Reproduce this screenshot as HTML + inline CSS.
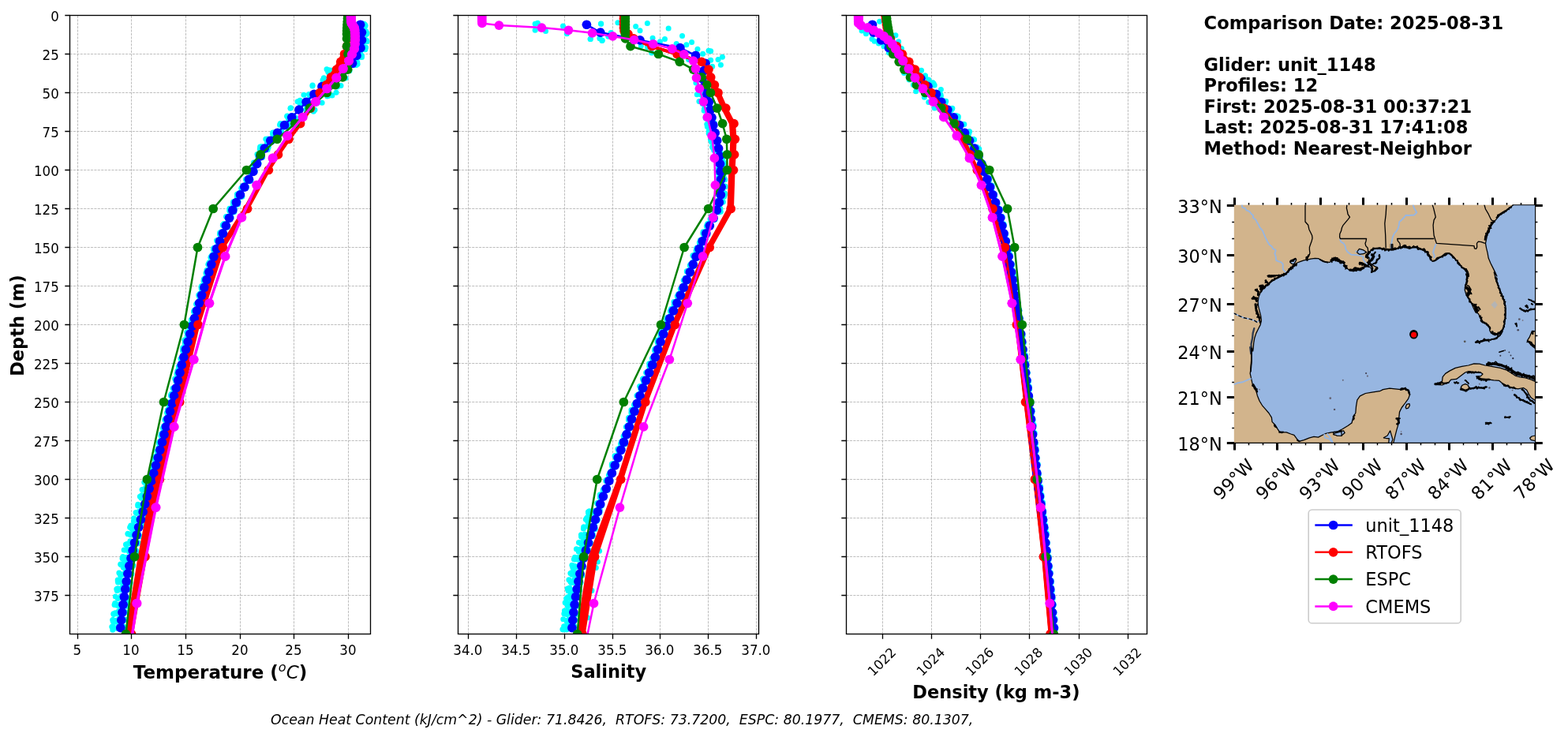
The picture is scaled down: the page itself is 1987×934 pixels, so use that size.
<!DOCTYPE html>
<html lang="en"><head><meta charset="utf-8"><title>Glider / model profile comparison</title>
<style>html,body{margin:0;padding:0;background:#fff}svg{display:block}text{font-family:'DejaVu Sans','Liberation Sans',sans-serif;fill:#000}.tk{font-size:16.67px}.b{font-weight:bold;font-size:22.5px}.g{stroke:#b0b0b0;stroke-width:0.83;stroke-dasharray:3.08 1.33;fill:none}.sp{stroke:#000;stroke-width:1.33;fill:none}</style></head><body>
<svg width="1987" height="934" viewBox="0 0 1987 934">
<rect width="1987" height="934" fill="#fff"/>
<defs>
<clipPath id="c0"><rect x="88.5" y="19.5" width="381" height="784"/></clipPath>
<clipPath id="c1"><rect x="580.5" y="19.5" width="381" height="784"/></clipPath>
<clipPath id="c2"><rect x="1072.5" y="19.5" width="381" height="784"/></clipPath>
<clipPath id="cm"><rect x="1563.8" y="259.8" width="382.2" height="301.9"/></clipPath>
</defs>
<path class="g" d="M98.5 803.5V19.5M166.5 803.5V19.5M235.5 803.5V19.5M304.5 803.5V19.5M372.5 803.5V19.5M441.5 803.5V19.5M88.5 19.5H469.5M88.5 68.5H469.5M88.5 117.5H469.5M88.5 166.5H469.5M88.5 215.5H469.5M88.5 264.5H469.5M88.5 313.5H469.5M88.5 362.5H469.5M88.5 411.5H469.5M88.5 460.5H469.5M88.5 509.5H469.5M88.5 558.5H469.5M88.5 607.5H469.5M88.5 656.5H469.5M88.5 705.5H469.5M88.5 754.5H469.5"/>
<g clip-path="url(#c0)">
<g fill="#00ffff"><circle cx="454.6" cy="32.98" r="3.5"/><circle cx="463.1" cy="32.55" r="3.5"/><circle cx="458.17" cy="30.05" r="3.5"/><circle cx="458.95" cy="30.78" r="3.5"/><circle cx="461.26" cy="30.28" r="3.5"/><circle cx="458.65" cy="31.68" r="3.5"/><circle cx="462.32" cy="31.28" r="3.5"/><circle cx="457" cy="32.54" r="3.5"/><circle cx="459.86" cy="30.01" r="3.5"/><circle cx="462.33" cy="33.67" r="3.5"/><circle cx="461.49" cy="33.27" r="3.5"/><circle cx="457.24" cy="32.41" r="3.5"/><circle cx="456.5" cy="43.05" r="3.5"/><circle cx="465" cy="41.98" r="3.5"/><circle cx="460.51" cy="39.06" r="3.5"/><circle cx="460.19" cy="41.61" r="3.5"/><circle cx="464.26" cy="43.39" r="3.5"/><circle cx="460.55" cy="42.89" r="3.5"/><circle cx="458.71" cy="42.59" r="3.5"/><circle cx="461.16" cy="38.63" r="3.5"/><circle cx="462.62" cy="40.55" r="3.5"/><circle cx="463.51" cy="41.9" r="3.5"/><circle cx="456.51" cy="41.03" r="3.5"/><circle cx="463.87" cy="39.78" r="3.5"/><circle cx="456.5" cy="49.99" r="3.5"/><circle cx="465" cy="52.71" r="3.5"/><circle cx="458.12" cy="51.2" r="3.5"/><circle cx="458.53" cy="53.2" r="3.5"/><circle cx="463.33" cy="50.6" r="3.5"/><circle cx="457.18" cy="49.96" r="3.5"/><circle cx="460.82" cy="53.02" r="3.5"/><circle cx="457.43" cy="51.12" r="3.5"/><circle cx="462.51" cy="51.1" r="3.5"/><circle cx="463.42" cy="51.06" r="3.5"/><circle cx="464.69" cy="51.38" r="3.5"/><circle cx="461.49" cy="50.58" r="3.5"/><circle cx="455" cy="61.14" r="3.5"/><circle cx="463.5" cy="60.08" r="3.5"/><circle cx="459.89" cy="59.61" r="3.5"/><circle cx="456.61" cy="59.09" r="3.5"/><circle cx="460.21" cy="61.44" r="3.5"/><circle cx="459.05" cy="58.61" r="3.5"/><circle cx="461.44" cy="62.54" r="3.5"/><circle cx="462.85" cy="62.37" r="3.5"/><circle cx="462.63" cy="62.78" r="3.5"/><circle cx="459.6" cy="60.12" r="3.5"/><circle cx="460.99" cy="59.54" r="3.5"/><circle cx="461.9" cy="62.41" r="3.5"/><circle cx="450" cy="72.44" r="3.5"/><circle cx="458.5" cy="70.91" r="3.5"/><circle cx="458.07" cy="70.86" r="3.5"/><circle cx="453.83" cy="71.26" r="3.5"/><circle cx="458.47" cy="72.54" r="3.5"/><circle cx="456.74" cy="68.37" r="3.5"/><circle cx="455.21" cy="70.39" r="3.5"/><circle cx="455.36" cy="72.19" r="3.5"/><circle cx="452.07" cy="71.62" r="3.5"/><circle cx="451" cy="69.06" r="3.5"/><circle cx="456.75" cy="69.62" r="3.5"/><circle cx="456.94" cy="68.46" r="3.5"/><circle cx="444.6" cy="78.49" r="3.5"/><circle cx="453.1" cy="81.25" r="3.5"/><circle cx="444.98" cy="80.63" r="3.5"/><circle cx="452.34" cy="80.43" r="3.5"/><circle cx="450.39" cy="77.89" r="3.5"/><circle cx="450" cy="80.79" r="3.5"/><circle cx="449.5" cy="79.72" r="3.5"/><circle cx="447.75" cy="82.66" r="3.5"/><circle cx="444.91" cy="77.87" r="3.5"/><circle cx="452.77" cy="78.68" r="3.5"/><circle cx="445.65" cy="78.81" r="3.5"/><circle cx="451.41" cy="82.44" r="3.5"/><circle cx="414" cy="87.67" r="3.5"/><circle cx="443" cy="89.69" r="3.5"/><circle cx="416.94" cy="88.86" r="3.5"/><circle cx="420.4" cy="90.79" r="3.5"/><circle cx="424.16" cy="88.46" r="3.5"/><circle cx="428.61" cy="87.76" r="3.5"/><circle cx="416.93" cy="92.5" r="3.5"/><circle cx="419.78" cy="89.35" r="3.5"/><circle cx="435.22" cy="91.75" r="3.5"/><circle cx="440.64" cy="88.41" r="3.5"/><circle cx="433.51" cy="92.39" r="3.5"/><circle cx="415.68" cy="90.94" r="3.5"/><circle cx="409" cy="101.59" r="3.5"/><circle cx="438" cy="99.07" r="3.5"/><circle cx="416.27" cy="100.34" r="3.5"/><circle cx="421.83" cy="98.23" r="3.5"/><circle cx="422.68" cy="99.41" r="3.5"/><circle cx="425.5" cy="99.9" r="3.5"/><circle cx="418.03" cy="99.15" r="3.5"/><circle cx="433.29" cy="98.61" r="3.5"/><circle cx="425.26" cy="97.42" r="3.5"/><circle cx="430.51" cy="99.04" r="3.5"/><circle cx="410.33" cy="98.76" r="3.5"/><circle cx="415.96" cy="102.13" r="3.5"/><circle cx="396" cy="108.92" r="3.5"/><circle cx="432" cy="108.6" r="3.5"/><circle cx="408.93" cy="111.89" r="3.5"/><circle cx="418.81" cy="110.27" r="3.5"/><circle cx="421.76" cy="109.1" r="3.5"/><circle cx="410.92" cy="110.41" r="3.5"/><circle cx="396.05" cy="108.12" r="3.5"/><circle cx="408.04" cy="108.36" r="3.5"/><circle cx="418.95" cy="109.05" r="3.5"/><circle cx="427.52" cy="110" r="3.5"/><circle cx="410.92" cy="109.17" r="3.5"/><circle cx="421.27" cy="109.25" r="3.5"/><circle cx="385" cy="120.27" r="3.5"/><circle cx="426" cy="117.19" r="3.5"/><circle cx="403.26" cy="118.26" r="3.5"/><circle cx="391.47" cy="119.6" r="3.5"/><circle cx="404.98" cy="119.77" r="3.5"/><circle cx="415.97" cy="121.38" r="3.5"/><circle cx="405.28" cy="118.52" r="3.5"/><circle cx="404.14" cy="121.01" r="3.5"/><circle cx="420.88" cy="121.02" r="3.5"/><circle cx="392.71" cy="121.96" r="3.5"/><circle cx="410.96" cy="117.38" r="3.5"/><circle cx="414.75" cy="121.89" r="3.5"/><circle cx="377.1" cy="128.77" r="3.5"/><circle cx="408.1" cy="130.15" r="3.5"/><circle cx="386.9" cy="127.83" r="3.5"/><circle cx="399.34" cy="126.77" r="3.5"/><circle cx="402.6" cy="129.4" r="3.5"/><circle cx="380.13" cy="127.35" r="3.5"/><circle cx="397.23" cy="131.13" r="3.5"/><circle cx="385.78" cy="131.65" r="3.5"/><circle cx="380.21" cy="131.03" r="3.5"/><circle cx="389.4" cy="127.17" r="3.5"/><circle cx="385.62" cy="129.02" r="3.5"/><circle cx="401.66" cy="131.07" r="3.5"/><circle cx="367.95" cy="137.23" r="3.5"/><circle cx="398.95" cy="139.16" r="3.5"/><circle cx="388.12" cy="138.3" r="3.5"/><circle cx="394.98" cy="137.95" r="3.5"/><circle cx="368.53" cy="136.76" r="3.5"/><circle cx="389.06" cy="139.35" r="3.5"/><circle cx="397.29" cy="141.25" r="3.5"/><circle cx="396.16" cy="136.77" r="3.5"/><circle cx="391.17" cy="140.07" r="3.5"/><circle cx="388.27" cy="140.12" r="3.5"/><circle cx="395.93" cy="139.76" r="3.5"/><circle cx="379.5" cy="139.25" r="3.5"/><circle cx="363.75" cy="147.4" r="3.5"/><circle cx="374.75" cy="149.3" r="3.5"/><circle cx="363.85" cy="147.12" r="3.5"/><circle cx="367.42" cy="150.31" r="3.5"/><circle cx="371.65" cy="148.05" r="3.5"/><circle cx="370.58" cy="146.57" r="3.5"/><circle cx="365.55" cy="151.27" r="3.5"/><circle cx="366.93" cy="148.33" r="3.5"/><circle cx="369.78" cy="147.83" r="3.5"/><circle cx="369.01" cy="147.56" r="3.5"/><circle cx="364.28" cy="147.26" r="3.5"/><circle cx="369.5" cy="146.71" r="3.5"/><circle cx="354.55" cy="158.18" r="3.5"/><circle cx="365.55" cy="157.8" r="3.5"/><circle cx="359.11" cy="156.66" r="3.5"/><circle cx="364.55" cy="158.53" r="3.5"/><circle cx="363.8" cy="161.04" r="3.5"/><circle cx="358.33" cy="158.56" r="3.5"/><circle cx="362.25" cy="158.29" r="3.5"/><circle cx="357.87" cy="159.83" r="3.5"/><circle cx="364.39" cy="160.76" r="3.5"/><circle cx="361.44" cy="158.04" r="3.5"/><circle cx="365.27" cy="159.35" r="3.5"/><circle cx="355.27" cy="156.58" r="3.5"/><circle cx="345.6" cy="169.71" r="3.5"/><circle cx="356.6" cy="166.27" r="3.5"/><circle cx="345.69" cy="167.93" r="3.5"/><circle cx="351.31" cy="168.2" r="3.5"/><circle cx="350.97" cy="168.88" r="3.5"/><circle cx="353.07" cy="168.08" r="3.5"/><circle cx="349.65" cy="170.9" r="3.5"/><circle cx="348.47" cy="169.85" r="3.5"/><circle cx="350.34" cy="167.75" r="3.5"/><circle cx="346.3" cy="170.28" r="3.5"/><circle cx="353.32" cy="170.48" r="3.5"/><circle cx="350.57" cy="169.34" r="3.5"/><circle cx="336.82" cy="176.35" r="3.5"/><circle cx="347.82" cy="177.75" r="3.5"/><circle cx="339.1" cy="175.97" r="3.5"/><circle cx="347.25" cy="176.84" r="3.5"/><circle cx="338.43" cy="176.75" r="3.5"/><circle cx="340.98" cy="178.49" r="3.5"/><circle cx="338.49" cy="180.7" r="3.5"/><circle cx="347.64" cy="176.5" r="3.5"/><circle cx="341.29" cy="179.16" r="3.5"/><circle cx="346.48" cy="178.24" r="3.5"/><circle cx="346.91" cy="177.37" r="3.5"/><circle cx="342.31" cy="178.25" r="3.5"/><circle cx="329.27" cy="188.91" r="3.5"/><circle cx="340.27" cy="186.57" r="3.5"/><circle cx="335.98" cy="186.65" r="3.5"/><circle cx="333.02" cy="190.37" r="3.5"/><circle cx="339.16" cy="189.65" r="3.5"/><circle cx="329.67" cy="186.3" r="3.5"/><circle cx="332.1" cy="189.48" r="3.5"/><circle cx="338.54" cy="188.47" r="3.5"/><circle cx="337.17" cy="189.6" r="3.5"/><circle cx="330" cy="185.98" r="3.5"/><circle cx="338.83" cy="185.76" r="3.5"/><circle cx="331.75" cy="185.76" r="3.5"/><circle cx="325.95" cy="195.44" r="3.5"/><circle cx="332.45" cy="199.58" r="3.5"/><circle cx="328.1" cy="196.16" r="3.5"/><circle cx="326.92" cy="198.64" r="3.5"/><circle cx="332.25" cy="197.88" r="3.5"/><circle cx="331.81" cy="197.87" r="3.5"/><circle cx="329.68" cy="198.75" r="3.5"/><circle cx="331.18" cy="199.15" r="3.5"/><circle cx="332.39" cy="199.09" r="3.5"/><circle cx="331.84" cy="196.39" r="3.5"/><circle cx="329.43" cy="198.35" r="3.5"/><circle cx="331.32" cy="197.77" r="3.5"/><circle cx="321.55" cy="209.12" r="3.5"/><circle cx="328.05" cy="207.1" r="3.5"/><circle cx="325.36" cy="209.42" r="3.5"/><circle cx="326.74" cy="208.44" r="3.5"/><circle cx="321.55" cy="206.07" r="3.5"/><circle cx="324.84" cy="206.43" r="3.5"/><circle cx="321.98" cy="209.46" r="3.5"/><circle cx="327.68" cy="206.67" r="3.5"/><circle cx="324.2" cy="209.21" r="3.5"/><circle cx="321.95" cy="208.36" r="3.5"/><circle cx="322.38" cy="206.6" r="3.5"/><circle cx="326.94" cy="205.44" r="3.5"/><circle cx="316.8" cy="215.14" r="3.5"/><circle cx="323.3" cy="217.05" r="3.5"/><circle cx="320" cy="219.28" r="3.5"/><circle cx="321.46" cy="218.33" r="3.5"/><circle cx="317.78" cy="219.89" r="3.5"/><circle cx="319.47" cy="218.02" r="3.5"/><circle cx="319.31" cy="215.2" r="3.5"/><circle cx="319.86" cy="215.72" r="3.5"/><circle cx="317.01" cy="218.05" r="3.5"/><circle cx="320.89" cy="215.49" r="3.5"/><circle cx="320.37" cy="216.69" r="3.5"/><circle cx="319.29" cy="218.84" r="3.5"/><circle cx="311.45" cy="227.21" r="3.5"/><circle cx="317.95" cy="229.17" r="3.5"/><circle cx="315.42" cy="227.1" r="3.5"/><circle cx="315.56" cy="226.45" r="3.5"/><circle cx="312.26" cy="228.17" r="3.5"/><circle cx="315.49" cy="228.7" r="3.5"/><circle cx="312.28" cy="229.32" r="3.5"/><circle cx="316.65" cy="229.34" r="3.5"/><circle cx="317.12" cy="228.17" r="3.5"/><circle cx="316.72" cy="227.36" r="3.5"/><circle cx="316.56" cy="225.71" r="3.5"/><circle cx="316.53" cy="226.98" r="3.5"/><circle cx="305.83" cy="238.34" r="3.5"/><circle cx="312.33" cy="236.84" r="3.5"/><circle cx="310.96" cy="234.94" r="3.5"/><circle cx="306.12" cy="239.23" r="3.5"/><circle cx="308.99" cy="239.07" r="3.5"/><circle cx="311.97" cy="237.89" r="3.5"/><circle cx="309.54" cy="235.64" r="3.5"/><circle cx="306.43" cy="238.66" r="3.5"/><circle cx="311.6" cy="238.46" r="3.5"/><circle cx="310.37" cy="236.66" r="3.5"/><circle cx="307.81" cy="235.13" r="3.5"/><circle cx="308.59" cy="237.39" r="3.5"/><circle cx="300.43" cy="248.97" r="3.5"/><circle cx="306.93" cy="249.04" r="3.5"/><circle cx="303.13" cy="244.86" r="3.5"/><circle cx="305.45" cy="248.03" r="3.5"/><circle cx="300.62" cy="246.59" r="3.5"/><circle cx="304.89" cy="244.51" r="3.5"/><circle cx="306.4" cy="249.17" r="3.5"/><circle cx="305.12" cy="244.75" r="3.5"/><circle cx="300.88" cy="246.16" r="3.5"/><circle cx="300.62" cy="246.1" r="3.5"/><circle cx="300.49" cy="249.23" r="3.5"/><circle cx="305.75" cy="244.71" r="3.5"/><circle cx="295.4" cy="258.63" r="3.5"/><circle cx="301.9" cy="255.2" r="3.5"/><circle cx="296.73" cy="257.53" r="3.5"/><circle cx="301.5" cy="254.78" r="3.5"/><circle cx="295.45" cy="256.01" r="3.5"/><circle cx="295.56" cy="257.18" r="3.5"/><circle cx="300.98" cy="255.09" r="3.5"/><circle cx="296.13" cy="255.88" r="3.5"/><circle cx="301.63" cy="254.81" r="3.5"/><circle cx="301.68" cy="255.97" r="3.5"/><circle cx="298.48" cy="255.62" r="3.5"/><circle cx="301.49" cy="258.95" r="3.5"/><circle cx="290.82" cy="267.14" r="3.5"/><circle cx="297.32" cy="264.88" r="3.5"/><circle cx="297.28" cy="264.47" r="3.5"/><circle cx="294.6" cy="264.74" r="3.5"/><circle cx="296.66" cy="268.69" r="3.5"/><circle cx="296.05" cy="265.54" r="3.5"/><circle cx="292.4" cy="267.73" r="3.5"/><circle cx="292.72" cy="266.06" r="3.5"/><circle cx="291.13" cy="264.62" r="3.5"/><circle cx="290.96" cy="264.35" r="3.5"/><circle cx="291.3" cy="266.06" r="3.5"/><circle cx="294.41" cy="267.66" r="3.5"/><circle cx="286.5" cy="274.47" r="3.5"/><circle cx="293" cy="275.87" r="3.5"/><circle cx="290.64" cy="274.18" r="3.5"/><circle cx="289.39" cy="275.61" r="3.5"/><circle cx="292.67" cy="274.05" r="3.5"/><circle cx="289.16" cy="275.85" r="3.5"/><circle cx="291.23" cy="275.36" r="3.5"/><circle cx="287.83" cy="275.23" r="3.5"/><circle cx="289.56" cy="278.51" r="3.5"/><circle cx="291.68" cy="275.14" r="3.5"/><circle cx="290.13" cy="277.2" r="3.5"/><circle cx="291.67" cy="275.99" r="3.5"/><circle cx="282.35" cy="285.55" r="3.5"/><circle cx="288.85" cy="287.4" r="3.5"/><circle cx="285.16" cy="284.8" r="3.5"/><circle cx="285.3" cy="288.25" r="3.5"/><circle cx="283.28" cy="285.87" r="3.5"/><circle cx="286.49" cy="285.98" r="3.5"/><circle cx="283.67" cy="283.57" r="3.5"/><circle cx="286.89" cy="286.65" r="3.5"/><circle cx="282.4" cy="285.05" r="3.5"/><circle cx="287.35" cy="286.7" r="3.5"/><circle cx="285.89" cy="284.34" r="3.5"/><circle cx="286.94" cy="285.92" r="3.5"/><circle cx="278.47" cy="296.75" r="3.5"/><circle cx="284.97" cy="297.16" r="3.5"/><circle cx="279.99" cy="297.17" r="3.5"/><circle cx="280.3" cy="298.28" r="3.5"/><circle cx="279.26" cy="297.78" r="3.5"/><circle cx="278.74" cy="294.64" r="3.5"/><circle cx="281.89" cy="296.27" r="3.5"/><circle cx="281.05" cy="293.87" r="3.5"/><circle cx="280.12" cy="294.78" r="3.5"/><circle cx="283.38" cy="297.9" r="3.5"/><circle cx="282.35" cy="293.54" r="3.5"/><circle cx="283.62" cy="294.89" r="3.5"/><circle cx="274.57" cy="304.86" r="3.5"/><circle cx="281.07" cy="305.81" r="3.5"/><circle cx="276.19" cy="307.76" r="3.5"/><circle cx="275.64" cy="305.23" r="3.5"/><circle cx="276.46" cy="305.76" r="3.5"/><circle cx="278.31" cy="306.3" r="3.5"/><circle cx="278.03" cy="305.21" r="3.5"/><circle cx="278.7" cy="305.18" r="3.5"/><circle cx="279.64" cy="307.1" r="3.5"/><circle cx="276.47" cy="305.02" r="3.5"/><circle cx="278.66" cy="303.95" r="3.5"/><circle cx="279.11" cy="305.07" r="3.5"/><circle cx="270.53" cy="315.92" r="3.5"/><circle cx="277.03" cy="313.66" r="3.5"/><circle cx="274.87" cy="314.73" r="3.5"/><circle cx="273.6" cy="315.04" r="3.5"/><circle cx="273.62" cy="316.43" r="3.5"/><circle cx="272.59" cy="316.22" r="3.5"/><circle cx="270.92" cy="314.46" r="3.5"/><circle cx="275.37" cy="313.22" r="3.5"/><circle cx="274.56" cy="313.09" r="3.5"/><circle cx="273.59" cy="317.4" r="3.5"/><circle cx="270.59" cy="315.59" r="3.5"/><circle cx="270.96" cy="317.3" r="3.5"/><circle cx="266.95" cy="326.19" r="3.5"/><circle cx="273.45" cy="326.47" r="3.5"/><circle cx="271.3" cy="322.79" r="3.5"/><circle cx="267.22" cy="325.86" r="3.5"/><circle cx="273.45" cy="327.13" r="3.5"/><circle cx="271.5" cy="326.4" r="3.5"/><circle cx="268.42" cy="326.52" r="3.5"/><circle cx="268.82" cy="323.29" r="3.5"/><circle cx="269.95" cy="324.41" r="3.5"/><circle cx="268.04" cy="324.87" r="3.5"/><circle cx="272.78" cy="324.94" r="3.5"/><circle cx="269.86" cy="326.3" r="3.5"/><circle cx="263.9" cy="335.18" r="3.5"/><circle cx="270.4" cy="333.21" r="3.5"/><circle cx="269.82" cy="334.78" r="3.5"/><circle cx="269.03" cy="334.5" r="3.5"/><circle cx="269.14" cy="334.51" r="3.5"/><circle cx="265.33" cy="333.54" r="3.5"/><circle cx="270.01" cy="335.49" r="3.5"/><circle cx="264.22" cy="334.5" r="3.5"/><circle cx="265.42" cy="332.98" r="3.5"/><circle cx="265.11" cy="332.84" r="3.5"/><circle cx="268.05" cy="333.43" r="3.5"/><circle cx="267.87" cy="335.62" r="3.5"/><circle cx="260.9" cy="345.88" r="3.5"/><circle cx="267.4" cy="344.92" r="3.5"/><circle cx="262.75" cy="346.75" r="3.5"/><circle cx="263.19" cy="344.65" r="3.5"/><circle cx="265.01" cy="344.94" r="3.5"/><circle cx="267.12" cy="347.13" r="3.5"/><circle cx="266.94" cy="347.03" r="3.5"/><circle cx="264.68" cy="344.81" r="3.5"/><circle cx="265.48" cy="343.44" r="3.5"/><circle cx="262.63" cy="342.58" r="3.5"/><circle cx="261.96" cy="342.38" r="3.5"/><circle cx="265.16" cy="343.06" r="3.5"/><circle cx="257.95" cy="356.09" r="3.5"/><circle cx="264.45" cy="355.56" r="3.5"/><circle cx="264.26" cy="354.14" r="3.5"/><circle cx="263.94" cy="354.43" r="3.5"/><circle cx="260.16" cy="352.67" r="3.5"/><circle cx="263.69" cy="356.13" r="3.5"/><circle cx="260.05" cy="354.44" r="3.5"/><circle cx="260.06" cy="352.3" r="3.5"/><circle cx="258.24" cy="354" r="3.5"/><circle cx="259.31" cy="354.78" r="3.5"/><circle cx="259.17" cy="353.17" r="3.5"/><circle cx="262.32" cy="355.84" r="3.5"/><circle cx="254.9" cy="363.52" r="3.5"/><circle cx="261.4" cy="366.26" r="3.5"/><circle cx="256.56" cy="363.68" r="3.5"/><circle cx="259.53" cy="362.18" r="3.5"/><circle cx="260.97" cy="362.32" r="3.5"/><circle cx="257.9" cy="365.58" r="3.5"/><circle cx="255.21" cy="366.01" r="3.5"/><circle cx="261.26" cy="364.26" r="3.5"/><circle cx="255.67" cy="362.37" r="3.5"/><circle cx="255.54" cy="365.79" r="3.5"/><circle cx="257.59" cy="366.56" r="3.5"/><circle cx="257.76" cy="362.35" r="3.5"/><circle cx="251.7" cy="373.89" r="3.5"/><circle cx="258.2" cy="375.53" r="3.5"/><circle cx="257.09" cy="371.96" r="3.5"/><circle cx="252.87" cy="374.21" r="3.5"/><circle cx="252.53" cy="376.12" r="3.5"/><circle cx="257.77" cy="373.36" r="3.5"/><circle cx="254.53" cy="374.55" r="3.5"/><circle cx="253.56" cy="374.47" r="3.5"/><circle cx="253.01" cy="373.24" r="3.5"/><circle cx="254.57" cy="374.78" r="3.5"/><circle cx="255.19" cy="373.06" r="3.5"/><circle cx="253.21" cy="372.35" r="3.5"/><circle cx="248.55" cy="385.48" r="3.5"/><circle cx="255.05" cy="382.05" r="3.5"/><circle cx="253.31" cy="382.8" r="3.5"/><circle cx="250.4" cy="385.24" r="3.5"/><circle cx="252.84" cy="385.27" r="3.5"/><circle cx="251.9" cy="385.86" r="3.5"/><circle cx="249.34" cy="384.79" r="3.5"/><circle cx="249.32" cy="385.25" r="3.5"/><circle cx="250.88" cy="384.93" r="3.5"/><circle cx="253.12" cy="384.86" r="3.5"/><circle cx="249.99" cy="385.72" r="3.5"/><circle cx="250.11" cy="384.15" r="3.5"/><circle cx="245.45" cy="394.73" r="3.5"/><circle cx="251.95" cy="392.53" r="3.5"/><circle cx="249.54" cy="392.79" r="3.5"/><circle cx="246.56" cy="395.41" r="3.5"/><circle cx="249.05" cy="393" r="3.5"/><circle cx="249.26" cy="391.49" r="3.5"/><circle cx="246.29" cy="393.34" r="3.5"/><circle cx="251.79" cy="393.91" r="3.5"/><circle cx="245.95" cy="395.19" r="3.5"/><circle cx="250.53" cy="395.23" r="3.5"/><circle cx="249.15" cy="394.84" r="3.5"/><circle cx="246.84" cy="395.02" r="3.5"/><circle cx="242.4" cy="405.24" r="3.5"/><circle cx="248.9" cy="404.96" r="3.5"/><circle cx="244.7" cy="404.12" r="3.5"/><circle cx="246.49" cy="405.66" r="3.5"/><circle cx="243.1" cy="405.33" r="3.5"/><circle cx="245.82" cy="402.95" r="3.5"/><circle cx="245.36" cy="401.22" r="3.5"/><circle cx="243.83" cy="404.42" r="3.5"/><circle cx="246.7" cy="403.63" r="3.5"/><circle cx="248.6" cy="403.56" r="3.5"/><circle cx="244.44" cy="405.4" r="3.5"/><circle cx="244.08" cy="404.18" r="3.5"/><circle cx="239.5" cy="414.48" r="3.5"/><circle cx="246" cy="415.07" r="3.5"/><circle cx="244.6" cy="412.88" r="3.5"/><circle cx="239.88" cy="411.15" r="3.5"/><circle cx="244.22" cy="415.77" r="3.5"/><circle cx="241.73" cy="413.17" r="3.5"/><circle cx="244.22" cy="414.25" r="3.5"/><circle cx="241.19" cy="414.32" r="3.5"/><circle cx="241.48" cy="412.74" r="3.5"/><circle cx="243.01" cy="414.62" r="3.5"/><circle cx="240.48" cy="411.07" r="3.5"/><circle cx="243.58" cy="411.08" r="3.5"/><circle cx="236.75" cy="420.98" r="3.5"/><circle cx="243.25" cy="421.89" r="3.5"/><circle cx="241" cy="421.09" r="3.5"/><circle cx="237.16" cy="425.62" r="3.5"/><circle cx="239.5" cy="425.22" r="3.5"/><circle cx="238.16" cy="422.94" r="3.5"/><circle cx="239.08" cy="421.64" r="3.5"/><circle cx="238.89" cy="425.69" r="3.5"/><circle cx="241.61" cy="422.67" r="3.5"/><circle cx="239.41" cy="422.08" r="3.5"/><circle cx="240.2" cy="424.44" r="3.5"/><circle cx="241.21" cy="423.07" r="3.5"/><circle cx="234.12" cy="430.77" r="3.5"/><circle cx="240.62" cy="435.17" r="3.5"/><circle cx="236.78" cy="432.51" r="3.5"/><circle cx="234.15" cy="431.25" r="3.5"/><circle cx="239.77" cy="433.13" r="3.5"/><circle cx="238.89" cy="431.3" r="3.5"/><circle cx="236.27" cy="434.76" r="3.5"/><circle cx="239.46" cy="431.79" r="3.5"/><circle cx="234.27" cy="434.59" r="3.5"/><circle cx="235.22" cy="434.5" r="3.5"/><circle cx="238.57" cy="431.4" r="3.5"/><circle cx="234.64" cy="435.2" r="3.5"/><circle cx="231.52" cy="443.35" r="3.5"/><circle cx="238.02" cy="443.46" r="3.5"/><circle cx="234.5" cy="441.11" r="3.5"/><circle cx="235.44" cy="441.62" r="3.5"/><circle cx="236.76" cy="444.02" r="3.5"/><circle cx="231.7" cy="445.02" r="3.5"/><circle cx="231.76" cy="440.81" r="3.5"/><circle cx="233.43" cy="441.11" r="3.5"/><circle cx="233.06" cy="442.14" r="3.5"/><circle cx="236.31" cy="442.38" r="3.5"/><circle cx="233.28" cy="442.82" r="3.5"/><circle cx="234.08" cy="441.91" r="3.5"/><circle cx="228.85" cy="454.66" r="3.5"/><circle cx="235.35" cy="452.91" r="3.5"/><circle cx="235.2" cy="454.02" r="3.5"/><circle cx="232.56" cy="451.47" r="3.5"/><circle cx="233.31" cy="452.44" r="3.5"/><circle cx="233.54" cy="452.18" r="3.5"/><circle cx="232.07" cy="450.26" r="3.5"/><circle cx="233.66" cy="450.33" r="3.5"/><circle cx="233.27" cy="453.07" r="3.5"/><circle cx="233.89" cy="451.61" r="3.5"/><circle cx="233.31" cy="451.2" r="3.5"/><circle cx="232.29" cy="451.86" r="3.5"/><circle cx="226.33" cy="464.85" r="3.5"/><circle cx="232.83" cy="464.82" r="3.5"/><circle cx="227.68" cy="462.79" r="3.5"/><circle cx="228.47" cy="464.8" r="3.5"/><circle cx="232.33" cy="462.89" r="3.5"/><circle cx="231.01" cy="463.37" r="3.5"/><circle cx="228.62" cy="464.54" r="3.5"/><circle cx="232.17" cy="461.61" r="3.5"/><circle cx="231.18" cy="460.01" r="3.5"/><circle cx="231.63" cy="462.78" r="3.5"/><circle cx="232.51" cy="461.78" r="3.5"/><circle cx="230.39" cy="461.58" r="3.5"/><circle cx="224.02" cy="473.67" r="3.5"/><circle cx="230.52" cy="472.76" r="3.5"/><circle cx="230.44" cy="469.77" r="3.5"/><circle cx="224.94" cy="469.98" r="3.5"/><circle cx="224.84" cy="474.41" r="3.5"/><circle cx="230.19" cy="472.16" r="3.5"/><circle cx="230.18" cy="473.85" r="3.5"/><circle cx="229.09" cy="473.5" r="3.5"/><circle cx="225.24" cy="472.5" r="3.5"/><circle cx="226.78" cy="474.51" r="3.5"/><circle cx="225.15" cy="470.61" r="3.5"/><circle cx="228.31" cy="470.55" r="3.5"/><circle cx="221.65" cy="480.11" r="3.5"/><circle cx="228.15" cy="482.08" r="3.5"/><circle cx="226.83" cy="482.59" r="3.5"/><circle cx="226.56" cy="480.89" r="3.5"/><circle cx="223.5" cy="481.7" r="3.5"/><circle cx="228.09" cy="483.15" r="3.5"/><circle cx="227.8" cy="482.25" r="3.5"/><circle cx="225.25" cy="484.51" r="3.5"/><circle cx="222.88" cy="483.47" r="3.5"/><circle cx="226.79" cy="483.78" r="3.5"/><circle cx="226.53" cy="480.34" r="3.5"/><circle cx="225.95" cy="484.18" r="3.5"/><circle cx="219.12" cy="492.18" r="3.5"/><circle cx="225.62" cy="491.16" r="3.5"/><circle cx="225.3" cy="492.17" r="3.5"/><circle cx="221.8" cy="492.43" r="3.5"/><circle cx="224.35" cy="490.5" r="3.5"/><circle cx="219.23" cy="492.01" r="3.5"/><circle cx="225.24" cy="492.76" r="3.5"/><circle cx="223.23" cy="492.5" r="3.5"/><circle cx="222.36" cy="493.01" r="3.5"/><circle cx="220.74" cy="493.82" r="3.5"/><circle cx="220.91" cy="494.08" r="3.5"/><circle cx="225.15" cy="489.75" r="3.5"/><circle cx="216.52" cy="501.4" r="3.5"/><circle cx="223.02" cy="502.88" r="3.5"/><circle cx="219.45" cy="501.7" r="3.5"/><circle cx="221.77" cy="502.68" r="3.5"/><circle cx="222.75" cy="499.98" r="3.5"/><circle cx="222.53" cy="503.8" r="3.5"/><circle cx="220.65" cy="503.86" r="3.5"/><circle cx="218.17" cy="503.57" r="3.5"/><circle cx="221.55" cy="502.21" r="3.5"/><circle cx="217.11" cy="499.31" r="3.5"/><circle cx="216.6" cy="500.41" r="3.5"/><circle cx="221.48" cy="501.09" r="3.5"/><circle cx="213.98" cy="512.84" r="3.5"/><circle cx="220.48" cy="512.09" r="3.5"/><circle cx="216.51" cy="513.36" r="3.5"/><circle cx="214.22" cy="511.29" r="3.5"/><circle cx="219.37" cy="509.59" r="3.5"/><circle cx="218.59" cy="510.6" r="3.5"/><circle cx="214.13" cy="511.33" r="3.5"/><circle cx="217.37" cy="509.17" r="3.5"/><circle cx="217.65" cy="510.7" r="3.5"/><circle cx="214" cy="509.91" r="3.5"/><circle cx="214.7" cy="511.66" r="3.5"/><circle cx="214.26" cy="513.6" r="3.5"/><circle cx="211.53" cy="522.99" r="3.5"/><circle cx="218.03" cy="523.49" r="3.5"/><circle cx="213.57" cy="523.29" r="3.5"/><circle cx="217.92" cy="522.58" r="3.5"/><circle cx="213.31" cy="522.11" r="3.5"/><circle cx="215.4" cy="520.78" r="3.5"/><circle cx="213.51" cy="519.06" r="3.5"/><circle cx="212.34" cy="519.43" r="3.5"/><circle cx="214.65" cy="521.97" r="3.5"/><circle cx="216.49" cy="518.99" r="3.5"/><circle cx="216.88" cy="518.98" r="3.5"/><circle cx="215.13" cy="522.48" r="3.5"/><circle cx="208.95" cy="531.72" r="3.5"/><circle cx="215.45" cy="533.31" r="3.5"/><circle cx="211.19" cy="531.49" r="3.5"/><circle cx="209.49" cy="531.36" r="3.5"/><circle cx="214.24" cy="529.57" r="3.5"/><circle cx="210.65" cy="532.06" r="3.5"/><circle cx="210.6" cy="529.86" r="3.5"/><circle cx="215.03" cy="533.55" r="3.5"/><circle cx="209.96" cy="533.06" r="3.5"/><circle cx="212.54" cy="528.75" r="3.5"/><circle cx="212.76" cy="531.77" r="3.5"/><circle cx="209.17" cy="532.35" r="3.5"/><circle cx="206.43" cy="542.45" r="3.5"/><circle cx="212.93" cy="538.72" r="3.5"/><circle cx="210.64" cy="540.64" r="3.5"/><circle cx="207.98" cy="540.65" r="3.5"/><circle cx="207.46" cy="540.03" r="3.5"/><circle cx="210.68" cy="540.74" r="3.5"/><circle cx="210.04" cy="541.08" r="3.5"/><circle cx="211.76" cy="540.08" r="3.5"/><circle cx="211.71" cy="538.76" r="3.5"/><circle cx="209.21" cy="540.12" r="3.5"/><circle cx="209.36" cy="542.53" r="3.5"/><circle cx="209.76" cy="543.3" r="3.5"/><circle cx="204.05" cy="552.47" r="3.5"/><circle cx="210.55" cy="548.75" r="3.5"/><circle cx="206.11" cy="548.27" r="3.5"/><circle cx="208.82" cy="548.26" r="3.5"/><circle cx="209.81" cy="549.13" r="3.5"/><circle cx="206.74" cy="548.47" r="3.5"/><circle cx="206.07" cy="550.11" r="3.5"/><circle cx="204.39" cy="552" r="3.5"/><circle cx="208.67" cy="549.95" r="3.5"/><circle cx="209.48" cy="548.55" r="3.5"/><circle cx="204.4" cy="549.93" r="3.5"/><circle cx="209.91" cy="551.94" r="3.5"/><circle cx="201.5" cy="561.32" r="3.5"/><circle cx="208" cy="560.77" r="3.5"/><circle cx="206.72" cy="560.02" r="3.5"/><circle cx="201.7" cy="561.97" r="3.5"/><circle cx="202.74" cy="559.9" r="3.5"/><circle cx="203.82" cy="558.58" r="3.5"/><circle cx="203.78" cy="558.85" r="3.5"/><circle cx="205.5" cy="561.23" r="3.5"/><circle cx="201.59" cy="560.24" r="3.5"/><circle cx="205.1" cy="562.32" r="3.5"/><circle cx="204.72" cy="558.36" r="3.5"/><circle cx="201.84" cy="562.27" r="3.5"/><circle cx="198.85" cy="571.71" r="3.5"/><circle cx="205.35" cy="572.05" r="3.5"/><circle cx="200.55" cy="571" r="3.5"/><circle cx="199.47" cy="571.89" r="3.5"/><circle cx="201.02" cy="572.54" r="3.5"/><circle cx="201.91" cy="567.93" r="3.5"/><circle cx="204.76" cy="570.89" r="3.5"/><circle cx="200.72" cy="567.94" r="3.5"/><circle cx="201.3" cy="568.54" r="3.5"/><circle cx="202.41" cy="568.49" r="3.5"/><circle cx="199.98" cy="572.36" r="3.5"/><circle cx="203.01" cy="568.97" r="3.5"/><circle cx="196.23" cy="581.95" r="3.5"/><circle cx="202.73" cy="580.68" r="3.5"/><circle cx="202.37" cy="579.97" r="3.5"/><circle cx="202" cy="580.95" r="3.5"/><circle cx="196.51" cy="578.76" r="3.5"/><circle cx="198.06" cy="578.41" r="3.5"/><circle cx="197.77" cy="578.69" r="3.5"/><circle cx="201.93" cy="579.87" r="3.5"/><circle cx="201.92" cy="578.25" r="3.5"/><circle cx="199.9" cy="577.63" r="3.5"/><circle cx="202.27" cy="577.59" r="3.5"/><circle cx="198.76" cy="581.57" r="3.5"/><circle cx="193.55" cy="592.36" r="3.5"/><circle cx="200.05" cy="587.46" r="3.5"/><circle cx="198.91" cy="589.91" r="3.5"/><circle cx="193.8" cy="591.25" r="3.5"/><circle cx="194.28" cy="590.42" r="3.5"/><circle cx="198.61" cy="590.73" r="3.5"/><circle cx="196.02" cy="587.49" r="3.5"/><circle cx="196.39" cy="591.93" r="3.5"/><circle cx="195.71" cy="588.6" r="3.5"/><circle cx="194.45" cy="589.91" r="3.5"/><circle cx="197.02" cy="587.73" r="3.5"/><circle cx="196.2" cy="590.65" r="3.5"/><circle cx="190.75" cy="601.99" r="3.5"/><circle cx="197.25" cy="599.32" r="3.5"/><circle cx="193.58" cy="599.52" r="3.5"/><circle cx="192.21" cy="599.13" r="3.5"/><circle cx="194.94" cy="599.15" r="3.5"/><circle cx="194.53" cy="601.34" r="3.5"/><circle cx="197.24" cy="601.59" r="3.5"/><circle cx="193.17" cy="597.27" r="3.5"/><circle cx="194.73" cy="599.53" r="3.5"/><circle cx="192.29" cy="597.36" r="3.5"/><circle cx="192.84" cy="601.15" r="3.5"/><circle cx="197.02" cy="597.69" r="3.5"/><circle cx="182.85" cy="611.35" r="3.5"/><circle cx="196.85" cy="607.2" r="3.5"/><circle cx="192.84" cy="607.09" r="3.5"/><circle cx="188.74" cy="611.31" r="3.5"/><circle cx="188.35" cy="611.58" r="3.5"/><circle cx="192.83" cy="609.98" r="3.5"/><circle cx="185.11" cy="608.66" r="3.5"/><circle cx="188.61" cy="609.91" r="3.5"/><circle cx="196.79" cy="608.38" r="3.5"/><circle cx="189.9" cy="611.63" r="3.5"/><circle cx="187.69" cy="610.1" r="3.5"/><circle cx="193.58" cy="610.11" r="3.5"/><circle cx="180.07" cy="620.53" r="3.5"/><circle cx="194.07" cy="617.74" r="3.5"/><circle cx="193.48" cy="617.64" r="3.5"/><circle cx="188.25" cy="618.24" r="3.5"/><circle cx="188.96" cy="618.22" r="3.5"/><circle cx="186.11" cy="620.17" r="3.5"/><circle cx="183.84" cy="620.4" r="3.5"/><circle cx="184.93" cy="617.42" r="3.5"/><circle cx="188.66" cy="617.59" r="3.5"/><circle cx="186.1" cy="618.75" r="3.5"/><circle cx="181.14" cy="620.31" r="3.5"/><circle cx="189.61" cy="620.65" r="3.5"/><circle cx="177.38" cy="629.28" r="3.5"/><circle cx="191.38" cy="629.33" r="3.5"/><circle cx="179.74" cy="627.6" r="3.5"/><circle cx="180.57" cy="629.19" r="3.5"/><circle cx="188.84" cy="628.34" r="3.5"/><circle cx="189.72" cy="630.24" r="3.5"/><circle cx="187.41" cy="628.24" r="3.5"/><circle cx="179.03" cy="631.37" r="3.5"/><circle cx="189.34" cy="628.6" r="3.5"/><circle cx="189.46" cy="631.06" r="3.5"/><circle cx="182.17" cy="629.07" r="3.5"/><circle cx="182.02" cy="630.04" r="3.5"/><circle cx="174.75" cy="640.92" r="3.5"/><circle cx="188.75" cy="641.28" r="3.5"/><circle cx="185.16" cy="637.89" r="3.5"/><circle cx="187.08" cy="641.32" r="3.5"/><circle cx="179.6" cy="641.1" r="3.5"/><circle cx="181.91" cy="641.18" r="3.5"/><circle cx="188.69" cy="640.42" r="3.5"/><circle cx="184.32" cy="637.13" r="3.5"/><circle cx="174.82" cy="639.34" r="3.5"/><circle cx="184.61" cy="641.04" r="3.5"/><circle cx="181.99" cy="639.84" r="3.5"/><circle cx="183.81" cy="637.38" r="3.5"/><circle cx="172.15" cy="649.38" r="3.5"/><circle cx="186.15" cy="651.07" r="3.5"/><circle cx="173.71" cy="649.6" r="3.5"/><circle cx="180.75" cy="648.04" r="3.5"/><circle cx="183.26" cy="646.21" r="3.5"/><circle cx="184.64" cy="650.25" r="3.5"/><circle cx="178.88" cy="646.7" r="3.5"/><circle cx="178.49" cy="649.08" r="3.5"/><circle cx="175.7" cy="648.59" r="3.5"/><circle cx="183.01" cy="650.77" r="3.5"/><circle cx="180.01" cy="650.3" r="3.5"/><circle cx="173.24" cy="650.44" r="3.5"/><circle cx="169.38" cy="660.56" r="3.5"/><circle cx="183.38" cy="656.8" r="3.5"/><circle cx="180.96" cy="660.21" r="3.5"/><circle cx="181.68" cy="658.55" r="3.5"/><circle cx="177.89" cy="657" r="3.5"/><circle cx="179.29" cy="657.99" r="3.5"/><circle cx="169.67" cy="656.63" r="3.5"/><circle cx="174.81" cy="660.39" r="3.5"/><circle cx="177.28" cy="660.54" r="3.5"/><circle cx="182.39" cy="656.39" r="3.5"/><circle cx="177.61" cy="657.63" r="3.5"/><circle cx="176.47" cy="658.24" r="3.5"/><circle cx="164.67" cy="668.16" r="3.5"/><circle cx="180.67" cy="666.27" r="3.5"/><circle cx="178.01" cy="668.21" r="3.5"/><circle cx="174.99" cy="668.12" r="3.5"/><circle cx="167.57" cy="668.47" r="3.5"/><circle cx="167.23" cy="670.02" r="3.5"/><circle cx="177.98" cy="666.48" r="3.5"/><circle cx="165.78" cy="666.1" r="3.5"/><circle cx="170.97" cy="670.53" r="3.5"/><circle cx="173.57" cy="667.09" r="3.5"/><circle cx="168.35" cy="666.31" r="3.5"/><circle cx="166.93" cy="669.82" r="3.5"/><circle cx="162.05" cy="676.25" r="3.5"/><circle cx="178.05" cy="679.88" r="3.5"/><circle cx="175.22" cy="676.24" r="3.5"/><circle cx="170.99" cy="675.6" r="3.5"/><circle cx="175.84" cy="678.35" r="3.5"/><circle cx="174.14" cy="678.01" r="3.5"/><circle cx="173.1" cy="680.22" r="3.5"/><circle cx="171" cy="679.93" r="3.5"/><circle cx="167.54" cy="676.05" r="3.5"/><circle cx="162.13" cy="676.69" r="3.5"/><circle cx="175.47" cy="677.12" r="3.5"/><circle cx="165.64" cy="678.04" r="3.5"/><circle cx="159.48" cy="690.09" r="3.5"/><circle cx="175.48" cy="687.9" r="3.5"/><circle cx="164.93" cy="685.75" r="3.5"/><circle cx="168.65" cy="686.49" r="3.5"/><circle cx="165.35" cy="687.27" r="3.5"/><circle cx="171.61" cy="686.52" r="3.5"/><circle cx="174.45" cy="689.07" r="3.5"/><circle cx="167.17" cy="689.76" r="3.5"/><circle cx="165.22" cy="687.28" r="3.5"/><circle cx="161.54" cy="689.25" r="3.5"/><circle cx="165.89" cy="687.86" r="3.5"/><circle cx="167.01" cy="688.64" r="3.5"/><circle cx="157.18" cy="697.03" r="3.5"/><circle cx="173.18" cy="699.74" r="3.5"/><circle cx="164.09" cy="696.96" r="3.5"/><circle cx="163.59" cy="698.99" r="3.5"/><circle cx="173.06" cy="699.49" r="3.5"/><circle cx="164.85" cy="696.62" r="3.5"/><circle cx="164.31" cy="696.88" r="3.5"/><circle cx="161.07" cy="696.09" r="3.5"/><circle cx="172.47" cy="697.66" r="3.5"/><circle cx="158.93" cy="697.08" r="3.5"/><circle cx="163.39" cy="697.73" r="3.5"/><circle cx="172.86" cy="700.04" r="3.5"/><circle cx="155.03" cy="707.79" r="3.5"/><circle cx="171.03" cy="708.05" r="3.5"/><circle cx="165.84" cy="707.47" r="3.5"/><circle cx="162.81" cy="706.53" r="3.5"/><circle cx="165.97" cy="705.42" r="3.5"/><circle cx="160.1" cy="709.41" r="3.5"/><circle cx="158.66" cy="709.8" r="3.5"/><circle cx="170.77" cy="707.84" r="3.5"/><circle cx="155.67" cy="705.43" r="3.5"/><circle cx="158.23" cy="706.59" r="3.5"/><circle cx="156.83" cy="708.95" r="3.5"/><circle cx="160.85" cy="706.13" r="3.5"/><circle cx="152.88" cy="714.98" r="3.5"/><circle cx="168.88" cy="716.67" r="3.5"/><circle cx="152.95" cy="715.34" r="3.5"/><circle cx="162.55" cy="719.43" r="3.5"/><circle cx="156.06" cy="718.47" r="3.5"/><circle cx="156.04" cy="714.77" r="3.5"/><circle cx="167.22" cy="718.99" r="3.5"/><circle cx="153.94" cy="715.65" r="3.5"/><circle cx="156.62" cy="719.4" r="3.5"/><circle cx="158.99" cy="718.8" r="3.5"/><circle cx="159.85" cy="716.67" r="3.5"/><circle cx="165.12" cy="717.84" r="3.5"/><circle cx="150.88" cy="725.91" r="3.5"/><circle cx="166.88" cy="727.47" r="3.5"/><circle cx="162.14" cy="728.7" r="3.5"/><circle cx="161.71" cy="727.76" r="3.5"/><circle cx="160.41" cy="725.02" r="3.5"/><circle cx="166" cy="728.13" r="3.5"/><circle cx="155.24" cy="728.02" r="3.5"/><circle cx="160.81" cy="727.85" r="3.5"/><circle cx="156.94" cy="727.43" r="3.5"/><circle cx="161.44" cy="725.57" r="3.5"/><circle cx="159" cy="725.16" r="3.5"/><circle cx="152.56" cy="729.12" r="3.5"/><circle cx="149.22" cy="734.98" r="3.5"/><circle cx="165.22" cy="738.83" r="3.5"/><circle cx="156.74" cy="736.63" r="3.5"/><circle cx="154.66" cy="736.44" r="3.5"/><circle cx="155.26" cy="737.18" r="3.5"/><circle cx="154.59" cy="738.47" r="3.5"/><circle cx="152.96" cy="735.6" r="3.5"/><circle cx="156.91" cy="739.04" r="3.5"/><circle cx="149.61" cy="737.98" r="3.5"/><circle cx="149.32" cy="736.38" r="3.5"/><circle cx="161.45" cy="736.59" r="3.5"/><circle cx="156.1" cy="735.63" r="3.5"/><circle cx="147.78" cy="746.54" r="3.5"/><circle cx="163.78" cy="745.3" r="3.5"/><circle cx="152.31" cy="747.43" r="3.5"/><circle cx="157.37" cy="748.81" r="3.5"/><circle cx="163.28" cy="746.77" r="3.5"/><circle cx="149.18" cy="745.66" r="3.5"/><circle cx="156.06" cy="747.53" r="3.5"/><circle cx="162.91" cy="744.94" r="3.5"/><circle cx="148.36" cy="748.51" r="3.5"/><circle cx="160.66" cy="747.99" r="3.5"/><circle cx="155.27" cy="747.55" r="3.5"/><circle cx="154.36" cy="745.12" r="3.5"/><circle cx="146.35" cy="755.91" r="3.5"/><circle cx="162.35" cy="757.9" r="3.5"/><circle cx="159.18" cy="758.77" r="3.5"/><circle cx="160.55" cy="757.37" r="3.5"/><circle cx="154.68" cy="757.58" r="3.5"/><circle cx="149.28" cy="758.58" r="3.5"/><circle cx="157.75" cy="756.93" r="3.5"/><circle cx="153.29" cy="757.13" r="3.5"/><circle cx="156.23" cy="758.45" r="3.5"/><circle cx="155.48" cy="755.03" r="3.5"/><circle cx="153.41" cy="755.17" r="3.5"/><circle cx="160.83" cy="758.18" r="3.5"/><circle cx="145.05" cy="766.54" r="3.5"/><circle cx="161.05" cy="764.74" r="3.5"/><circle cx="145.75" cy="764.43" r="3.5"/><circle cx="152.14" cy="767.13" r="3.5"/><circle cx="148.63" cy="767.18" r="3.5"/><circle cx="158.84" cy="767.55" r="3.5"/><circle cx="151.86" cy="766.99" r="3.5"/><circle cx="160.86" cy="768.19" r="3.5"/><circle cx="150.46" cy="767.19" r="3.5"/><circle cx="147.66" cy="766.55" r="3.5"/><circle cx="150.75" cy="765.95" r="3.5"/><circle cx="152.07" cy="767.08" r="3.5"/><circle cx="143.9" cy="777.79" r="3.5"/><circle cx="159.9" cy="775.9" r="3.5"/><circle cx="146.25" cy="777.33" r="3.5"/><circle cx="155.93" cy="778.33" r="3.5"/><circle cx="150.2" cy="775.88" r="3.5"/><circle cx="152.55" cy="778.02" r="3.5"/><circle cx="155.17" cy="773.67" r="3.5"/><circle cx="147.22" cy="777.83" r="3.5"/><circle cx="153.27" cy="777.93" r="3.5"/><circle cx="150.48" cy="774.61" r="3.5"/><circle cx="143.97" cy="778.54" r="3.5"/><circle cx="146.08" cy="776.77" r="3.5"/><circle cx="142.82" cy="785.81" r="3.5"/><circle cx="158.82" cy="785.26" r="3.5"/><circle cx="151.42" cy="783.75" r="3.5"/><circle cx="158.35" cy="785.82" r="3.5"/><circle cx="143.07" cy="785.46" r="3.5"/><circle cx="154.94" cy="784.92" r="3.5"/><circle cx="154.75" cy="787.2" r="3.5"/><circle cx="146.65" cy="788.2" r="3.5"/><circle cx="143.27" cy="787.68" r="3.5"/><circle cx="151.03" cy="784.13" r="3.5"/><circle cx="146.96" cy="786.33" r="3.5"/><circle cx="147.28" cy="787.55" r="3.5"/><circle cx="141.8" cy="794.26" r="3.5"/><circle cx="157.8" cy="795.08" r="3.5"/><circle cx="149.91" cy="794.86" r="3.5"/><circle cx="154.99" cy="794.48" r="3.5"/><circle cx="143.22" cy="793.93" r="3.5"/><circle cx="151.83" cy="795.98" r="3.5"/><circle cx="142.81" cy="798.13" r="3.5"/><circle cx="149.47" cy="794.76" r="3.5"/><circle cx="153.47" cy="793.28" r="3.5"/><circle cx="148.75" cy="796.48" r="3.5"/><circle cx="157.19" cy="796.97" r="3.5"/><circle cx="155.96" cy="793.75" r="3.5"/></g>
<path d="M440.5 19.5 L440.5 23.42 L440.5 27.34 L440.5 31.26 L440.3 35.18 L440 39.1 L439.8 43.02 L439.5 48.9 L438.5 58.7 L433.5 68.5 L428.8 78.3 L423.5 88.1 L416.5 97.9 L410.6 107.7 L402.3 117.5 L390.5 137.1 L377.6 156.7 L363 176.3 L349.5 195.9 L336.3 215.5 L309.5 264.5 L278.4 313.5 L245.5 411.5 L222.2 509.5 L194.4 607.5 L176 705.5 L160 803.5" fill="none" stroke="#ff0000" stroke-width="2.5" stroke-linejoin="round"/>
<path d="M440.75 19.5 L440.75 23.42 L440.75 27.34 L440.75 31.26 L440.55 35.18 L440.25 39.1 L440.05 43.02 L439.75 48.9 L438.75 58.7 L434.06 68.5 L429.36 78.3 L424.06 88.1 L417.06 97.9 L411.16 107.7 L402.86 117.5 L391.06 137.1 L378.16 156.7 L363.56 176.3 L350.06 195.9 L336.95 215.5 L310.15 264.5 L279.05 313.5 L246.34 411.5 L223.04 509.5 L195.55 607.5 L177.15 705.5 L160.96 803.5" fill="none" stroke="#ff0000" stroke-width="2.5" stroke-linejoin="round"/>
<path d="M441 19.5 L441 23.42 L441 27.34 L441 31.26 L440.8 35.18 L440.5 39.1 L440.3 43.02 L440 48.9 L439 58.7 L434.62 68.5 L429.93 78.3 L424.62 88.1 L417.62 97.9 L411.73 107.7 L403.43 117.5 L391.62 137.1 L378.73 156.7 L364.12 176.3 L350.62 195.9 L337.6 215.5 L310.8 264.5 L279.7 313.5 L247.18 411.5 L223.88 509.5 L196.7 607.5 L178.3 705.5 L161.93 803.5" fill="none" stroke="#ff0000" stroke-width="2.5" stroke-linejoin="round"/>
<path d="M441.25 19.5 L441.25 23.42 L441.25 27.34 L441.25 31.26 L441.05 35.18 L440.75 39.1 L440.55 43.02 L440.25 48.9 L439.25 58.7 L435.19 68.5 L430.49 78.3 L425.19 88.1 L418.19 97.9 L412.29 107.7 L403.99 117.5 L392.19 137.1 L379.29 156.7 L364.69 176.3 L351.19 195.9 L338.25 215.5 L311.45 264.5 L280.35 313.5 L248.01 411.5 L224.71 509.5 L197.85 607.5 L179.45 705.5 L162.89 803.5" fill="none" stroke="#ff0000" stroke-width="2.5" stroke-linejoin="round"/>
<path d="M441.5 19.5 L441.5 23.42 L441.5 27.34 L441.5 31.26 L441.3 35.18 L441 39.1 L440.8 43.02 L440.5 48.9 L439.5 58.7 L435.75 68.5 L431.05 78.3 L425.75 88.1 L418.75 97.9 L412.85 107.7 L404.55 117.5 L392.75 137.1 L379.85 156.7 L365.25 176.3 L351.75 195.9 L338.9 215.5 L312.1 264.5 L281 313.5 L248.85 411.5 L225.55 509.5 L199 607.5 L180.6 705.5 L163.85 803.5" fill="none" stroke="#ff0000" stroke-width="2.5" stroke-linejoin="round"/>
<path d="M441.75 19.5 L441.75 23.42 L441.75 27.34 L441.75 31.26 L441.55 35.18 L441.25 39.1 L441.05 43.02 L440.75 48.9 L439.75 58.7 L436.31 68.5 L431.61 78.3 L426.31 88.1 L419.31 97.9 L413.41 107.7 L405.11 117.5 L393.31 137.1 L380.41 156.7 L365.81 176.3 L352.31 195.9 L339.55 215.5 L312.75 264.5 L281.65 313.5 L249.69 411.5 L226.39 509.5 L200.15 607.5 L181.75 705.5 L164.81 803.5" fill="none" stroke="#ff0000" stroke-width="2.5" stroke-linejoin="round"/>
<path d="M442 19.5 L442 23.42 L442 27.34 L442 31.26 L441.8 35.18 L441.5 39.1 L441.3 43.02 L441 48.9 L440 58.7 L436.88 68.5 L432.18 78.3 L426.88 88.1 L419.88 97.9 L413.98 107.7 L405.68 117.5 L393.88 137.1 L380.98 156.7 L366.38 176.3 L352.88 195.9 L340.2 215.5 L313.4 264.5 L282.3 313.5 L250.53 411.5 L227.22 509.5 L201.3 607.5 L182.9 705.5 L165.78 803.5" fill="none" stroke="#ff0000" stroke-width="2.5" stroke-linejoin="round"/>
<path d="M442.25 19.5 L442.25 23.42 L442.25 27.34 L442.25 31.26 L442.05 35.18 L441.75 39.1 L441.55 43.02 L441.25 48.9 L440.25 58.7 L437.44 68.5 L432.74 78.3 L427.44 88.1 L420.44 97.9 L414.54 107.7 L406.24 117.5 L394.44 137.1 L381.54 156.7 L366.94 176.3 L353.44 195.9 L340.85 215.5 L314.05 264.5 L282.95 313.5 L251.36 411.5 L228.06 509.5 L202.45 607.5 L184.05 705.5 L166.74 803.5" fill="none" stroke="#ff0000" stroke-width="2.5" stroke-linejoin="round"/>
<path d="M442.5 19.5 L442.5 23.42 L442.5 27.34 L442.5 31.26 L442.3 35.18 L442 39.1 L441.8 43.02 L441.5 48.9 L440.5 58.7 L438 68.5 L433.3 78.3 L428 88.1 L421 97.9 L415.1 107.7 L406.8 117.5 L395 137.1 L382.1 156.7 L367.5 176.3 L354 195.9 L341.5 215.5 L314.7 264.5 L283.6 313.5 L252.2 411.5 L228.9 509.5 L203.6 607.5 L185.2 705.5 L167.7 803.5" fill="none" stroke="#ff0000" stroke-width="2.5" stroke-linejoin="round"/>
<path d="M456.6 31.26 L458.5 41.06 L458.5 50.86 L457 60.66 L452 70.46 L446.6 80.26 L435 90.06 L421 99.86 L408 109.66 L398 119.46 L388.1 129.26 L378.95 139.06 L369.75 148.86 L360.55 158.66 L351.6 168.46 L342.82 178.26 L335.27 188.06 L329.95 197.86 L325.55 207.66 L320.8 217.46 L315.45 227.26 L309.83 237.06 L304.43 246.86 L299.4 256.66 L294.82 266.46 L290.5 276.26 L286.35 286.06 L282.47 295.86 L278.57 305.66 L274.53 315.46 L270.95 325.26 L267.9 335.06 L264.9 344.86 L261.95 354.66 L258.9 364.46 L255.7 374.26 L252.55 384.06 L249.45 393.86 L246.4 403.66 L243.5 413.46 L240.75 423.26 L238.12 433.06 L235.52 442.86 L232.85 452.66 L230.33 462.46 L228.02 472.26 L225.65 482.06 L223.12 491.86 L220.52 501.66 L217.98 511.46 L215.53 521.26 L212.95 531.06 L210.43 540.86 L208.05 550.66 L205.5 560.46 L202.85 570.26 L200.23 580.06 L197.55 589.86 L194.75 599.66 L191.85 609.46 L189.07 619.26 L186.38 629.06 L183.75 638.86 L181.15 648.66 L178.38 658.46 L175.67 668.26 L173.05 678.06 L170.48 687.86 L168.18 697.66 L166.03 707.46 L163.88 717.26 L161.88 727.06 L160.22 736.86 L158.78 746.66 L157.35 756.46 L156.05 766.26 L154.9 776.06 L153.82 785.86 L152.8 795.66" fill="none" stroke="#0000ff" stroke-width="2.5" stroke-linejoin="round"/>
<g fill="#0000ff"><circle cx="456.6" cy="31.26" r="5.85"/><circle cx="458.5" cy="41.06" r="5.85"/><circle cx="458.5" cy="50.86" r="5.85"/><circle cx="457" cy="60.66" r="5.85"/><circle cx="452" cy="70.46" r="5.85"/><circle cx="446.6" cy="80.26" r="5.85"/><circle cx="435" cy="90.06" r="5.85"/><circle cx="421" cy="99.86" r="5.85"/><circle cx="408" cy="109.66" r="5.85"/><circle cx="398" cy="119.46" r="5.85"/><circle cx="388.1" cy="129.26" r="5.85"/><circle cx="378.95" cy="139.06" r="5.85"/><circle cx="369.75" cy="148.86" r="5.85"/><circle cx="360.55" cy="158.66" r="5.85"/><circle cx="351.6" cy="168.46" r="5.85"/><circle cx="342.82" cy="178.26" r="5.85"/><circle cx="335.27" cy="188.06" r="5.85"/><circle cx="329.95" cy="197.86" r="5.85"/><circle cx="325.55" cy="207.66" r="5.85"/><circle cx="320.8" cy="217.46" r="5.85"/><circle cx="315.45" cy="227.26" r="5.85"/><circle cx="309.83" cy="237.06" r="5.85"/><circle cx="304.43" cy="246.86" r="5.85"/><circle cx="299.4" cy="256.66" r="5.85"/><circle cx="294.82" cy="266.46" r="5.85"/><circle cx="290.5" cy="276.26" r="5.85"/><circle cx="286.35" cy="286.06" r="5.85"/><circle cx="282.47" cy="295.86" r="5.85"/><circle cx="278.57" cy="305.66" r="5.85"/><circle cx="274.53" cy="315.46" r="5.85"/><circle cx="270.95" cy="325.26" r="5.85"/><circle cx="267.9" cy="335.06" r="5.85"/><circle cx="264.9" cy="344.86" r="5.85"/><circle cx="261.95" cy="354.66" r="5.85"/><circle cx="258.9" cy="364.46" r="5.85"/><circle cx="255.7" cy="374.26" r="5.85"/><circle cx="252.55" cy="384.06" r="5.85"/><circle cx="249.45" cy="393.86" r="5.85"/><circle cx="246.4" cy="403.66" r="5.85"/><circle cx="243.5" cy="413.46" r="5.85"/><circle cx="240.75" cy="423.26" r="5.85"/><circle cx="238.12" cy="433.06" r="5.85"/><circle cx="235.52" cy="442.86" r="5.85"/><circle cx="232.85" cy="452.66" r="5.85"/><circle cx="230.33" cy="462.46" r="5.85"/><circle cx="228.02" cy="472.26" r="5.85"/><circle cx="225.65" cy="482.06" r="5.85"/><circle cx="223.12" cy="491.86" r="5.85"/><circle cx="220.52" cy="501.66" r="5.85"/><circle cx="217.98" cy="511.46" r="5.85"/><circle cx="215.53" cy="521.26" r="5.85"/><circle cx="212.95" cy="531.06" r="5.85"/><circle cx="210.43" cy="540.86" r="5.85"/><circle cx="208.05" cy="550.66" r="5.85"/><circle cx="205.5" cy="560.46" r="5.85"/><circle cx="202.85" cy="570.26" r="5.85"/><circle cx="200.23" cy="580.06" r="5.85"/><circle cx="197.55" cy="589.86" r="5.85"/><circle cx="194.75" cy="599.66" r="5.85"/><circle cx="191.85" cy="609.46" r="5.85"/><circle cx="189.07" cy="619.26" r="5.85"/><circle cx="186.38" cy="629.06" r="5.85"/><circle cx="183.75" cy="638.86" r="5.85"/><circle cx="181.15" cy="648.66" r="5.85"/><circle cx="178.38" cy="658.46" r="5.85"/><circle cx="175.67" cy="668.26" r="5.85"/><circle cx="173.05" cy="678.06" r="5.85"/><circle cx="170.48" cy="687.86" r="5.85"/><circle cx="168.18" cy="697.66" r="5.85"/><circle cx="166.03" cy="707.46" r="5.85"/><circle cx="163.88" cy="717.26" r="5.85"/><circle cx="161.88" cy="727.06" r="5.85"/><circle cx="160.22" cy="736.86" r="5.85"/><circle cx="158.78" cy="746.66" r="5.85"/><circle cx="157.35" cy="756.46" r="5.85"/><circle cx="156.05" cy="766.26" r="5.85"/><circle cx="154.9" cy="776.06" r="5.85"/><circle cx="153.82" cy="785.86" r="5.85"/><circle cx="152.8" cy="795.66" r="5.85"/></g>
<path d="M441.5 19.5 L441.5 23.42 L441.5 27.34 L441.5 31.26 L441.3 35.18 L441 39.1 L440.8 43.02 L440.5 48.9 L439.5 58.7 L436.5 68.5 L431.8 78.3 L426.5 88.1 L419.5 97.9 L413.6 107.7 L405.3 117.5 L393.5 137.1 L380.6 156.7 L366 176.3 L352.5 195.9 L340.3 215.5 L313.5 264.5 L282.4 313.5 L251 411.5 L227.7 509.5 L202.4 607.5 L184 705.5 L166.5 803.5" fill="none" stroke="#ff0000" stroke-width="2.5" stroke-linejoin="round"/>
<g fill="#ff0000"><circle cx="441.5" cy="19.5" r="5.85"/><circle cx="441.5" cy="23.42" r="5.85"/><circle cx="441.5" cy="27.34" r="5.85"/><circle cx="441.5" cy="31.26" r="5.85"/><circle cx="441.3" cy="35.18" r="5.85"/><circle cx="441" cy="39.1" r="5.85"/><circle cx="440.8" cy="43.02" r="5.85"/><circle cx="440.5" cy="48.9" r="5.85"/><circle cx="439.5" cy="58.7" r="5.85"/><circle cx="436.5" cy="68.5" r="5.85"/><circle cx="431.8" cy="78.3" r="5.85"/><circle cx="426.5" cy="88.1" r="5.85"/><circle cx="419.5" cy="97.9" r="5.85"/><circle cx="413.6" cy="107.7" r="5.85"/><circle cx="405.3" cy="117.5" r="5.85"/><circle cx="393.5" cy="137.1" r="5.85"/><circle cx="380.6" cy="156.7" r="5.85"/><circle cx="366" cy="176.3" r="5.85"/><circle cx="352.5" cy="195.9" r="5.85"/><circle cx="340.3" cy="215.5" r="5.85"/><circle cx="313.5" cy="264.5" r="5.85"/><circle cx="282.4" cy="313.5" r="5.85"/><circle cx="251" cy="411.5" r="5.85"/><circle cx="227.7" cy="509.5" r="5.85"/><circle cx="202.4" cy="607.5" r="5.85"/><circle cx="184" cy="705.5" r="5.85"/><circle cx="166.5" cy="803.5" r="5.85"/></g>
<path d="M440.7 19.5 L440.5 23.42 L440.3 27.34 L440 31.26 L439.8 35.18 L439.6 39.1 L439.5 43.02 L439.5 48.9 L439.5 58.7 L441 68.5 L442 78.3 L440.7 88.1 L434.2 97.9 L425 107.7 L414.2 117.5 L392.4 137.1 L373.8 156.7 L351.3 176.3 L330.2 195.9 L312.4 215.5 L270.2 264.5 L250.5 313.5 L233.4 411.5 L207.5 509.5 L186.4 607.5 L170.5 705.5 L159.5 803.5" fill="none" stroke="#008000" stroke-width="2.5" stroke-linejoin="round"/>
<g fill="#008000"><circle cx="440.7" cy="19.5" r="5.85"/><circle cx="440.5" cy="23.42" r="5.85"/><circle cx="440.3" cy="27.34" r="5.85"/><circle cx="440" cy="31.26" r="5.85"/><circle cx="439.8" cy="35.18" r="5.85"/><circle cx="439.6" cy="39.1" r="5.85"/><circle cx="439.5" cy="43.02" r="5.85"/><circle cx="439.5" cy="48.9" r="5.85"/><circle cx="439.5" cy="58.7" r="5.85"/><circle cx="441" cy="68.5" r="5.85"/><circle cx="442" cy="78.3" r="5.85"/><circle cx="440.7" cy="88.1" r="5.85"/><circle cx="434.2" cy="97.9" r="5.85"/><circle cx="425" cy="107.7" r="5.85"/><circle cx="414.2" cy="117.5" r="5.85"/><circle cx="392.4" cy="137.1" r="5.85"/><circle cx="373.8" cy="156.7" r="5.85"/><circle cx="351.3" cy="176.3" r="5.85"/><circle cx="330.2" cy="195.9" r="5.85"/><circle cx="312.4" cy="215.5" r="5.85"/><circle cx="270.2" cy="264.5" r="5.85"/><circle cx="250.5" cy="313.5" r="5.85"/><circle cx="233.4" cy="411.5" r="5.85"/><circle cx="207.5" cy="509.5" r="5.85"/><circle cx="186.4" cy="607.5" r="5.85"/><circle cx="170.5" cy="705.5" r="5.85"/><circle cx="159.5" cy="803.5" r="5.85"/></g>
<path d="M444.3 20.47 L444.3 22.52 L444.4 24.69 L444.5 26.99 L445 29.45 L446.5 32.12 L448.5 35.04 L449 38.26 L449.3 41.85 L449.5 45.9 L449.5 50.49 L449.3 55.75 L448.5 61.83 L445.5 68.91 L441.6 77.21 L434.3 86.99 L425.8 98.57 L413.8 112.35 L399.6 128.8 L383.1 148.48 L363.7 172.09 L345.2 200.46 L324.8 234.57 L305.7 275.61 L284.9 324.97 L264.8 384.31 L245.1 455.55 L220.1 540.94 L197 643.03 L172.9 764.72 L151.7 909.22" fill="none" stroke="#ff00ff" stroke-width="2.5" stroke-linejoin="round"/>
<path d="M445.3 20.47 L445.3 22.52 L445.4 24.69 L445.5 26.99 L446 29.45 L447.5 32.12 L449.5 35.04 L450 38.26 L450.3 41.85 L450.5 45.9 L450.5 50.49 L450.3 55.75 L449.5 61.83 L446.5 68.91 L442.6 77.21 L435.3 86.99 L426.8 98.57 L414.8 112.35 L400.6 128.8 L384.1 148.48 L364.7 172.09 L346.2 200.46 L325.8 234.57 L306.7 275.61 L285.9 324.97 L265.8 384.31 L246.1 455.55 L221.1 540.94 L198 643.03 L173.9 764.72 L152.7 909.22" fill="none" stroke="#ff00ff" stroke-width="2.5" stroke-linejoin="round"/>
<path d="M444.8 20.47 L444.8 22.52 L444.9 24.69 L445 26.99 L445.5 29.45 L447 32.12 L449 35.04 L449.5 38.26 L449.8 41.85 L450 45.9 L450 50.49 L449.8 55.75 L449 61.83 L446 68.91 L442.1 77.21 L434.8 86.99 L426.3 98.57 L414.3 112.35 L400.1 128.8 L383.6 148.48 L364.2 172.09 L345.7 200.46 L325.3 234.57 L306.2 275.61 L285.4 324.97 L265.3 384.31 L245.6 455.55 L220.6 540.94 L197.5 643.03 L173.4 764.72 L152.2 909.22" fill="none" stroke="#ff00ff" stroke-width="2.5" stroke-linejoin="round"/>
<g fill="#ff00ff"><circle cx="444.55" cy="20.47" r="5.85"/><circle cx="444.55" cy="22.52" r="5.85"/><circle cx="444.65" cy="24.69" r="5.85"/><circle cx="444.75" cy="26.99" r="5.85"/><circle cx="445.25" cy="29.45" r="5.85"/><circle cx="446.75" cy="32.12" r="5.85"/><circle cx="448.75" cy="35.04" r="5.85"/><circle cx="449.25" cy="38.26" r="5.85"/><circle cx="449.55" cy="41.85" r="5.85"/><circle cx="449.75" cy="45.9" r="5.85"/><circle cx="449.75" cy="50.49" r="5.85"/><circle cx="449.55" cy="55.75" r="5.85"/><circle cx="448.75" cy="61.83" r="5.85"/><circle cx="445.75" cy="68.91" r="5.85"/><circle cx="441.85" cy="77.21" r="5.85"/><circle cx="434.55" cy="86.99" r="5.85"/><circle cx="426.05" cy="98.57" r="5.85"/><circle cx="414.05" cy="112.35" r="5.85"/><circle cx="399.85" cy="128.8" r="5.85"/><circle cx="383.35" cy="148.48" r="5.85"/><circle cx="363.95" cy="172.09" r="5.85"/><circle cx="345.45" cy="200.46" r="5.85"/><circle cx="325.05" cy="234.57" r="5.85"/><circle cx="305.95" cy="275.61" r="5.85"/><circle cx="285.15" cy="324.97" r="5.85"/><circle cx="265.05" cy="384.31" r="5.85"/><circle cx="245.35" cy="455.55" r="5.85"/><circle cx="220.35" cy="540.94" r="5.85"/><circle cx="197.25" cy="643.03" r="5.85"/><circle cx="173.15" cy="764.72" r="5.85"/><circle cx="151.95" cy="909.22" r="5.85"/></g>
<g fill="#ff00ff"><circle cx="445.05" cy="20.47" r="5.85"/><circle cx="445.05" cy="22.52" r="5.85"/><circle cx="445.15" cy="24.69" r="5.85"/><circle cx="445.25" cy="26.99" r="5.85"/><circle cx="445.75" cy="29.45" r="5.85"/><circle cx="447.25" cy="32.12" r="5.85"/><circle cx="449.25" cy="35.04" r="5.85"/><circle cx="449.75" cy="38.26" r="5.85"/><circle cx="450.05" cy="41.85" r="5.85"/><circle cx="450.25" cy="45.9" r="5.85"/><circle cx="450.25" cy="50.49" r="5.85"/><circle cx="450.05" cy="55.75" r="5.85"/><circle cx="449.25" cy="61.83" r="5.85"/><circle cx="446.25" cy="68.91" r="5.85"/><circle cx="442.35" cy="77.21" r="5.85"/><circle cx="435.05" cy="86.99" r="5.85"/><circle cx="426.55" cy="98.57" r="5.85"/><circle cx="414.55" cy="112.35" r="5.85"/><circle cx="400.35" cy="128.8" r="5.85"/><circle cx="383.85" cy="148.48" r="5.85"/><circle cx="364.45" cy="172.09" r="5.85"/><circle cx="345.95" cy="200.46" r="5.85"/><circle cx="325.55" cy="234.57" r="5.85"/><circle cx="306.45" cy="275.61" r="5.85"/><circle cx="285.65" cy="324.97" r="5.85"/><circle cx="265.55" cy="384.31" r="5.85"/><circle cx="245.85" cy="455.55" r="5.85"/><circle cx="220.85" cy="540.94" r="5.85"/><circle cx="197.75" cy="643.03" r="5.85"/><circle cx="173.65" cy="764.72" r="5.85"/><circle cx="152.45" cy="909.22" r="5.85"/></g>
</g>
<path d="M98.5 803.5v6.2M166.5 803.5v6.2M235.5 803.5v6.2M304.5 803.5v6.2M372.5 803.5v6.2M441.5 803.5v6.2M88.5 19.5h-6.2M88.5 68.5h-6.2M88.5 117.5h-6.2M88.5 166.5h-6.2M88.5 215.5h-6.2M88.5 264.5h-6.2M88.5 313.5h-6.2M88.5 362.5h-6.2M88.5 411.5h-6.2M88.5 460.5h-6.2M88.5 509.5h-6.2M88.5 558.5h-6.2M88.5 607.5h-6.2M88.5 656.5h-6.2M88.5 705.5h-6.2M88.5 754.5h-6.2" stroke="#000" stroke-width="1.33" fill="none"/>
<rect class="sp" x="88.5" y="19.5" width="381" height="784" stroke-linejoin="miter"/>
<path class="g" d="M593.5 803.5V19.5M654.5 803.5V19.5M715.5 803.5V19.5M776.5 803.5V19.5M836.5 803.5V19.5M897.5 803.5V19.5M958.5 803.5V19.5M580.5 19.5H961.5M580.5 68.5H961.5M580.5 117.5H961.5M580.5 166.5H961.5M580.5 215.5H961.5M580.5 264.5H961.5M580.5 313.5H961.5M580.5 362.5H961.5M580.5 411.5H961.5M580.5 460.5H961.5M580.5 509.5H961.5M580.5 558.5H961.5M580.5 607.5H961.5M580.5 656.5H961.5M580.5 705.5H961.5M580.5 754.5H961.5"/>
<g clip-path="url(#c1)">
<g fill="#00ffff"><circle cx="888" cy="117.63" r="3.5"/><circle cx="898" cy="121.2" r="3.5"/><circle cx="895.64" cy="118.24" r="3.5"/><circle cx="892.95" cy="119.21" r="3.5"/><circle cx="894.52" cy="120.9" r="3.5"/><circle cx="888.94" cy="117.1" r="3.5"/><circle cx="896.36" cy="119.12" r="3.5"/><circle cx="895.62" cy="116.97" r="3.5"/><circle cx="892.45" cy="120.57" r="3.5"/><circle cx="890.29" cy="121.69" r="3.5"/><circle cx="897.01" cy="117.11" r="3.5"/><circle cx="888.25" cy="119.67" r="3.5"/><circle cx="890.3" cy="131.46" r="3.5"/><circle cx="900.3" cy="128.67" r="3.5"/><circle cx="892.47" cy="128.87" r="3.5"/><circle cx="890.59" cy="127.87" r="3.5"/><circle cx="894.68" cy="129.24" r="3.5"/><circle cx="892.63" cy="127.91" r="3.5"/><circle cx="892.49" cy="129.06" r="3.5"/><circle cx="893.2" cy="126.87" r="3.5"/><circle cx="898.68" cy="129.54" r="3.5"/><circle cx="896.72" cy="127.69" r="3.5"/><circle cx="900.23" cy="131.06" r="3.5"/><circle cx="891.51" cy="128.42" r="3.5"/><circle cx="892.2" cy="140.17" r="3.5"/><circle cx="902.2" cy="140.12" r="3.5"/><circle cx="901.56" cy="138.67" r="3.5"/><circle cx="900.5" cy="139.91" r="3.5"/><circle cx="895.23" cy="139.5" r="3.5"/><circle cx="901.02" cy="140.79" r="3.5"/><circle cx="897.25" cy="139.51" r="3.5"/><circle cx="892.55" cy="137.77" r="3.5"/><circle cx="900.17" cy="138.63" r="3.5"/><circle cx="893.93" cy="139.3" r="3.5"/><circle cx="899.23" cy="139.93" r="3.5"/><circle cx="895.95" cy="138.75" r="3.5"/><circle cx="893.98" cy="148.9" r="3.5"/><circle cx="903.98" cy="150.25" r="3.5"/><circle cx="899.18" cy="148.33" r="3.5"/><circle cx="898.87" cy="146.51" r="3.5"/><circle cx="894.41" cy="149.88" r="3.5"/><circle cx="903.81" cy="149.33" r="3.5"/><circle cx="897.91" cy="147.21" r="3.5"/><circle cx="899" cy="151.27" r="3.5"/><circle cx="901.68" cy="149.06" r="3.5"/><circle cx="902.58" cy="147.52" r="3.5"/><circle cx="899.11" cy="151.12" r="3.5"/><circle cx="899.75" cy="148.66" r="3.5"/><circle cx="895.77" cy="157.51" r="3.5"/><circle cx="905.77" cy="158.9" r="3.5"/><circle cx="905.35" cy="156.19" r="3.5"/><circle cx="903.61" cy="160.26" r="3.5"/><circle cx="904.64" cy="159.86" r="3.5"/><circle cx="903.87" cy="158.75" r="3.5"/><circle cx="901.39" cy="158.29" r="3.5"/><circle cx="896.34" cy="160.51" r="3.5"/><circle cx="901.47" cy="157.16" r="3.5"/><circle cx="900.82" cy="158.58" r="3.5"/><circle cx="899.34" cy="157.89" r="3.5"/><circle cx="901.16" cy="159.28" r="3.5"/><circle cx="898.1" cy="169.02" r="3.5"/><circle cx="908.1" cy="168.25" r="3.5"/><circle cx="898.38" cy="167.11" r="3.5"/><circle cx="899.87" cy="168.88" r="3.5"/><circle cx="906.71" cy="169.95" r="3.5"/><circle cx="906.07" cy="170.04" r="3.5"/><circle cx="900.65" cy="170.17" r="3.5"/><circle cx="904.83" cy="166.38" r="3.5"/><circle cx="898.27" cy="166.03" r="3.5"/><circle cx="905.66" cy="167.21" r="3.5"/><circle cx="899.19" cy="169.08" r="3.5"/><circle cx="901.54" cy="166.31" r="3.5"/><circle cx="900.65" cy="176.56" r="3.5"/><circle cx="910.65" cy="178.4" r="3.5"/><circle cx="902.33" cy="177.12" r="3.5"/><circle cx="907.77" cy="178.03" r="3.5"/><circle cx="903.87" cy="178.13" r="3.5"/><circle cx="900.89" cy="177.69" r="3.5"/><circle cx="904.86" cy="176.7" r="3.5"/><circle cx="901.74" cy="180.26" r="3.5"/><circle cx="905.75" cy="176.81" r="3.5"/><circle cx="906.71" cy="179.85" r="3.5"/><circle cx="900.86" cy="175.85" r="3.5"/><circle cx="902.11" cy="179.35" r="3.5"/><circle cx="902.58" cy="186.36" r="3.5"/><circle cx="912.58" cy="189.08" r="3.5"/><circle cx="909.36" cy="188.28" r="3.5"/><circle cx="904.78" cy="190.44" r="3.5"/><circle cx="910.55" cy="188.14" r="3.5"/><circle cx="904.81" cy="188.8" r="3.5"/><circle cx="906.52" cy="188.44" r="3.5"/><circle cx="905.79" cy="188.71" r="3.5"/><circle cx="903.16" cy="187.05" r="3.5"/><circle cx="912.25" cy="189.94" r="3.5"/><circle cx="905.64" cy="189.85" r="3.5"/><circle cx="905.68" cy="190.26" r="3.5"/><circle cx="907.77" cy="199.08" r="3.5"/><circle cx="916.77" cy="197.44" r="3.5"/><circle cx="910.05" cy="195.4" r="3.5"/><circle cx="915.68" cy="195.55" r="3.5"/><circle cx="915.15" cy="200.17" r="3.5"/><circle cx="912.91" cy="196.22" r="3.5"/><circle cx="915.59" cy="200.23" r="3.5"/><circle cx="914.11" cy="197.9" r="3.5"/><circle cx="911.18" cy="197.09" r="3.5"/><circle cx="909.63" cy="198.73" r="3.5"/><circle cx="911.67" cy="196.33" r="3.5"/><circle cx="908.71" cy="198.69" r="3.5"/><circle cx="908.52" cy="206.64" r="3.5"/><circle cx="917.52" cy="207.66" r="3.5"/><circle cx="911.45" cy="209.52" r="3.5"/><circle cx="916.62" cy="205.25" r="3.5"/><circle cx="910.33" cy="206.8" r="3.5"/><circle cx="917.41" cy="209.07" r="3.5"/><circle cx="911.58" cy="206.23" r="3.5"/><circle cx="914.6" cy="209.35" r="3.5"/><circle cx="916.91" cy="206.88" r="3.5"/><circle cx="916.47" cy="208.6" r="3.5"/><circle cx="912.89" cy="210.09" r="3.5"/><circle cx="910.64" cy="208.79" r="3.5"/><circle cx="909.05" cy="215.38" r="3.5"/><circle cx="918.05" cy="215.81" r="3.5"/><circle cx="917.25" cy="216.02" r="3.5"/><circle cx="915.88" cy="217.96" r="3.5"/><circle cx="916.62" cy="216.8" r="3.5"/><circle cx="912.11" cy="216.42" r="3.5"/><circle cx="916.86" cy="217.98" r="3.5"/><circle cx="917.64" cy="219.4" r="3.5"/><circle cx="910.27" cy="217.72" r="3.5"/><circle cx="909.99" cy="215.16" r="3.5"/><circle cx="909.71" cy="219.29" r="3.5"/><circle cx="916.14" cy="219.1" r="3.5"/><circle cx="909.7" cy="226.46" r="3.5"/><circle cx="918.7" cy="227.84" r="3.5"/><circle cx="916.74" cy="226.65" r="3.5"/><circle cx="914.84" cy="225.88" r="3.5"/><circle cx="910.44" cy="226.09" r="3.5"/><circle cx="917.72" cy="227.58" r="3.5"/><circle cx="918.03" cy="227.05" r="3.5"/><circle cx="912.19" cy="228.7" r="3.5"/><circle cx="917.15" cy="224.82" r="3.5"/><circle cx="915.73" cy="225.22" r="3.5"/><circle cx="910.74" cy="229.19" r="3.5"/><circle cx="910.06" cy="225.96" r="3.5"/><circle cx="910.1" cy="239.5" r="3.5"/><circle cx="919.1" cy="236.67" r="3.5"/><circle cx="911.14" cy="235.4" r="3.5"/><circle cx="912.27" cy="238.28" r="3.5"/><circle cx="911.03" cy="239.11" r="3.5"/><circle cx="913.5" cy="239.41" r="3.5"/><circle cx="918.28" cy="236.03" r="3.5"/><circle cx="912.38" cy="236.95" r="3.5"/><circle cx="911" cy="237.82" r="3.5"/><circle cx="910.46" cy="234.61" r="3.5"/><circle cx="918.94" cy="236.04" r="3.5"/><circle cx="915.47" cy="236.81" r="3.5"/><circle cx="909.33" cy="245.93" r="3.5"/><circle cx="918.33" cy="244.67" r="3.5"/><circle cx="917.55" cy="249.21" r="3.5"/><circle cx="918.05" cy="244.92" r="3.5"/><circle cx="911.26" cy="247.45" r="3.5"/><circle cx="918.14" cy="247.07" r="3.5"/><circle cx="915.52" cy="247.67" r="3.5"/><circle cx="911.66" cy="247.07" r="3.5"/><circle cx="912.09" cy="245.59" r="3.5"/><circle cx="910.06" cy="245.76" r="3.5"/><circle cx="918.18" cy="246.6" r="3.5"/><circle cx="915.19" cy="247.58" r="3.5"/><circle cx="907.35" cy="258.86" r="3.5"/><circle cx="916.35" cy="256.11" r="3.5"/><circle cx="910.11" cy="255.8" r="3.5"/><circle cx="910.2" cy="258.4" r="3.5"/><circle cx="915.39" cy="255.67" r="3.5"/><circle cx="910.36" cy="256.88" r="3.5"/><circle cx="912.56" cy="257.14" r="3.5"/><circle cx="909.56" cy="254.26" r="3.5"/><circle cx="909.54" cy="254.52" r="3.5"/><circle cx="912.31" cy="254.51" r="3.5"/><circle cx="908.03" cy="257.34" r="3.5"/><circle cx="909.97" cy="258.12" r="3.5"/><circle cx="904.3" cy="266.43" r="3.5"/><circle cx="913.3" cy="268.27" r="3.5"/><circle cx="905.69" cy="266.47" r="3.5"/><circle cx="911.45" cy="264.35" r="3.5"/><circle cx="912.84" cy="264.83" r="3.5"/><circle cx="911.29" cy="268.88" r="3.5"/><circle cx="911.69" cy="265.56" r="3.5"/><circle cx="905.26" cy="266.53" r="3.5"/><circle cx="912.57" cy="265.43" r="3.5"/><circle cx="912.34" cy="264.67" r="3.5"/><circle cx="912.49" cy="264.12" r="3.5"/><circle cx="907.14" cy="268.48" r="3.5"/><circle cx="900.03" cy="277.78" r="3.5"/><circle cx="906.03" cy="278.3" r="3.5"/><circle cx="905.07" cy="277.49" r="3.5"/><circle cx="904.16" cy="274.65" r="3.5"/><circle cx="902.62" cy="274.55" r="3.5"/><circle cx="904.31" cy="277.1" r="3.5"/><circle cx="901.54" cy="274.08" r="3.5"/><circle cx="905.81" cy="277.8" r="3.5"/><circle cx="903.32" cy="276.47" r="3.5"/><circle cx="905.13" cy="276.03" r="3.5"/><circle cx="902.4" cy="275.45" r="3.5"/><circle cx="901.57" cy="273.88" r="3.5"/><circle cx="895.33" cy="286.79" r="3.5"/><circle cx="901.33" cy="285.64" r="3.5"/><circle cx="898.75" cy="283.87" r="3.5"/><circle cx="897.45" cy="284.25" r="3.5"/><circle cx="896.08" cy="284.86" r="3.5"/><circle cx="900.3" cy="285.55" r="3.5"/><circle cx="897.73" cy="286.62" r="3.5"/><circle cx="896.73" cy="283.6" r="3.5"/><circle cx="898.5" cy="286.06" r="3.5"/><circle cx="899.22" cy="285.75" r="3.5"/><circle cx="899.44" cy="287.22" r="3.5"/><circle cx="896.76" cy="286.04" r="3.5"/><circle cx="890.8" cy="295.75" r="3.5"/><circle cx="896.8" cy="294.49" r="3.5"/><circle cx="893.27" cy="296.16" r="3.5"/><circle cx="896.24" cy="297.95" r="3.5"/><circle cx="892.45" cy="296.59" r="3.5"/><circle cx="891.09" cy="293.72" r="3.5"/><circle cx="893.87" cy="297.75" r="3.5"/><circle cx="891.76" cy="297.19" r="3.5"/><circle cx="896.1" cy="294.92" r="3.5"/><circle cx="894.96" cy="297.6" r="3.5"/><circle cx="893.03" cy="296.87" r="3.5"/><circle cx="895.22" cy="296.33" r="3.5"/><circle cx="886.3" cy="307.44" r="3.5"/><circle cx="892.3" cy="307.64" r="3.5"/><circle cx="892.06" cy="306.02" r="3.5"/><circle cx="887.36" cy="304.41" r="3.5"/><circle cx="887.61" cy="306.01" r="3.5"/><circle cx="890.85" cy="303.42" r="3.5"/><circle cx="890.39" cy="306.75" r="3.5"/><circle cx="888.39" cy="305.74" r="3.5"/><circle cx="887.29" cy="306.81" r="3.5"/><circle cx="886.54" cy="308.07" r="3.5"/><circle cx="891.15" cy="306.3" r="3.5"/><circle cx="887.91" cy="307.72" r="3.5"/><circle cx="882.02" cy="317.76" r="3.5"/><circle cx="888.02" cy="313.66" r="3.5"/><circle cx="886.68" cy="317.17" r="3.5"/><circle cx="885.98" cy="316.46" r="3.5"/><circle cx="884.7" cy="317.58" r="3.5"/><circle cx="887.85" cy="314.87" r="3.5"/><circle cx="886.84" cy="315.12" r="3.5"/><circle cx="883.01" cy="314.59" r="3.5"/><circle cx="882.78" cy="317.5" r="3.5"/><circle cx="887.78" cy="313.56" r="3.5"/><circle cx="885.63" cy="315" r="3.5"/><circle cx="882.73" cy="314.44" r="3.5"/><circle cx="878.08" cy="324" r="3.5"/><circle cx="884.08" cy="326.51" r="3.5"/><circle cx="878.1" cy="323.71" r="3.5"/><circle cx="880.71" cy="322.87" r="3.5"/><circle cx="881.84" cy="325.79" r="3.5"/><circle cx="883.09" cy="323.79" r="3.5"/><circle cx="879.78" cy="325.47" r="3.5"/><circle cx="879.71" cy="325.69" r="3.5"/><circle cx="879.58" cy="326.18" r="3.5"/><circle cx="882.82" cy="326.8" r="3.5"/><circle cx="883.92" cy="325.49" r="3.5"/><circle cx="881.02" cy="327.04" r="3.5"/><circle cx="874.27" cy="336.41" r="3.5"/><circle cx="880.27" cy="335.41" r="3.5"/><circle cx="876.57" cy="333.98" r="3.5"/><circle cx="874.92" cy="336.6" r="3.5"/><circle cx="874.98" cy="336.3" r="3.5"/><circle cx="877.55" cy="337.38" r="3.5"/><circle cx="878.84" cy="337.43" r="3.5"/><circle cx="875.09" cy="335.06" r="3.5"/><circle cx="877.71" cy="334.12" r="3.5"/><circle cx="877.29" cy="334.34" r="3.5"/><circle cx="877.45" cy="332.56" r="3.5"/><circle cx="876.93" cy="334.81" r="3.5"/><circle cx="870.33" cy="343.88" r="3.5"/><circle cx="876.33" cy="344.36" r="3.5"/><circle cx="875.02" cy="345.78" r="3.5"/><circle cx="873.28" cy="345.6" r="3.5"/><circle cx="872.59" cy="343.38" r="3.5"/><circle cx="870.35" cy="343.75" r="3.5"/><circle cx="873.91" cy="346.77" r="3.5"/><circle cx="875.3" cy="344.91" r="3.5"/><circle cx="876.25" cy="344.67" r="3.5"/><circle cx="875.33" cy="344.4" r="3.5"/><circle cx="874.79" cy="347.3" r="3.5"/><circle cx="872.16" cy="343.21" r="3.5"/><circle cx="866.2" cy="355.26" r="3.5"/><circle cx="872.2" cy="354.81" r="3.5"/><circle cx="868.36" cy="352.18" r="3.5"/><circle cx="868.53" cy="354.29" r="3.5"/><circle cx="868.63" cy="356.47" r="3.5"/><circle cx="869.71" cy="355.83" r="3.5"/><circle cx="871.59" cy="355.9" r="3.5"/><circle cx="869.16" cy="355.89" r="3.5"/><circle cx="870.04" cy="355.4" r="3.5"/><circle cx="869.98" cy="354.19" r="3.5"/><circle cx="869.98" cy="355.33" r="3.5"/><circle cx="871.82" cy="356.07" r="3.5"/><circle cx="862.27" cy="366.19" r="3.5"/><circle cx="868.27" cy="365.8" r="3.5"/><circle cx="867.17" cy="364.99" r="3.5"/><circle cx="864.37" cy="363.28" r="3.5"/><circle cx="866.52" cy="366.33" r="3.5"/><circle cx="865.54" cy="362.72" r="3.5"/><circle cx="867.27" cy="364.38" r="3.5"/><circle cx="865.08" cy="362.19" r="3.5"/><circle cx="865.34" cy="365.68" r="3.5"/><circle cx="864.81" cy="363.74" r="3.5"/><circle cx="866.22" cy="362.06" r="3.5"/><circle cx="865.32" cy="366.69" r="3.5"/><circle cx="858.27" cy="375.21" r="3.5"/><circle cx="864.27" cy="373.77" r="3.5"/><circle cx="862.41" cy="374.78" r="3.5"/><circle cx="859.53" cy="372.8" r="3.5"/><circle cx="863.59" cy="373.11" r="3.5"/><circle cx="858.72" cy="375.91" r="3.5"/><circle cx="861.41" cy="373.6" r="3.5"/><circle cx="861.34" cy="375.44" r="3.5"/><circle cx="859.29" cy="375.03" r="3.5"/><circle cx="862.56" cy="375.84" r="3.5"/><circle cx="859.89" cy="374.81" r="3.5"/><circle cx="859.67" cy="374.57" r="3.5"/><circle cx="853.95" cy="382.42" r="3.5"/><circle cx="859.95" cy="385.51" r="3.5"/><circle cx="859.15" cy="383.21" r="3.5"/><circle cx="855.28" cy="386.38" r="3.5"/><circle cx="858.19" cy="385.78" r="3.5"/><circle cx="854.13" cy="386.06" r="3.5"/><circle cx="857.68" cy="383.14" r="3.5"/><circle cx="856.54" cy="385.37" r="3.5"/><circle cx="858.66" cy="382.51" r="3.5"/><circle cx="857.71" cy="382.39" r="3.5"/><circle cx="859.79" cy="383.78" r="3.5"/><circle cx="859.43" cy="385.2" r="3.5"/><circle cx="849.38" cy="394.39" r="3.5"/><circle cx="855.38" cy="392.67" r="3.5"/><circle cx="852.53" cy="392.05" r="3.5"/><circle cx="850.2" cy="394.94" r="3.5"/><circle cx="851.54" cy="395.12" r="3.5"/><circle cx="850.82" cy="394.95" r="3.5"/><circle cx="853.69" cy="392.89" r="3.5"/><circle cx="850.01" cy="393.35" r="3.5"/><circle cx="852.33" cy="391.86" r="3.5"/><circle cx="850.5" cy="391.64" r="3.5"/><circle cx="852.96" cy="395.8" r="3.5"/><circle cx="850.67" cy="391.53" r="3.5"/><circle cx="844.75" cy="404.68" r="3.5"/><circle cx="850.75" cy="405.23" r="3.5"/><circle cx="850.53" cy="404.23" r="3.5"/><circle cx="846.8" cy="405.35" r="3.5"/><circle cx="845.46" cy="404.62" r="3.5"/><circle cx="845.32" cy="403.16" r="3.5"/><circle cx="847.72" cy="403.05" r="3.5"/><circle cx="845.76" cy="402.32" r="3.5"/><circle cx="849.67" cy="403.47" r="3.5"/><circle cx="848.23" cy="402.22" r="3.5"/><circle cx="849.04" cy="402.81" r="3.5"/><circle cx="848.31" cy="405.71" r="3.5"/><circle cx="840.47" cy="415.93" r="3.5"/><circle cx="846.47" cy="411.19" r="3.5"/><circle cx="845.26" cy="415.25" r="3.5"/><circle cx="842.39" cy="412.88" r="3.5"/><circle cx="843.96" cy="415.55" r="3.5"/><circle cx="842.87" cy="415.36" r="3.5"/><circle cx="845.03" cy="411.72" r="3.5"/><circle cx="845.96" cy="411.04" r="3.5"/><circle cx="841.35" cy="414.28" r="3.5"/><circle cx="840.82" cy="412.86" r="3.5"/><circle cx="841.25" cy="413.27" r="3.5"/><circle cx="845.51" cy="415.49" r="3.5"/><circle cx="836.57" cy="420.94" r="3.5"/><circle cx="842.57" cy="421.06" r="3.5"/><circle cx="841.62" cy="420.97" r="3.5"/><circle cx="838.22" cy="421.35" r="3.5"/><circle cx="837.12" cy="420.9" r="3.5"/><circle cx="840.4" cy="424.48" r="3.5"/><circle cx="840.7" cy="424.99" r="3.5"/><circle cx="840.55" cy="422.71" r="3.5"/><circle cx="840.36" cy="425.61" r="3.5"/><circle cx="840.42" cy="421.98" r="3.5"/><circle cx="836.94" cy="425.44" r="3.5"/><circle cx="840.12" cy="422.51" r="3.5"/><circle cx="833.02" cy="433.59" r="3.5"/><circle cx="839.02" cy="433.36" r="3.5"/><circle cx="836.16" cy="430.86" r="3.5"/><circle cx="835.14" cy="432.62" r="3.5"/><circle cx="834.22" cy="434.96" r="3.5"/><circle cx="835.57" cy="433.87" r="3.5"/><circle cx="837.31" cy="434.28" r="3.5"/><circle cx="837.35" cy="434.32" r="3.5"/><circle cx="834.53" cy="435.44" r="3.5"/><circle cx="833.93" cy="435.15" r="3.5"/><circle cx="838.15" cy="434.82" r="3.5"/><circle cx="833.34" cy="431.02" r="3.5"/><circle cx="829.68" cy="444.43" r="3.5"/><circle cx="835.68" cy="442.71" r="3.5"/><circle cx="831.9" cy="445.28" r="3.5"/><circle cx="829.92" cy="443.02" r="3.5"/><circle cx="832.34" cy="441" r="3.5"/><circle cx="832.05" cy="443.9" r="3.5"/><circle cx="834.97" cy="440.48" r="3.5"/><circle cx="832.82" cy="440.81" r="3.5"/><circle cx="834.48" cy="440.79" r="3.5"/><circle cx="829.88" cy="442.28" r="3.5"/><circle cx="834.07" cy="441.93" r="3.5"/><circle cx="830.46" cy="444.33" r="3.5"/><circle cx="826.3" cy="454.19" r="3.5"/><circle cx="832.3" cy="454.44" r="3.5"/><circle cx="828.12" cy="452.28" r="3.5"/><circle cx="827.77" cy="452.95" r="3.5"/><circle cx="828.28" cy="451.85" r="3.5"/><circle cx="831" cy="454.94" r="3.5"/><circle cx="829.8" cy="450.68" r="3.5"/><circle cx="830.22" cy="452.4" r="3.5"/><circle cx="832.23" cy="453.76" r="3.5"/><circle cx="831.31" cy="453.67" r="3.5"/><circle cx="829.51" cy="454.64" r="3.5"/><circle cx="831.29" cy="451.62" r="3.5"/><circle cx="822.67" cy="460.75" r="3.5"/><circle cx="828.67" cy="461.81" r="3.5"/><circle cx="825.8" cy="460.45" r="3.5"/><circle cx="824.75" cy="462.83" r="3.5"/><circle cx="822.94" cy="464.03" r="3.5"/><circle cx="826.58" cy="461.53" r="3.5"/><circle cx="824.46" cy="461.72" r="3.5"/><circle cx="824.63" cy="463.7" r="3.5"/><circle cx="825.68" cy="462.59" r="3.5"/><circle cx="823.57" cy="464.53" r="3.5"/><circle cx="824.63" cy="461.6" r="3.5"/><circle cx="823.09" cy="464.86" r="3.5"/><circle cx="818.65" cy="472.16" r="3.5"/><circle cx="824.65" cy="474.32" r="3.5"/><circle cx="824.22" cy="474.61" r="3.5"/><circle cx="823.54" cy="474.39" r="3.5"/><circle cx="824.18" cy="473.77" r="3.5"/><circle cx="819.46" cy="472.38" r="3.5"/><circle cx="822.1" cy="474.72" r="3.5"/><circle cx="823.35" cy="473.27" r="3.5"/><circle cx="823.13" cy="471.57" r="3.5"/><circle cx="824.3" cy="472.98" r="3.5"/><circle cx="821.07" cy="472.08" r="3.5"/><circle cx="824.53" cy="472.42" r="3.5"/><circle cx="814.52" cy="480.4" r="3.5"/><circle cx="820.52" cy="480.3" r="3.5"/><circle cx="818.65" cy="482.37" r="3.5"/><circle cx="819.97" cy="480.48" r="3.5"/><circle cx="816.99" cy="483.2" r="3.5"/><circle cx="814.83" cy="480.06" r="3.5"/><circle cx="817.8" cy="480.89" r="3.5"/><circle cx="815.17" cy="480.87" r="3.5"/><circle cx="818.32" cy="482.19" r="3.5"/><circle cx="815" cy="479.92" r="3.5"/><circle cx="819.63" cy="482.78" r="3.5"/><circle cx="815.57" cy="483.87" r="3.5"/><circle cx="810.62" cy="489.47" r="3.5"/><circle cx="816.62" cy="491.2" r="3.5"/><circle cx="815.71" cy="492.91" r="3.5"/><circle cx="812.33" cy="493.82" r="3.5"/><circle cx="814.21" cy="493.69" r="3.5"/><circle cx="815.98" cy="491.49" r="3.5"/><circle cx="814.68" cy="492.08" r="3.5"/><circle cx="816.29" cy="493.35" r="3.5"/><circle cx="814.98" cy="493.43" r="3.5"/><circle cx="816.61" cy="490.64" r="3.5"/><circle cx="811.83" cy="493.09" r="3.5"/><circle cx="815.25" cy="491.93" r="3.5"/><circle cx="806.98" cy="501.6" r="3.5"/><circle cx="812.98" cy="501.18" r="3.5"/><circle cx="812.27" cy="503.14" r="3.5"/><circle cx="810.48" cy="499.36" r="3.5"/><circle cx="812.08" cy="501.45" r="3.5"/><circle cx="808.11" cy="500.66" r="3.5"/><circle cx="811.12" cy="499.19" r="3.5"/><circle cx="807.7" cy="500.67" r="3.5"/><circle cx="812.3" cy="502.89" r="3.5"/><circle cx="812.8" cy="501.88" r="3.5"/><circle cx="810.41" cy="501.92" r="3.5"/><circle cx="810.13" cy="501.87" r="3.5"/><circle cx="803.45" cy="513.05" r="3.5"/><circle cx="809.45" cy="513.73" r="3.5"/><circle cx="805.9" cy="512.11" r="3.5"/><circle cx="805.3" cy="510.47" r="3.5"/><circle cx="806.49" cy="511.89" r="3.5"/><circle cx="806.75" cy="513.84" r="3.5"/><circle cx="804.43" cy="512.14" r="3.5"/><circle cx="809.42" cy="512.64" r="3.5"/><circle cx="806.85" cy="510.8" r="3.5"/><circle cx="805.86" cy="513.64" r="3.5"/><circle cx="808.82" cy="512.31" r="3.5"/><circle cx="808.84" cy="513.59" r="3.5"/><circle cx="799.88" cy="522.99" r="3.5"/><circle cx="805.88" cy="520.68" r="3.5"/><circle cx="802.66" cy="522.74" r="3.5"/><circle cx="802.11" cy="522.51" r="3.5"/><circle cx="802.76" cy="520.44" r="3.5"/><circle cx="802.61" cy="519.34" r="3.5"/><circle cx="802" cy="520.84" r="3.5"/><circle cx="799.98" cy="519.62" r="3.5"/><circle cx="801.44" cy="523.05" r="3.5"/><circle cx="803.41" cy="520.2" r="3.5"/><circle cx="805.86" cy="520.05" r="3.5"/><circle cx="802.96" cy="522.46" r="3.5"/><circle cx="796.43" cy="532.02" r="3.5"/><circle cx="802.43" cy="530.73" r="3.5"/><circle cx="801.09" cy="530.99" r="3.5"/><circle cx="800.72" cy="531.02" r="3.5"/><circle cx="802.25" cy="532.14" r="3.5"/><circle cx="796.97" cy="529.21" r="3.5"/><circle cx="802.22" cy="529.71" r="3.5"/><circle cx="796.58" cy="529.83" r="3.5"/><circle cx="799.3" cy="533.32" r="3.5"/><circle cx="798.82" cy="532.18" r="3.5"/><circle cx="801.43" cy="529.01" r="3.5"/><circle cx="800.1" cy="533.54" r="3.5"/><circle cx="793.3" cy="541.11" r="3.5"/><circle cx="799.3" cy="541.03" r="3.5"/><circle cx="795.38" cy="543.09" r="3.5"/><circle cx="799.12" cy="538.88" r="3.5"/><circle cx="796.62" cy="540.46" r="3.5"/><circle cx="797.33" cy="538.95" r="3.5"/><circle cx="794.89" cy="539.75" r="3.5"/><circle cx="796.18" cy="542.33" r="3.5"/><circle cx="798.45" cy="542.29" r="3.5"/><circle cx="797.36" cy="538.8" r="3.5"/><circle cx="795.64" cy="541.7" r="3.5"/><circle cx="795.07" cy="540.9" r="3.5"/><circle cx="790.1" cy="552.69" r="3.5"/><circle cx="796.1" cy="548.74" r="3.5"/><circle cx="795.22" cy="548.69" r="3.5"/><circle cx="792.42" cy="552.69" r="3.5"/><circle cx="791.31" cy="550.76" r="3.5"/><circle cx="792.6" cy="552.6" r="3.5"/><circle cx="796.05" cy="549.6" r="3.5"/><circle cx="793.05" cy="552.64" r="3.5"/><circle cx="793.37" cy="549.23" r="3.5"/><circle cx="794.66" cy="549.85" r="3.5"/><circle cx="793.02" cy="548.2" r="3.5"/><circle cx="796.03" cy="551.45" r="3.5"/><circle cx="786.53" cy="562.59" r="3.5"/><circle cx="792.53" cy="562.8" r="3.5"/><circle cx="788.13" cy="560.66" r="3.5"/><circle cx="789.17" cy="561.76" r="3.5"/><circle cx="791.58" cy="559.1" r="3.5"/><circle cx="788.17" cy="561.49" r="3.5"/><circle cx="788.99" cy="558.61" r="3.5"/><circle cx="787.7" cy="560.76" r="3.5"/><circle cx="790.12" cy="562.76" r="3.5"/><circle cx="789.72" cy="561" r="3.5"/><circle cx="787.42" cy="560.03" r="3.5"/><circle cx="788.2" cy="561.44" r="3.5"/><circle cx="782.88" cy="569.1" r="3.5"/><circle cx="788.88" cy="568.83" r="3.5"/><circle cx="785.08" cy="570.11" r="3.5"/><circle cx="784.91" cy="570.79" r="3.5"/><circle cx="783.96" cy="572.16" r="3.5"/><circle cx="787.04" cy="570.43" r="3.5"/><circle cx="783.22" cy="569.39" r="3.5"/><circle cx="787.02" cy="570.99" r="3.5"/><circle cx="787.75" cy="572.22" r="3.5"/><circle cx="784.77" cy="570.23" r="3.5"/><circle cx="784.86" cy="568.4" r="3.5"/><circle cx="783.72" cy="569.04" r="3.5"/><circle cx="779.17" cy="578" r="3.5"/><circle cx="785.17" cy="580.25" r="3.5"/><circle cx="783.39" cy="580.38" r="3.5"/><circle cx="783.28" cy="578.69" r="3.5"/><circle cx="780.37" cy="580.4" r="3.5"/><circle cx="784.48" cy="579.67" r="3.5"/><circle cx="779.2" cy="577.66" r="3.5"/><circle cx="781.01" cy="580.64" r="3.5"/><circle cx="779.68" cy="578.68" r="3.5"/><circle cx="783.26" cy="582.48" r="3.5"/><circle cx="781.22" cy="580.57" r="3.5"/><circle cx="782.29" cy="577.68" r="3.5"/><circle cx="775.23" cy="589.01" r="3.5"/><circle cx="781.23" cy="588.06" r="3.5"/><circle cx="776.73" cy="591.21" r="3.5"/><circle cx="779.31" cy="587.57" r="3.5"/><circle cx="775.69" cy="590.98" r="3.5"/><circle cx="775.84" cy="588.95" r="3.5"/><circle cx="776.84" cy="587.61" r="3.5"/><circle cx="775.41" cy="588.06" r="3.5"/><circle cx="777.62" cy="592.03" r="3.5"/><circle cx="779.06" cy="588.57" r="3.5"/><circle cx="779.3" cy="588.73" r="3.5"/><circle cx="778.32" cy="588.97" r="3.5"/><circle cx="771.38" cy="601.9" r="3.5"/><circle cx="777.38" cy="598.92" r="3.5"/><circle cx="776.2" cy="600.37" r="3.5"/><circle cx="776.43" cy="600.19" r="3.5"/><circle cx="776.6" cy="599.19" r="3.5"/><circle cx="775.45" cy="600.26" r="3.5"/><circle cx="774.54" cy="599.98" r="3.5"/><circle cx="774.59" cy="599.13" r="3.5"/><circle cx="776.76" cy="600.32" r="3.5"/><circle cx="774.67" cy="597.43" r="3.5"/><circle cx="774.43" cy="598.04" r="3.5"/><circle cx="772.67" cy="599.33" r="3.5"/><circle cx="767.83" cy="609.69" r="3.5"/><circle cx="773.83" cy="608.21" r="3.5"/><circle cx="769.45" cy="609.61" r="3.5"/><circle cx="770.66" cy="608.98" r="3.5"/><circle cx="768.45" cy="608.83" r="3.5"/><circle cx="771.75" cy="609.68" r="3.5"/><circle cx="771.09" cy="611.18" r="3.5"/><circle cx="772.16" cy="610.38" r="3.5"/><circle cx="768.01" cy="608.5" r="3.5"/><circle cx="771.92" cy="607.74" r="3.5"/><circle cx="773.31" cy="607.67" r="3.5"/><circle cx="773.1" cy="608.04" r="3.5"/><circle cx="764.25" cy="620.97" r="3.5"/><circle cx="770.25" cy="621" r="3.5"/><circle cx="766.26" cy="621.2" r="3.5"/><circle cx="765.21" cy="621.01" r="3.5"/><circle cx="766.54" cy="618.96" r="3.5"/><circle cx="764.96" cy="619.77" r="3.5"/><circle cx="765.87" cy="620.09" r="3.5"/><circle cx="769.05" cy="619.78" r="3.5"/><circle cx="764.3" cy="621.52" r="3.5"/><circle cx="769.77" cy="619.97" r="3.5"/><circle cx="766.53" cy="619.57" r="3.5"/><circle cx="769.55" cy="619.06" r="3.5"/><circle cx="760.42" cy="630.46" r="3.5"/><circle cx="766.42" cy="629.55" r="3.5"/><circle cx="762.96" cy="631.23" r="3.5"/><circle cx="762.88" cy="629.59" r="3.5"/><circle cx="760.74" cy="628.91" r="3.5"/><circle cx="760.65" cy="630.08" r="3.5"/><circle cx="760.43" cy="626.77" r="3.5"/><circle cx="761.09" cy="627.26" r="3.5"/><circle cx="763.47" cy="628.34" r="3.5"/><circle cx="762.05" cy="631.48" r="3.5"/><circle cx="765.88" cy="629.83" r="3.5"/><circle cx="765.24" cy="630.66" r="3.5"/><circle cx="756.73" cy="637.59" r="3.5"/><circle cx="762.73" cy="640.4" r="3.5"/><circle cx="758.16" cy="639.17" r="3.5"/><circle cx="758.87" cy="637.15" r="3.5"/><circle cx="761.39" cy="640.94" r="3.5"/><circle cx="758.61" cy="640.76" r="3.5"/><circle cx="758.8" cy="639.65" r="3.5"/><circle cx="762.7" cy="640.22" r="3.5"/><circle cx="757.06" cy="638.53" r="3.5"/><circle cx="758.98" cy="637.83" r="3.5"/><circle cx="761.62" cy="638.57" r="3.5"/><circle cx="760.92" cy="639.53" r="3.5"/><circle cx="745.4" cy="648.75" r="3.5"/><circle cx="760.4" cy="646.44" r="3.5"/><circle cx="755.5" cy="650.62" r="3.5"/><circle cx="747.98" cy="649.37" r="3.5"/><circle cx="752.71" cy="647.86" r="3.5"/><circle cx="756.06" cy="651.04" r="3.5"/><circle cx="745.72" cy="650.65" r="3.5"/><circle cx="751.15" cy="650.33" r="3.5"/><circle cx="748.02" cy="649.74" r="3.5"/><circle cx="746.9" cy="647.84" r="3.5"/><circle cx="759.95" cy="649.44" r="3.5"/><circle cx="757.17" cy="648.47" r="3.5"/><circle cx="742.35" cy="658.32" r="3.5"/><circle cx="757.35" cy="658.42" r="3.5"/><circle cx="753.95" cy="659.58" r="3.5"/><circle cx="745.26" cy="658.16" r="3.5"/><circle cx="750.48" cy="658.82" r="3.5"/><circle cx="756.25" cy="660.16" r="3.5"/><circle cx="744.6" cy="657.84" r="3.5"/><circle cx="743.98" cy="656.09" r="3.5"/><circle cx="743.47" cy="656.87" r="3.5"/><circle cx="753.84" cy="659.3" r="3.5"/><circle cx="754.32" cy="657.4" r="3.5"/><circle cx="744.68" cy="660.82" r="3.5"/><circle cx="739.4" cy="669.89" r="3.5"/><circle cx="754.4" cy="670.49" r="3.5"/><circle cx="739.68" cy="667.74" r="3.5"/><circle cx="748.91" cy="669.44" r="3.5"/><circle cx="753.09" cy="668.45" r="3.5"/><circle cx="745.26" cy="665.79" r="3.5"/><circle cx="751.46" cy="670.67" r="3.5"/><circle cx="753.01" cy="669.07" r="3.5"/><circle cx="744.54" cy="666.96" r="3.5"/><circle cx="751.03" cy="670.44" r="3.5"/><circle cx="753.8" cy="666.64" r="3.5"/><circle cx="748.18" cy="668.33" r="3.5"/><circle cx="736.42" cy="677.7" r="3.5"/><circle cx="751.42" cy="679.53" r="3.5"/><circle cx="750.46" cy="679.18" r="3.5"/><circle cx="746.93" cy="679.01" r="3.5"/><circle cx="746.23" cy="678.24" r="3.5"/><circle cx="740.14" cy="679.46" r="3.5"/><circle cx="738.21" cy="678.78" r="3.5"/><circle cx="742.23" cy="678.36" r="3.5"/><circle cx="746.05" cy="677.95" r="3.5"/><circle cx="751.1" cy="676.76" r="3.5"/><circle cx="736.61" cy="680.34" r="3.5"/><circle cx="741.11" cy="676.95" r="3.5"/><circle cx="733.5" cy="687.44" r="3.5"/><circle cx="748.5" cy="688.33" r="3.5"/><circle cx="748.29" cy="688.9" r="3.5"/><circle cx="738.27" cy="688.03" r="3.5"/><circle cx="740.23" cy="687.87" r="3.5"/><circle cx="739.76" cy="686.2" r="3.5"/><circle cx="739.43" cy="687.31" r="3.5"/><circle cx="736.51" cy="689.44" r="3.5"/><circle cx="738.9" cy="686.12" r="3.5"/><circle cx="742" cy="689.58" r="3.5"/><circle cx="745.21" cy="688.47" r="3.5"/><circle cx="744.47" cy="687.04" r="3.5"/><circle cx="730.42" cy="695.87" r="3.5"/><circle cx="745.42" cy="696.44" r="3.5"/><circle cx="735.67" cy="696.56" r="3.5"/><circle cx="737.44" cy="695.91" r="3.5"/><circle cx="732.38" cy="696.42" r="3.5"/><circle cx="733.37" cy="699.17" r="3.5"/><circle cx="738.49" cy="696.15" r="3.5"/><circle cx="736.86" cy="699.52" r="3.5"/><circle cx="739.09" cy="697.93" r="3.5"/><circle cx="736.29" cy="696.14" r="3.5"/><circle cx="739.81" cy="695.55" r="3.5"/><circle cx="742.22" cy="695.45" r="3.5"/><circle cx="727.38" cy="708.69" r="3.5"/><circle cx="742.38" cy="706.87" r="3.5"/><circle cx="737.61" cy="707.92" r="3.5"/><circle cx="729.31" cy="707.65" r="3.5"/><circle cx="728.49" cy="706.17" r="3.5"/><circle cx="733.1" cy="706.39" r="3.5"/><circle cx="737.3" cy="709.89" r="3.5"/><circle cx="732.73" cy="709.15" r="3.5"/><circle cx="730.75" cy="708.51" r="3.5"/><circle cx="732.59" cy="707.64" r="3.5"/><circle cx="728.7" cy="709.1" r="3.5"/><circle cx="730.51" cy="707.28" r="3.5"/><circle cx="724.9" cy="716.21" r="3.5"/><circle cx="739.9" cy="718.81" r="3.5"/><circle cx="733.79" cy="717.84" r="3.5"/><circle cx="736.22" cy="716.03" r="3.5"/><circle cx="725.77" cy="718.9" r="3.5"/><circle cx="729.63" cy="718.82" r="3.5"/><circle cx="739.25" cy="717.91" r="3.5"/><circle cx="726.45" cy="719.03" r="3.5"/><circle cx="734.4" cy="715.99" r="3.5"/><circle cx="728.02" cy="717.3" r="3.5"/><circle cx="726.72" cy="719.29" r="3.5"/><circle cx="735.52" cy="718.86" r="3.5"/><circle cx="722.88" cy="726.48" r="3.5"/><circle cx="737.88" cy="729.18" r="3.5"/><circle cx="724.88" cy="728.14" r="3.5"/><circle cx="726.69" cy="724.58" r="3.5"/><circle cx="724.69" cy="725.57" r="3.5"/><circle cx="734.33" cy="726.45" r="3.5"/><circle cx="730.11" cy="727.63" r="3.5"/><circle cx="726.89" cy="727.75" r="3.5"/><circle cx="732.95" cy="729.17" r="3.5"/><circle cx="730.42" cy="728.84" r="3.5"/><circle cx="737.39" cy="728.4" r="3.5"/><circle cx="729.19" cy="725.92" r="3.5"/><circle cx="720.92" cy="734.85" r="3.5"/><circle cx="735.92" cy="738.52" r="3.5"/><circle cx="722.87" cy="737.16" r="3.5"/><circle cx="727.73" cy="734.58" r="3.5"/><circle cx="724.14" cy="738.47" r="3.5"/><circle cx="729" cy="738.98" r="3.5"/><circle cx="734.54" cy="734.83" r="3.5"/><circle cx="731.1" cy="734.57" r="3.5"/><circle cx="727.26" cy="736.57" r="3.5"/><circle cx="735.28" cy="737.34" r="3.5"/><circle cx="723.78" cy="736.91" r="3.5"/><circle cx="728.75" cy="735.35" r="3.5"/><circle cx="719.15" cy="745.96" r="3.5"/><circle cx="734.15" cy="748.55" r="3.5"/><circle cx="733.87" cy="748.04" r="3.5"/><circle cx="720.12" cy="748.69" r="3.5"/><circle cx="726.03" cy="748.33" r="3.5"/><circle cx="721.8" cy="744.9" r="3.5"/><circle cx="732.75" cy="745.59" r="3.5"/><circle cx="719.8" cy="746.67" r="3.5"/><circle cx="734.01" cy="748.34" r="3.5"/><circle cx="725.09" cy="749.13" r="3.5"/><circle cx="731.1" cy="748.37" r="3.5"/><circle cx="728.84" cy="746.13" r="3.5"/><circle cx="717.6" cy="758.49" r="3.5"/><circle cx="732.6" cy="756.31" r="3.5"/><circle cx="731.62" cy="756.72" r="3.5"/><circle cx="731.25" cy="756.35" r="3.5"/><circle cx="724" cy="756.9" r="3.5"/><circle cx="722.36" cy="754.71" r="3.5"/><circle cx="726.44" cy="758.21" r="3.5"/><circle cx="721.77" cy="758.29" r="3.5"/><circle cx="729.41" cy="757.84" r="3.5"/><circle cx="723.83" cy="758.95" r="3.5"/><circle cx="729.46" cy="756.84" r="3.5"/><circle cx="719.3" cy="756.83" r="3.5"/><circle cx="716.15" cy="763.83" r="3.5"/><circle cx="731.15" cy="768.27" r="3.5"/><circle cx="721.2" cy="765.6" r="3.5"/><circle cx="724.41" cy="766.95" r="3.5"/><circle cx="724.89" cy="766.18" r="3.5"/><circle cx="725.67" cy="768" r="3.5"/><circle cx="722.84" cy="766.26" r="3.5"/><circle cx="728.31" cy="763.78" r="3.5"/><circle cx="718.56" cy="765.39" r="3.5"/><circle cx="719.36" cy="768.24" r="3.5"/><circle cx="718.37" cy="764.3" r="3.5"/><circle cx="720.91" cy="766.3" r="3.5"/><circle cx="714.85" cy="777.67" r="3.5"/><circle cx="729.85" cy="778.54" r="3.5"/><circle cx="727.63" cy="776.6" r="3.5"/><circle cx="715.41" cy="773.88" r="3.5"/><circle cx="724.31" cy="777.66" r="3.5"/><circle cx="718.83" cy="778.41" r="3.5"/><circle cx="723.11" cy="776.43" r="3.5"/><circle cx="724.13" cy="773.93" r="3.5"/><circle cx="717.41" cy="778.24" r="3.5"/><circle cx="718.86" cy="773.98" r="3.5"/><circle cx="719.09" cy="777.19" r="3.5"/><circle cx="718.79" cy="774.61" r="3.5"/><circle cx="713.77" cy="784.75" r="3.5"/><circle cx="728.77" cy="785.76" r="3.5"/><circle cx="724.84" cy="784.87" r="3.5"/><circle cx="726.88" cy="788.24" r="3.5"/><circle cx="726.11" cy="783.74" r="3.5"/><circle cx="718.51" cy="787.99" r="3.5"/><circle cx="726.67" cy="784.03" r="3.5"/><circle cx="720.41" cy="785.18" r="3.5"/><circle cx="724.99" cy="783.5" r="3.5"/><circle cx="718.51" cy="787.11" r="3.5"/><circle cx="727.08" cy="783.56" r="3.5"/><circle cx="722.6" cy="786.68" r="3.5"/><circle cx="712.9" cy="797.52" r="3.5"/><circle cx="727.9" cy="795.28" r="3.5"/><circle cx="727.5" cy="794.15" r="3.5"/><circle cx="714.62" cy="793.81" r="3.5"/><circle cx="721.7" cy="793.77" r="3.5"/><circle cx="716.9" cy="794.14" r="3.5"/><circle cx="713.73" cy="797.97" r="3.5"/><circle cx="717.92" cy="797.98" r="3.5"/><circle cx="723.75" cy="794.26" r="3.5"/><circle cx="726.89" cy="793.21" r="3.5"/><circle cx="727.62" cy="793.32" r="3.5"/><circle cx="716.7" cy="795.92" r="3.5"/><circle cx="761.49" cy="30.07" r="3.5"/><circle cx="782.9" cy="28.74" r="3.5"/><circle cx="805.65" cy="33.42" r="3.5"/><circle cx="811.01" cy="38.77" r="3.5"/><circle cx="820.37" cy="29.41" r="3.5"/><circle cx="847.14" cy="36.1" r="3.5"/><circle cx="864.54" cy="45.47" r="3.5"/><circle cx="827.07" cy="48.14" r="3.5"/><circle cx="842.46" cy="49.48" r="3.5"/><circle cx="836.43" cy="52.83" r="3.5"/><circle cx="857.18" cy="55.5" r="3.5"/><circle cx="869.89" cy="56.84" r="3.5"/><circle cx="876.58" cy="53.5" r="3.5"/><circle cx="883.95" cy="62.19" r="3.5"/><circle cx="890.64" cy="68.22" r="3.5"/><circle cx="898" cy="64.2" r="3.5"/><circle cx="900.67" cy="64.87" r="3.5"/><circle cx="900.67" cy="76.25" r="3.5"/><circle cx="910.04" cy="75.58" r="3.5"/><circle cx="915.4" cy="72.23" r="3.5"/><circle cx="913.39" cy="82.27" r="3.5"/><circle cx="902.68" cy="84.28" r="3.5"/><circle cx="748.1" cy="49.48" r="3.5"/><circle cx="762.83" cy="51.49" r="3.5"/><circle cx="760.15" cy="48.81" r="3.5"/><circle cx="770.86" cy="46.13" r="3.5"/><circle cx="825.73" cy="66.88" r="3.5"/><circle cx="812.34" cy="58.18" r="3.5"/><circle cx="820.37" cy="59.52" r="3.5"/><circle cx="872.57" cy="75.58" r="3.5"/><circle cx="881.94" cy="105.02" r="3.5"/><circle cx="883.28" cy="119.74" r="3.5"/><circle cx="885.95" cy="128.44" r="3.5"/><circle cx="774.2" cy="41.45" r="3.5"/><circle cx="678.14" cy="30.34" r="3.5"/><circle cx="681.35" cy="29.27" r="3.5"/><circle cx="678.14" cy="38.37" r="3.5"/><circle cx="691.52" cy="39.44" r="3.5"/><circle cx="713.47" cy="33.02" r="3.5"/><circle cx="718.29" cy="42.66" r="3.5"/><circle cx="748.27" cy="49.61" r="3.5"/><circle cx="761.65" cy="30.34" r="3.5"/><circle cx="760.04" cy="48.54" r="3.5"/><circle cx="763.25" cy="51.22" r="3.5"/><circle cx="759.57" cy="698.16" r="3.5"/><circle cx="757.43" cy="712.08" r="3.5"/><circle cx="755.29" cy="719.57" r="3.5"/><circle cx="749.94" cy="748.48" r="3.5"/><circle cx="744.58" cy="782.74" r="3.5"/></g>
<path d="M789 19.5 L789 23.42 L789 27.34 L789 31.26 L789 35.18 L789.5 39.1 L794.5 43.02 L800 48.9 L823 58.7 L855 68.5 L886 78.3 L895 88.1 L897.7 97.9 L902.4 107.7 L907 117.5 L915 137.1 L925.2 156.7 L926.6 176.3 L925.8 195.9 L924.6 215.5 L922.7 264.5 L895.7 313.5 L851.8 411.5 L814.3 509.5 L783.2 607.5 L746.8 705.5 L731.2 803.5" fill="none" stroke="#ff0000" stroke-width="2.5" stroke-linejoin="round"/>
<path d="M789.38 19.5 L789.38 23.42 L789.38 27.34 L789.38 31.26 L789.38 35.18 L789.88 39.1 L794.88 43.02 L800.62 48.9 L823.62 58.7 L855.62 68.5 L886.62 78.3 L895.62 88.1 L898.33 97.9 L903.02 107.7 L907.62 117.5 L915.71 137.1 L925.91 156.7 L927.31 176.3 L926.51 195.9 L925.31 215.5 L923.45 264.5 L896.39 313.5 L852.49 411.5 L814.99 509.5 L783.89 607.5 L747.96 705.5 L732.36 803.5" fill="none" stroke="#ff0000" stroke-width="2.5" stroke-linejoin="round"/>
<path d="M789.75 19.5 L789.75 23.42 L789.75 27.34 L789.75 31.26 L789.75 35.18 L790.25 39.1 L795.25 43.02 L801.25 48.9 L824.25 58.7 L856.25 68.5 L887.25 78.3 L896.25 88.1 L898.95 97.9 L903.65 107.7 L908.25 117.5 L916.42 137.1 L926.62 156.7 L928.02 176.3 L927.23 195.9 L926.02 215.5 L924.2 264.5 L897.08 313.5 L853.17 411.5 L815.67 509.5 L784.58 607.5 L749.13 705.5 L733.53 803.5" fill="none" stroke="#ff0000" stroke-width="2.5" stroke-linejoin="round"/>
<path d="M790.12 19.5 L790.12 23.42 L790.12 27.34 L790.12 31.26 L790.12 35.18 L790.62 39.1 L795.62 43.02 L801.88 48.9 L824.88 58.7 L856.88 68.5 L887.88 78.3 L896.88 88.1 L899.58 97.9 L904.27 107.7 L908.88 117.5 L917.14 137.1 L927.34 156.7 L928.74 176.3 L927.94 195.9 L926.74 215.5 L924.95 264.5 L897.76 313.5 L853.86 411.5 L816.36 509.5 L785.26 607.5 L750.29 705.5 L734.69 803.5" fill="none" stroke="#ff0000" stroke-width="2.5" stroke-linejoin="round"/>
<path d="M790.5 19.5 L790.5 23.42 L790.5 27.34 L790.5 31.26 L790.5 35.18 L791 39.1 L796 43.02 L802.5 48.9 L825.5 58.7 L857.5 68.5 L888.5 78.3 L897.5 88.1 L900.2 97.9 L904.9 107.7 L909.5 117.5 L917.85 137.1 L928.05 156.7 L929.45 176.3 L928.65 195.9 L927.45 215.5 L925.7 264.5 L898.45 313.5 L854.55 411.5 L817.05 509.5 L785.95 607.5 L751.45 705.5 L735.85 803.5" fill="none" stroke="#ff0000" stroke-width="2.5" stroke-linejoin="round"/>
<path d="M790.88 19.5 L790.88 23.42 L790.88 27.34 L790.88 31.26 L790.88 35.18 L791.38 39.1 L796.38 43.02 L803.12 48.9 L826.12 58.7 L858.12 68.5 L889.12 78.3 L898.12 88.1 L900.83 97.9 L905.52 107.7 L910.12 117.5 L918.56 137.1 L928.76 156.7 L930.16 176.3 L929.36 195.9 L928.16 215.5 L926.45 264.5 L899.14 313.5 L855.24 411.5 L817.74 509.5 L786.64 607.5 L752.61 705.5 L737.01 803.5" fill="none" stroke="#ff0000" stroke-width="2.5" stroke-linejoin="round"/>
<path d="M791.25 19.5 L791.25 23.42 L791.25 27.34 L791.25 31.26 L791.25 35.18 L791.75 39.1 L796.75 43.02 L803.75 48.9 L826.75 58.7 L858.75 68.5 L889.75 78.3 L898.75 88.1 L901.45 97.9 L906.15 107.7 L910.75 117.5 L919.27 137.1 L929.48 156.7 L930.88 176.3 L930.08 195.9 L928.88 215.5 L927.2 264.5 L899.83 313.5 L855.92 411.5 L818.42 509.5 L787.33 607.5 L753.78 705.5 L738.18 803.5" fill="none" stroke="#ff0000" stroke-width="2.5" stroke-linejoin="round"/>
<path d="M791.62 19.5 L791.62 23.42 L791.62 27.34 L791.62 31.26 L791.62 35.18 L792.12 39.1 L797.12 43.02 L804.38 48.9 L827.38 58.7 L859.38 68.5 L890.38 78.3 L899.38 88.1 L902.08 97.9 L906.77 107.7 L911.38 117.5 L919.99 137.1 L930.19 156.7 L931.59 176.3 L930.79 195.9 L929.59 215.5 L927.95 264.5 L900.51 313.5 L856.61 411.5 L819.11 509.5 L788.01 607.5 L754.94 705.5 L739.34 803.5" fill="none" stroke="#ff0000" stroke-width="2.5" stroke-linejoin="round"/>
<path d="M792 19.5 L792 23.42 L792 27.34 L792 31.26 L792 35.18 L792.5 39.1 L797.5 43.02 L805 48.9 L828 58.7 L860 68.5 L891 78.3 L900 88.1 L902.7 97.9 L907.4 107.7 L912 117.5 L920.7 137.1 L930.9 156.7 L932.3 176.3 L931.5 195.9 L930.3 215.5 L928.7 264.5 L901.2 313.5 L857.3 411.5 L819.8 509.5 L788.7 607.5 L756.1 705.5 L740.5 803.5" fill="none" stroke="#ff0000" stroke-width="2.5" stroke-linejoin="round"/>
<path d="M743.4 31.26 L760.8 41.06 L811 50.86 L861.9 60.66 L881.5 70.46 L894 80.26 L891 90.06 L890 99.86 L892.5 109.66 L896 119.46 L898.3 129.26 L900.2 139.06 L901.98 148.86 L903.77 158.66 L906.1 168.46 L908.65 178.26 L910.58 188.06 L911.77 197.86 L912.52 207.66 L913.05 217.46 L913.7 227.26 L914.1 237.06 L913.33 246.86 L911.35 256.66 L908.3 266.46 L904.03 276.26 L899.33 286.06 L894.8 295.86 L890.3 305.66 L886.02 315.46 L882.08 325.26 L878.27 335.06 L874.33 344.86 L870.2 354.66 L866.27 364.46 L862.27 374.26 L857.95 384.06 L853.38 393.86 L848.75 403.66 L844.47 413.46 L840.57 423.26 L837.02 433.06 L833.68 442.86 L830.3 452.66 L826.67 462.46 L822.65 472.26 L818.52 482.06 L814.62 491.86 L810.98 501.66 L807.45 511.46 L803.88 521.26 L800.43 531.06 L797.3 540.86 L794.1 550.66 L790.53 560.46 L786.88 570.26 L783.17 580.06 L779.23 589.86 L775.38 599.66 L771.83 609.46 L768.25 619.26 L764.42 629.06 L760.73 638.86 L757.4 648.66 L754.35 658.46 L751.4 668.26 L748.42 678.06 L745.5 687.86 L742.42 697.66 L739.38 707.46 L736.9 717.26 L734.88 727.06 L732.92 736.86 L731.15 746.66 L729.6 756.46 L728.15 766.26 L726.85 776.06 L725.77 785.86 L724.9 795.66" fill="none" stroke="#0000ff" stroke-width="2.5" stroke-linejoin="round"/>
<g fill="#0000ff"><circle cx="743.4" cy="31.26" r="5.85"/><circle cx="760.8" cy="41.06" r="5.85"/><circle cx="811" cy="50.86" r="5.85"/><circle cx="861.9" cy="60.66" r="5.85"/><circle cx="881.5" cy="70.46" r="5.85"/><circle cx="894" cy="80.26" r="5.85"/><circle cx="891" cy="90.06" r="5.85"/><circle cx="890" cy="99.86" r="5.85"/><circle cx="892.5" cy="109.66" r="5.85"/><circle cx="896" cy="119.46" r="5.85"/><circle cx="898.3" cy="129.26" r="5.85"/><circle cx="900.2" cy="139.06" r="5.85"/><circle cx="901.98" cy="148.86" r="5.85"/><circle cx="903.77" cy="158.66" r="5.85"/><circle cx="906.1" cy="168.46" r="5.85"/><circle cx="908.65" cy="178.26" r="5.85"/><circle cx="910.58" cy="188.06" r="5.85"/><circle cx="911.77" cy="197.86" r="5.85"/><circle cx="912.52" cy="207.66" r="5.85"/><circle cx="913.05" cy="217.46" r="5.85"/><circle cx="913.7" cy="227.26" r="5.85"/><circle cx="914.1" cy="237.06" r="5.85"/><circle cx="913.33" cy="246.86" r="5.85"/><circle cx="911.35" cy="256.66" r="5.85"/><circle cx="908.3" cy="266.46" r="5.85"/><circle cx="904.03" cy="276.26" r="5.85"/><circle cx="899.33" cy="286.06" r="5.85"/><circle cx="894.8" cy="295.86" r="5.85"/><circle cx="890.3" cy="305.66" r="5.85"/><circle cx="886.02" cy="315.46" r="5.85"/><circle cx="882.08" cy="325.26" r="5.85"/><circle cx="878.27" cy="335.06" r="5.85"/><circle cx="874.33" cy="344.86" r="5.85"/><circle cx="870.2" cy="354.66" r="5.85"/><circle cx="866.27" cy="364.46" r="5.85"/><circle cx="862.27" cy="374.26" r="5.85"/><circle cx="857.95" cy="384.06" r="5.85"/><circle cx="853.38" cy="393.86" r="5.85"/><circle cx="848.75" cy="403.66" r="5.85"/><circle cx="844.47" cy="413.46" r="5.85"/><circle cx="840.57" cy="423.26" r="5.85"/><circle cx="837.02" cy="433.06" r="5.85"/><circle cx="833.68" cy="442.86" r="5.85"/><circle cx="830.3" cy="452.66" r="5.85"/><circle cx="826.67" cy="462.46" r="5.85"/><circle cx="822.65" cy="472.26" r="5.85"/><circle cx="818.52" cy="482.06" r="5.85"/><circle cx="814.62" cy="491.86" r="5.85"/><circle cx="810.98" cy="501.66" r="5.85"/><circle cx="807.45" cy="511.46" r="5.85"/><circle cx="803.88" cy="521.26" r="5.85"/><circle cx="800.43" cy="531.06" r="5.85"/><circle cx="797.3" cy="540.86" r="5.85"/><circle cx="794.1" cy="550.66" r="5.85"/><circle cx="790.53" cy="560.46" r="5.85"/><circle cx="786.88" cy="570.26" r="5.85"/><circle cx="783.17" cy="580.06" r="5.85"/><circle cx="779.23" cy="589.86" r="5.85"/><circle cx="775.38" cy="599.66" r="5.85"/><circle cx="771.83" cy="609.46" r="5.85"/><circle cx="768.25" cy="619.26" r="5.85"/><circle cx="764.42" cy="629.06" r="5.85"/><circle cx="760.73" cy="638.86" r="5.85"/><circle cx="757.4" cy="648.66" r="5.85"/><circle cx="754.35" cy="658.46" r="5.85"/><circle cx="751.4" cy="668.26" r="5.85"/><circle cx="748.42" cy="678.06" r="5.85"/><circle cx="745.5" cy="687.86" r="5.85"/><circle cx="742.42" cy="697.66" r="5.85"/><circle cx="739.38" cy="707.46" r="5.85"/><circle cx="736.9" cy="717.26" r="5.85"/><circle cx="734.88" cy="727.06" r="5.85"/><circle cx="732.92" cy="736.86" r="5.85"/><circle cx="731.15" cy="746.66" r="5.85"/><circle cx="729.6" cy="756.46" r="5.85"/><circle cx="728.15" cy="766.26" r="5.85"/><circle cx="726.85" cy="776.06" r="5.85"/><circle cx="725.77" cy="785.86" r="5.85"/><circle cx="724.9" cy="795.66" r="5.85"/></g>
<path d="M790.5 19.5 L790.5 23.42 L790.5 27.34 L790.5 31.26 L790.5 35.18 L791 39.1 L796 43.02 L803 48.9 L826 58.7 L858 68.5 L889 78.3 L898 88.1 L900.7 97.9 L905.4 107.7 L910 117.5 L919.8 137.1 L930 156.7 L931.4 176.3 L930.6 195.9 L929.4 215.5 L926.2 264.5 L899.2 313.5 L855.3 411.5 L817.8 509.5 L786.7 607.5 L753.6 705.5 L738 803.5" fill="none" stroke="#ff0000" stroke-width="2.5" stroke-linejoin="round"/>
<g fill="#ff0000"><circle cx="790.5" cy="19.5" r="5.85"/><circle cx="790.5" cy="23.42" r="5.85"/><circle cx="790.5" cy="27.34" r="5.85"/><circle cx="790.5" cy="31.26" r="5.85"/><circle cx="790.5" cy="35.18" r="5.85"/><circle cx="791" cy="39.1" r="5.85"/><circle cx="796" cy="43.02" r="5.85"/><circle cx="803" cy="48.9" r="5.85"/><circle cx="826" cy="58.7" r="5.85"/><circle cx="858" cy="68.5" r="5.85"/><circle cx="889" cy="78.3" r="5.85"/><circle cx="898" cy="88.1" r="5.85"/><circle cx="900.7" cy="97.9" r="5.85"/><circle cx="905.4" cy="107.7" r="5.85"/><circle cx="910" cy="117.5" r="5.85"/><circle cx="919.8" cy="137.1" r="5.85"/><circle cx="930" cy="156.7" r="5.85"/><circle cx="931.4" cy="176.3" r="5.85"/><circle cx="930.6" cy="195.9" r="5.85"/><circle cx="929.4" cy="215.5" r="5.85"/><circle cx="926.2" cy="264.5" r="5.85"/><circle cx="899.2" cy="313.5" r="5.85"/><circle cx="855.3" cy="411.5" r="5.85"/><circle cx="817.8" cy="509.5" r="5.85"/><circle cx="786.7" cy="607.5" r="5.85"/><circle cx="753.6" cy="705.5" r="5.85"/><circle cx="738" cy="803.5" r="5.85"/></g>
<path d="M792.3 19.5 L792.3 23.42 L792.3 27.34 L792.3 31.26 L792.3 35.18 L792.3 39.1 L792.3 43.02 L792.5 48.9 L799 58.7 L834.4 68.5 L861.2 78.3 L878.6 88.1 L889.3 97.9 L895.7 107.7 L900.4 117.5 L908.8 137.1 L915.6 156.7 L920.8 176.3 L921.4 195.9 L921.4 215.5 L897.6 264.5 L867.1 313.5 L837.5 411.5 L790.4 509.5 L756.7 607.5 L739.7 705.5 L731.7 803.5" fill="none" stroke="#008000" stroke-width="2.5" stroke-linejoin="round"/>
<g fill="#008000"><circle cx="792.3" cy="19.5" r="5.85"/><circle cx="792.3" cy="23.42" r="5.85"/><circle cx="792.3" cy="27.34" r="5.85"/><circle cx="792.3" cy="31.26" r="5.85"/><circle cx="792.3" cy="35.18" r="5.85"/><circle cx="792.3" cy="39.1" r="5.85"/><circle cx="792.3" cy="43.02" r="5.85"/><circle cx="792.5" cy="48.9" r="5.85"/><circle cx="799" cy="58.7" r="5.85"/><circle cx="834.4" cy="68.5" r="5.85"/><circle cx="861.2" cy="78.3" r="5.85"/><circle cx="878.6" cy="88.1" r="5.85"/><circle cx="889.3" cy="97.9" r="5.85"/><circle cx="895.7" cy="107.7" r="5.85"/><circle cx="900.4" cy="117.5" r="5.85"/><circle cx="908.8" cy="137.1" r="5.85"/><circle cx="915.6" cy="156.7" r="5.85"/><circle cx="920.8" cy="176.3" r="5.85"/><circle cx="921.4" cy="195.9" r="5.85"/><circle cx="921.4" cy="215.5" r="5.85"/><circle cx="897.6" cy="264.5" r="5.85"/><circle cx="867.1" cy="313.5" r="5.85"/><circle cx="837.5" cy="411.5" r="5.85"/><circle cx="790.4" cy="509.5" r="5.85"/><circle cx="756.7" cy="607.5" r="5.85"/><circle cx="739.7" cy="705.5" r="5.85"/><circle cx="731.7" cy="803.5" r="5.85"/></g>
<path d="M610.7 20.47 L610.7 22.52 L610.7 24.69 L610.7 26.99 L610.9 29.45 L632.4 32.12 L686.4 35.04 L720.4 38.26 L750.5 41.85 L776.5 45.9 L803.6 50.49 L827.7 55.75 L851.8 61.83 L866.8 68.91 L878.6 77.21 L881.5 86.99 L882.5 98.57 L886.4 112.35 L891.4 128.8 L896.4 148.48 L902.1 172.09 L905.4 200.46 L906.4 234.57 L903.6 275.61 L890.6 324.97 L871.3 384.31 L848.4 455.55 L815.6 540.94 L785.5 643.03 L752.5 764.72 L723 909.22" fill="none" stroke="#ff00ff" stroke-width="2.5" stroke-linejoin="round"/>
<g fill="#ff00ff"><circle cx="610.7" cy="20.47" r="5.85"/><circle cx="610.7" cy="22.52" r="5.85"/><circle cx="610.7" cy="24.69" r="5.85"/><circle cx="610.7" cy="26.99" r="5.85"/><circle cx="610.9" cy="29.45" r="5.85"/><circle cx="632.4" cy="32.12" r="5.85"/><circle cx="686.4" cy="35.04" r="5.85"/><circle cx="720.4" cy="38.26" r="5.85"/><circle cx="750.5" cy="41.85" r="5.85"/><circle cx="776.5" cy="45.9" r="5.85"/><circle cx="803.6" cy="50.49" r="5.85"/><circle cx="827.7" cy="55.75" r="5.85"/><circle cx="851.8" cy="61.83" r="5.85"/><circle cx="866.8" cy="68.91" r="5.85"/><circle cx="878.6" cy="77.21" r="5.85"/><circle cx="881.5" cy="86.99" r="5.85"/><circle cx="882.5" cy="98.57" r="5.85"/><circle cx="886.4" cy="112.35" r="5.85"/><circle cx="891.4" cy="128.8" r="5.85"/><circle cx="896.4" cy="148.48" r="5.85"/><circle cx="902.1" cy="172.09" r="5.85"/><circle cx="905.4" cy="200.46" r="5.85"/><circle cx="906.4" cy="234.57" r="5.85"/><circle cx="903.6" cy="275.61" r="5.85"/><circle cx="890.6" cy="324.97" r="5.85"/><circle cx="871.3" cy="384.31" r="5.85"/><circle cx="848.4" cy="455.55" r="5.85"/><circle cx="815.6" cy="540.94" r="5.85"/><circle cx="785.5" cy="643.03" r="5.85"/><circle cx="752.5" cy="764.72" r="5.85"/><circle cx="723" cy="909.22" r="5.85"/></g>
</g>
<path d="M593.5 803.5v6.2M654.5 803.5v6.2M715.5 803.5v6.2M776.5 803.5v6.2M836.5 803.5v6.2M897.5 803.5v6.2M958.5 803.5v6.2M580.5 19.5h-6.2M580.5 68.5h-6.2M580.5 117.5h-6.2M580.5 166.5h-6.2M580.5 215.5h-6.2M580.5 264.5h-6.2M580.5 313.5h-6.2M580.5 362.5h-6.2M580.5 411.5h-6.2M580.5 460.5h-6.2M580.5 509.5h-6.2M580.5 558.5h-6.2M580.5 607.5h-6.2M580.5 656.5h-6.2M580.5 705.5h-6.2M580.5 754.5h-6.2" stroke="#000" stroke-width="1.33" fill="none"/>
<rect class="sp" x="580.5" y="19.5" width="381" height="784" stroke-linejoin="miter"/>
<path class="g" d="M1118.5 803.5V19.5M1180.5 803.5V19.5M1242.5 803.5V19.5M1304.5 803.5V19.5M1367.5 803.5V19.5M1429.5 803.5V19.5M1072.5 19.5H1453.5M1072.5 68.5H1453.5M1072.5 117.5H1453.5M1072.5 166.5H1453.5M1072.5 215.5H1453.5M1072.5 264.5H1453.5M1072.5 313.5H1453.5M1072.5 362.5H1453.5M1072.5 411.5H1453.5M1072.5 460.5H1453.5M1072.5 509.5H1453.5M1072.5 558.5H1453.5M1072.5 607.5H1453.5M1072.5 656.5H1453.5M1072.5 705.5H1453.5M1072.5 754.5H1453.5"/>
<g clip-path="url(#c2)">
<g fill="#00ffff"><circle cx="1183.4" cy="121.74" r="3.5"/><circle cx="1192.4" cy="121.7" r="3.5"/><circle cx="1183.91" cy="117.38" r="3.5"/><circle cx="1190.92" cy="120.64" r="3.5"/><circle cx="1189.43" cy="118.5" r="3.5"/><circle cx="1188.85" cy="119.99" r="3.5"/><circle cx="1188.63" cy="117.75" r="3.5"/><circle cx="1187.28" cy="118.93" r="3.5"/><circle cx="1189.91" cy="121.93" r="3.5"/><circle cx="1191.94" cy="119.68" r="3.5"/><circle cx="1187.4" cy="118.3" r="3.5"/><circle cx="1183.72" cy="117.1" r="3.5"/><circle cx="1189.8" cy="129.08" r="3.5"/><circle cx="1198.8" cy="128.35" r="3.5"/><circle cx="1193.22" cy="131.22" r="3.5"/><circle cx="1194.53" cy="129.56" r="3.5"/><circle cx="1191.93" cy="126.88" r="3.5"/><circle cx="1192.73" cy="127.44" r="3.5"/><circle cx="1194.39" cy="131.75" r="3.5"/><circle cx="1195.87" cy="127.67" r="3.5"/><circle cx="1197.84" cy="130.74" r="3.5"/><circle cx="1196.41" cy="131.29" r="3.5"/><circle cx="1196.67" cy="130.71" r="3.5"/><circle cx="1192.98" cy="131.66" r="3.5"/><circle cx="1197.85" cy="141.37" r="3.5"/><circle cx="1206.85" cy="137.37" r="3.5"/><circle cx="1204.64" cy="140.14" r="3.5"/><circle cx="1202" cy="139.21" r="3.5"/><circle cx="1202.26" cy="141.18" r="3.5"/><circle cx="1202.36" cy="140.72" r="3.5"/><circle cx="1201.04" cy="140.97" r="3.5"/><circle cx="1205.95" cy="138.87" r="3.5"/><circle cx="1202.96" cy="141.16" r="3.5"/><circle cx="1204.36" cy="138.99" r="3.5"/><circle cx="1199.85" cy="138.18" r="3.5"/><circle cx="1204.15" cy="137.39" r="3.5"/><circle cx="1205.35" cy="150.9" r="3.5"/><circle cx="1214.35" cy="147.7" r="3.5"/><circle cx="1213.55" cy="147.91" r="3.5"/><circle cx="1213.97" cy="149.89" r="3.5"/><circle cx="1209.89" cy="148.95" r="3.5"/><circle cx="1211.21" cy="149.3" r="3.5"/><circle cx="1208.16" cy="147.4" r="3.5"/><circle cx="1209.96" cy="151.03" r="3.5"/><circle cx="1210.96" cy="146.74" r="3.5"/><circle cx="1212.73" cy="149.99" r="3.5"/><circle cx="1213.52" cy="147.32" r="3.5"/><circle cx="1212.05" cy="146.65" r="3.5"/><circle cx="1212.85" cy="159.42" r="3.5"/><circle cx="1221.85" cy="157.53" r="3.5"/><circle cx="1214.89" cy="160.54" r="3.5"/><circle cx="1213.81" cy="158.77" r="3.5"/><circle cx="1220.54" cy="157.38" r="3.5"/><circle cx="1214.74" cy="160.56" r="3.5"/><circle cx="1216.66" cy="159.74" r="3.5"/><circle cx="1213.14" cy="157.97" r="3.5"/><circle cx="1214.4" cy="159.52" r="3.5"/><circle cx="1213.6" cy="160.93" r="3.5"/><circle cx="1213.08" cy="159.81" r="3.5"/><circle cx="1213.04" cy="157.44" r="3.5"/><circle cx="1219.5" cy="170.03" r="3.5"/><circle cx="1228.5" cy="166.75" r="3.5"/><circle cx="1221.15" cy="169.42" r="3.5"/><circle cx="1222.97" cy="166.18" r="3.5"/><circle cx="1228.41" cy="166.72" r="3.5"/><circle cx="1219.83" cy="167.68" r="3.5"/><circle cx="1225.04" cy="169.67" r="3.5"/><circle cx="1220.52" cy="167.65" r="3.5"/><circle cx="1219.78" cy="168.2" r="3.5"/><circle cx="1226.39" cy="169.66" r="3.5"/><circle cx="1227.62" cy="169.74" r="3.5"/><circle cx="1227.26" cy="169.49" r="3.5"/><circle cx="1225.6" cy="178.12" r="3.5"/><circle cx="1234.6" cy="176.89" r="3.5"/><circle cx="1231.55" cy="177.34" r="3.5"/><circle cx="1226.52" cy="178" r="3.5"/><circle cx="1233.47" cy="176.4" r="3.5"/><circle cx="1230.86" cy="177.72" r="3.5"/><circle cx="1230.23" cy="176.48" r="3.5"/><circle cx="1234.24" cy="177.06" r="3.5"/><circle cx="1231.05" cy="177.86" r="3.5"/><circle cx="1225.76" cy="178.55" r="3.5"/><circle cx="1226.87" cy="176.04" r="3.5"/><circle cx="1225.9" cy="176.57" r="3.5"/><circle cx="1231.8" cy="186.04" r="3.5"/><circle cx="1240.8" cy="188.74" r="3.5"/><circle cx="1236.37" cy="190.48" r="3.5"/><circle cx="1240.21" cy="190.53" r="3.5"/><circle cx="1233.89" cy="187.78" r="3.5"/><circle cx="1234.06" cy="188.52" r="3.5"/><circle cx="1237.42" cy="189.56" r="3.5"/><circle cx="1238.19" cy="186.84" r="3.5"/><circle cx="1235.61" cy="188.19" r="3.5"/><circle cx="1231.84" cy="185.74" r="3.5"/><circle cx="1235.48" cy="186.12" r="3.5"/><circle cx="1238.31" cy="186.76" r="3.5"/><circle cx="1237.85" cy="195.86" r="3.5"/><circle cx="1242.35" cy="196.27" r="3.5"/><circle cx="1238.89" cy="196.45" r="3.5"/><circle cx="1240.19" cy="197.68" r="3.5"/><circle cx="1239.24" cy="198.57" r="3.5"/><circle cx="1238.81" cy="199.89" r="3.5"/><circle cx="1242.18" cy="199" r="3.5"/><circle cx="1239.8" cy="197.92" r="3.5"/><circle cx="1240.46" cy="195.62" r="3.5"/><circle cx="1239.73" cy="197.99" r="3.5"/><circle cx="1238.67" cy="195.83" r="3.5"/><circle cx="1241.46" cy="197.19" r="3.5"/><circle cx="1241.75" cy="207.76" r="3.5"/><circle cx="1246.25" cy="209.77" r="3.5"/><circle cx="1244.5" cy="206.61" r="3.5"/><circle cx="1246.18" cy="207.02" r="3.5"/><circle cx="1241.84" cy="208.59" r="3.5"/><circle cx="1242.21" cy="206.69" r="3.5"/><circle cx="1245.53" cy="208.52" r="3.5"/><circle cx="1241.82" cy="207.42" r="3.5"/><circle cx="1243.6" cy="207.59" r="3.5"/><circle cx="1242.69" cy="208.1" r="3.5"/><circle cx="1242.08" cy="206.58" r="3.5"/><circle cx="1243.43" cy="209.84" r="3.5"/><circle cx="1245.3" cy="215.34" r="3.5"/><circle cx="1249.8" cy="218.73" r="3.5"/><circle cx="1246.17" cy="217.82" r="3.5"/><circle cx="1247.06" cy="217.28" r="3.5"/><circle cx="1248.69" cy="216.94" r="3.5"/><circle cx="1245.85" cy="215.57" r="3.5"/><circle cx="1245.66" cy="219.21" r="3.5"/><circle cx="1248.18" cy="219.76" r="3.5"/><circle cx="1248.42" cy="215.08" r="3.5"/><circle cx="1248.27" cy="218.85" r="3.5"/><circle cx="1248.56" cy="217.45" r="3.5"/><circle cx="1246.91" cy="217.25" r="3.5"/><circle cx="1248.88" cy="228.75" r="3.5"/><circle cx="1253.38" cy="226.1" r="3.5"/><circle cx="1251.24" cy="227.15" r="3.5"/><circle cx="1253.17" cy="228.78" r="3.5"/><circle cx="1253.07" cy="228.94" r="3.5"/><circle cx="1250.21" cy="225.92" r="3.5"/><circle cx="1251.07" cy="226.06" r="3.5"/><circle cx="1250.8" cy="228.16" r="3.5"/><circle cx="1253.01" cy="227.69" r="3.5"/><circle cx="1252.56" cy="225.24" r="3.5"/><circle cx="1250.48" cy="229.75" r="3.5"/><circle cx="1249.53" cy="226.84" r="3.5"/><circle cx="1252.62" cy="234.89" r="3.5"/><circle cx="1257.12" cy="234.99" r="3.5"/><circle cx="1256.65" cy="239.5" r="3.5"/><circle cx="1255.54" cy="235.2" r="3.5"/><circle cx="1253.96" cy="235.72" r="3.5"/><circle cx="1255.64" cy="237.97" r="3.5"/><circle cx="1254.6" cy="237.18" r="3.5"/><circle cx="1253.13" cy="237.26" r="3.5"/><circle cx="1256.9" cy="238.34" r="3.5"/><circle cx="1253.06" cy="237.14" r="3.5"/><circle cx="1255.84" cy="235.85" r="3.5"/><circle cx="1256.65" cy="236.86" r="3.5"/><circle cx="1256.1" cy="247.88" r="3.5"/><circle cx="1260.6" cy="246.38" r="3.5"/><circle cx="1260.58" cy="248.27" r="3.5"/><circle cx="1258.68" cy="245.08" r="3.5"/><circle cx="1258.09" cy="244.51" r="3.5"/><circle cx="1258.78" cy="248.77" r="3.5"/><circle cx="1256.91" cy="246.91" r="3.5"/><circle cx="1258.27" cy="246.38" r="3.5"/><circle cx="1259.3" cy="249.04" r="3.5"/><circle cx="1259.27" cy="246.72" r="3.5"/><circle cx="1260.43" cy="246.01" r="3.5"/><circle cx="1259.46" cy="247.65" r="3.5"/><circle cx="1259.5" cy="257.97" r="3.5"/><circle cx="1264" cy="258.42" r="3.5"/><circle cx="1260.51" cy="257.27" r="3.5"/><circle cx="1261.31" cy="257.49" r="3.5"/><circle cx="1263.9" cy="257.33" r="3.5"/><circle cx="1259.55" cy="256.48" r="3.5"/><circle cx="1262.7" cy="258.58" r="3.5"/><circle cx="1262.43" cy="258.24" r="3.5"/><circle cx="1259.58" cy="258.88" r="3.5"/><circle cx="1262.78" cy="257.19" r="3.5"/><circle cx="1263.57" cy="258.58" r="3.5"/><circle cx="1259.95" cy="258.24" r="3.5"/><circle cx="1262.92" cy="267.8" r="3.5"/><circle cx="1267.42" cy="264.96" r="3.5"/><circle cx="1266.27" cy="266.89" r="3.5"/><circle cx="1263.79" cy="267.98" r="3.5"/><circle cx="1263.55" cy="267.02" r="3.5"/><circle cx="1264.88" cy="265.23" r="3.5"/><circle cx="1265.47" cy="266.3" r="3.5"/><circle cx="1263.85" cy="268.79" r="3.5"/><circle cx="1263.25" cy="263.98" r="3.5"/><circle cx="1265.11" cy="268.15" r="3.5"/><circle cx="1265.89" cy="267.73" r="3.5"/><circle cx="1265.11" cy="267.33" r="3.5"/><circle cx="1265.7" cy="275.43" r="3.5"/><circle cx="1270.2" cy="275.09" r="3.5"/><circle cx="1267.96" cy="273.9" r="3.5"/><circle cx="1266.06" cy="277.53" r="3.5"/><circle cx="1266.48" cy="277.51" r="3.5"/><circle cx="1269.23" cy="275.78" r="3.5"/><circle cx="1268.74" cy="277.7" r="3.5"/><circle cx="1269.59" cy="274.43" r="3.5"/><circle cx="1266.43" cy="275.67" r="3.5"/><circle cx="1267.79" cy="275.23" r="3.5"/><circle cx="1265.75" cy="276.55" r="3.5"/><circle cx="1270.05" cy="275.59" r="3.5"/><circle cx="1267.92" cy="286.25" r="3.5"/><circle cx="1272.42" cy="285.47" r="3.5"/><circle cx="1269.91" cy="287.91" r="3.5"/><circle cx="1269.31" cy="286.81" r="3.5"/><circle cx="1270.1" cy="286.25" r="3.5"/><circle cx="1272.04" cy="283.94" r="3.5"/><circle cx="1271.63" cy="285.08" r="3.5"/><circle cx="1270.83" cy="287.54" r="3.5"/><circle cx="1270.86" cy="285.52" r="3.5"/><circle cx="1271.7" cy="284.02" r="3.5"/><circle cx="1270.77" cy="285.52" r="3.5"/><circle cx="1270.31" cy="287.81" r="3.5"/><circle cx="1270.08" cy="297.35" r="3.5"/><circle cx="1274.58" cy="296.5" r="3.5"/><circle cx="1271.46" cy="294.52" r="3.5"/><circle cx="1272.14" cy="294.52" r="3.5"/><circle cx="1271.33" cy="298.15" r="3.5"/><circle cx="1270.58" cy="297.45" r="3.5"/><circle cx="1271.79" cy="295.18" r="3.5"/><circle cx="1271.51" cy="293.75" r="3.5"/><circle cx="1272.14" cy="294.19" r="3.5"/><circle cx="1272.07" cy="294.82" r="3.5"/><circle cx="1274.1" cy="297.97" r="3.5"/><circle cx="1272.07" cy="296.56" r="3.5"/><circle cx="1272.23" cy="307.81" r="3.5"/><circle cx="1276.73" cy="304.79" r="3.5"/><circle cx="1272.68" cy="304.35" r="3.5"/><circle cx="1273.09" cy="306.55" r="3.5"/><circle cx="1273.92" cy="304.94" r="3.5"/><circle cx="1275.81" cy="304.33" r="3.5"/><circle cx="1275.87" cy="306.32" r="3.5"/><circle cx="1274.04" cy="307.28" r="3.5"/><circle cx="1273.77" cy="307.55" r="3.5"/><circle cx="1276.4" cy="305.67" r="3.5"/><circle cx="1275.34" cy="307.9" r="3.5"/><circle cx="1275.58" cy="306.92" r="3.5"/><circle cx="1274.25" cy="317.31" r="3.5"/><circle cx="1278.75" cy="317.64" r="3.5"/><circle cx="1277.64" cy="317.86" r="3.5"/><circle cx="1275.56" cy="316.07" r="3.5"/><circle cx="1277.27" cy="314.8" r="3.5"/><circle cx="1276.03" cy="313.83" r="3.5"/><circle cx="1278.56" cy="314.73" r="3.5"/><circle cx="1276.4" cy="317.43" r="3.5"/><circle cx="1275.09" cy="317.76" r="3.5"/><circle cx="1274.82" cy="313.1" r="3.5"/><circle cx="1275.83" cy="314.76" r="3.5"/><circle cx="1278.38" cy="317.38" r="3.5"/><circle cx="1276.06" cy="326.57" r="3.5"/><circle cx="1280.56" cy="324.94" r="3.5"/><circle cx="1278.51" cy="323.94" r="3.5"/><circle cx="1279.81" cy="324.71" r="3.5"/><circle cx="1277.34" cy="325.95" r="3.5"/><circle cx="1276.74" cy="324.34" r="3.5"/><circle cx="1280.23" cy="323.24" r="3.5"/><circle cx="1276.7" cy="323.78" r="3.5"/><circle cx="1277.19" cy="324.86" r="3.5"/><circle cx="1277.19" cy="324.47" r="3.5"/><circle cx="1277.17" cy="323.96" r="3.5"/><circle cx="1278.81" cy="324.44" r="3.5"/><circle cx="1277.78" cy="334.42" r="3.5"/><circle cx="1282.28" cy="336.4" r="3.5"/><circle cx="1278.06" cy="333.28" r="3.5"/><circle cx="1281.61" cy="334.71" r="3.5"/><circle cx="1281.29" cy="333.22" r="3.5"/><circle cx="1280.14" cy="336.79" r="3.5"/><circle cx="1279.31" cy="336.4" r="3.5"/><circle cx="1280.53" cy="334.53" r="3.5"/><circle cx="1282.27" cy="334.52" r="3.5"/><circle cx="1279.92" cy="335.66" r="3.5"/><circle cx="1279.21" cy="336.75" r="3.5"/><circle cx="1280.47" cy="335.5" r="3.5"/><circle cx="1279.5" cy="345.05" r="3.5"/><circle cx="1284" cy="347.28" r="3.5"/><circle cx="1283.95" cy="346.56" r="3.5"/><circle cx="1281.55" cy="344.42" r="3.5"/><circle cx="1281.87" cy="342.59" r="3.5"/><circle cx="1279.99" cy="347.34" r="3.5"/><circle cx="1280.08" cy="347.05" r="3.5"/><circle cx="1282.56" cy="346.94" r="3.5"/><circle cx="1279.85" cy="343.89" r="3.5"/><circle cx="1283.09" cy="342.4" r="3.5"/><circle cx="1279.98" cy="344.11" r="3.5"/><circle cx="1280.28" cy="343.09" r="3.5"/><circle cx="1281.21" cy="355.51" r="3.5"/><circle cx="1285.71" cy="352.62" r="3.5"/><circle cx="1285.58" cy="355.41" r="3.5"/><circle cx="1281.44" cy="356.65" r="3.5"/><circle cx="1282.3" cy="354.57" r="3.5"/><circle cx="1283.73" cy="352.85" r="3.5"/><circle cx="1283.47" cy="352.46" r="3.5"/><circle cx="1282.11" cy="356.75" r="3.5"/><circle cx="1284.91" cy="354.77" r="3.5"/><circle cx="1284.28" cy="356.54" r="3.5"/><circle cx="1281.84" cy="354.62" r="3.5"/><circle cx="1281.81" cy="352.74" r="3.5"/><circle cx="1282.86" cy="362.5" r="3.5"/><circle cx="1287.36" cy="363.02" r="3.5"/><circle cx="1283.1" cy="363.04" r="3.5"/><circle cx="1284.56" cy="365.07" r="3.5"/><circle cx="1286.72" cy="366.48" r="3.5"/><circle cx="1286.09" cy="364.5" r="3.5"/><circle cx="1286.98" cy="362.77" r="3.5"/><circle cx="1283.33" cy="366.05" r="3.5"/><circle cx="1285.68" cy="363.01" r="3.5"/><circle cx="1284.55" cy="363.45" r="3.5"/><circle cx="1284.79" cy="364.1" r="3.5"/><circle cx="1284.65" cy="365.95" r="3.5"/><circle cx="1284.4" cy="375.82" r="3.5"/><circle cx="1288.9" cy="374.57" r="3.5"/><circle cx="1286.53" cy="373.18" r="3.5"/><circle cx="1287.84" cy="376.69" r="3.5"/><circle cx="1285.43" cy="375.28" r="3.5"/><circle cx="1287.55" cy="375.05" r="3.5"/><circle cx="1284.54" cy="374.52" r="3.5"/><circle cx="1285.31" cy="372.73" r="3.5"/><circle cx="1287.01" cy="374.99" r="3.5"/><circle cx="1287.21" cy="375.47" r="3.5"/><circle cx="1287.56" cy="374.14" r="3.5"/><circle cx="1284.62" cy="375.62" r="3.5"/><circle cx="1285.9" cy="385.68" r="3.5"/><circle cx="1290.4" cy="385.74" r="3.5"/><circle cx="1288.59" cy="381.75" r="3.5"/><circle cx="1286.78" cy="382.1" r="3.5"/><circle cx="1288.76" cy="384.28" r="3.5"/><circle cx="1286.74" cy="386.34" r="3.5"/><circle cx="1290.3" cy="386.06" r="3.5"/><circle cx="1287.99" cy="383.02" r="3.5"/><circle cx="1286.84" cy="385.68" r="3.5"/><circle cx="1289.05" cy="382.95" r="3.5"/><circle cx="1289.96" cy="384.4" r="3.5"/><circle cx="1287.76" cy="383.64" r="3.5"/><circle cx="1287.4" cy="394.96" r="3.5"/><circle cx="1291.9" cy="393.64" r="3.5"/><circle cx="1290.37" cy="391.97" r="3.5"/><circle cx="1290.56" cy="392.72" r="3.5"/><circle cx="1291.5" cy="392.43" r="3.5"/><circle cx="1288.9" cy="394.05" r="3.5"/><circle cx="1289.17" cy="393.99" r="3.5"/><circle cx="1291.56" cy="392.37" r="3.5"/><circle cx="1290.87" cy="394.83" r="3.5"/><circle cx="1290.94" cy="393.6" r="3.5"/><circle cx="1289.45" cy="393.09" r="3.5"/><circle cx="1289.53" cy="392.63" r="3.5"/><circle cx="1288.89" cy="402.11" r="3.5"/><circle cx="1293.39" cy="403.54" r="3.5"/><circle cx="1289.75" cy="403.51" r="3.5"/><circle cx="1291.47" cy="402.71" r="3.5"/><circle cx="1289.65" cy="404.19" r="3.5"/><circle cx="1292.76" cy="402.27" r="3.5"/><circle cx="1291.66" cy="404.45" r="3.5"/><circle cx="1292.87" cy="404.57" r="3.5"/><circle cx="1290.27" cy="402.2" r="3.5"/><circle cx="1292.65" cy="402.66" r="3.5"/><circle cx="1288.94" cy="405.51" r="3.5"/><circle cx="1289.78" cy="402.73" r="3.5"/><circle cx="1290.29" cy="412.55" r="3.5"/><circle cx="1294.79" cy="412.24" r="3.5"/><circle cx="1293.54" cy="412.67" r="3.5"/><circle cx="1292.27" cy="413.06" r="3.5"/><circle cx="1294.04" cy="411.05" r="3.5"/><circle cx="1292.89" cy="411.62" r="3.5"/><circle cx="1290.96" cy="413.99" r="3.5"/><circle cx="1291.98" cy="411.28" r="3.5"/><circle cx="1292.93" cy="415.53" r="3.5"/><circle cx="1293.19" cy="413.44" r="3.5"/><circle cx="1293.89" cy="415.54" r="3.5"/><circle cx="1290.97" cy="412.46" r="3.5"/><circle cx="1291.56" cy="425.58" r="3.5"/><circle cx="1296.06" cy="425.39" r="3.5"/><circle cx="1292.47" cy="424.28" r="3.5"/><circle cx="1295.49" cy="423.72" r="3.5"/><circle cx="1294.72" cy="423.38" r="3.5"/><circle cx="1292.61" cy="421.83" r="3.5"/><circle cx="1291.84" cy="424.09" r="3.5"/><circle cx="1292.18" cy="423.87" r="3.5"/><circle cx="1293.32" cy="422.94" r="3.5"/><circle cx="1295.92" cy="422.72" r="3.5"/><circle cx="1293.69" cy="422.66" r="3.5"/><circle cx="1292.53" cy="421.88" r="3.5"/><circle cx="1292.77" cy="433.22" r="3.5"/><circle cx="1297.27" cy="434.65" r="3.5"/><circle cx="1293.18" cy="435.29" r="3.5"/><circle cx="1295.81" cy="430.83" r="3.5"/><circle cx="1295.95" cy="432.57" r="3.5"/><circle cx="1295.09" cy="431.06" r="3.5"/><circle cx="1295.07" cy="433.16" r="3.5"/><circle cx="1296.29" cy="433.46" r="3.5"/><circle cx="1295.94" cy="434.23" r="3.5"/><circle cx="1293.77" cy="430.68" r="3.5"/><circle cx="1294.92" cy="431.21" r="3.5"/><circle cx="1293.41" cy="432.17" r="3.5"/><circle cx="1293.99" cy="443.05" r="3.5"/><circle cx="1298.49" cy="443.44" r="3.5"/><circle cx="1296.89" cy="445.07" r="3.5"/><circle cx="1294.45" cy="443.15" r="3.5"/><circle cx="1294.38" cy="443.71" r="3.5"/><circle cx="1295.95" cy="441.06" r="3.5"/><circle cx="1295.38" cy="443.66" r="3.5"/><circle cx="1296.12" cy="445.08" r="3.5"/><circle cx="1295.58" cy="442.06" r="3.5"/><circle cx="1298.14" cy="443.39" r="3.5"/><circle cx="1294.47" cy="444.28" r="3.5"/><circle cx="1295.62" cy="445.1" r="3.5"/><circle cx="1295.21" cy="453.34" r="3.5"/><circle cx="1299.71" cy="454.18" r="3.5"/><circle cx="1299.24" cy="452.71" r="3.5"/><circle cx="1299.56" cy="450.29" r="3.5"/><circle cx="1296.74" cy="454.35" r="3.5"/><circle cx="1295.24" cy="453.52" r="3.5"/><circle cx="1299.7" cy="453.74" r="3.5"/><circle cx="1299.09" cy="450.54" r="3.5"/><circle cx="1297.64" cy="453.21" r="3.5"/><circle cx="1297.17" cy="452.26" r="3.5"/><circle cx="1298.77" cy="450.97" r="3.5"/><circle cx="1295.41" cy="453.13" r="3.5"/><circle cx="1296.44" cy="464.79" r="3.5"/><circle cx="1300.94" cy="464.1" r="3.5"/><circle cx="1299.47" cy="461.43" r="3.5"/><circle cx="1300.51" cy="460.16" r="3.5"/><circle cx="1297.55" cy="463.9" r="3.5"/><circle cx="1300.46" cy="461.97" r="3.5"/><circle cx="1300.53" cy="460.51" r="3.5"/><circle cx="1299.12" cy="460.3" r="3.5"/><circle cx="1297.49" cy="460.91" r="3.5"/><circle cx="1296.47" cy="461.99" r="3.5"/><circle cx="1298.69" cy="461.37" r="3.5"/><circle cx="1299.37" cy="460.22" r="3.5"/><circle cx="1297.66" cy="472.35" r="3.5"/><circle cx="1302.16" cy="472.4" r="3.5"/><circle cx="1299.48" cy="474.33" r="3.5"/><circle cx="1298.23" cy="471.89" r="3.5"/><circle cx="1299.73" cy="471.62" r="3.5"/><circle cx="1302.05" cy="472.62" r="3.5"/><circle cx="1299.99" cy="471.96" r="3.5"/><circle cx="1299.63" cy="474.51" r="3.5"/><circle cx="1301.26" cy="473" r="3.5"/><circle cx="1298.39" cy="472.73" r="3.5"/><circle cx="1298.24" cy="471.51" r="3.5"/><circle cx="1297.77" cy="473.29" r="3.5"/><circle cx="1298.88" cy="484.45" r="3.5"/><circle cx="1303.38" cy="482.75" r="3.5"/><circle cx="1301.45" cy="480.81" r="3.5"/><circle cx="1300.87" cy="481.88" r="3.5"/><circle cx="1300.79" cy="480.91" r="3.5"/><circle cx="1299.87" cy="483.31" r="3.5"/><circle cx="1303.17" cy="483.67" r="3.5"/><circle cx="1301.68" cy="479.7" r="3.5"/><circle cx="1300.24" cy="483.76" r="3.5"/><circle cx="1303.26" cy="482.3" r="3.5"/><circle cx="1301.44" cy="482.99" r="3.5"/><circle cx="1300" cy="483.12" r="3.5"/><circle cx="1300.1" cy="491.19" r="3.5"/><circle cx="1304.6" cy="493.6" r="3.5"/><circle cx="1302.18" cy="492.68" r="3.5"/><circle cx="1302.61" cy="492.03" r="3.5"/><circle cx="1302.18" cy="494.12" r="3.5"/><circle cx="1303.5" cy="491.46" r="3.5"/><circle cx="1302.38" cy="493.85" r="3.5"/><circle cx="1303.47" cy="492.63" r="3.5"/><circle cx="1304.42" cy="489.95" r="3.5"/><circle cx="1302.79" cy="492.48" r="3.5"/><circle cx="1302.15" cy="494.18" r="3.5"/><circle cx="1304.46" cy="491.31" r="3.5"/><circle cx="1301.31" cy="502.24" r="3.5"/><circle cx="1305.81" cy="502.99" r="3.5"/><circle cx="1304.45" cy="500.97" r="3.5"/><circle cx="1304.91" cy="500.9" r="3.5"/><circle cx="1301.98" cy="502.48" r="3.5"/><circle cx="1304.24" cy="501.2" r="3.5"/><circle cx="1303.56" cy="504.1" r="3.5"/><circle cx="1304.95" cy="501.19" r="3.5"/><circle cx="1305.42" cy="502.01" r="3.5"/><circle cx="1303.14" cy="502.39" r="3.5"/><circle cx="1304.84" cy="503.64" r="3.5"/><circle cx="1304.33" cy="502.5" r="3.5"/><circle cx="1302.46" cy="510.96" r="3.5"/><circle cx="1306.96" cy="509.16" r="3.5"/><circle cx="1304.51" cy="509.53" r="3.5"/><circle cx="1306.7" cy="510.77" r="3.5"/><circle cx="1305.19" cy="512.63" r="3.5"/><circle cx="1303.27" cy="513.13" r="3.5"/><circle cx="1303.93" cy="509.36" r="3.5"/><circle cx="1305.16" cy="510.97" r="3.5"/><circle cx="1306.6" cy="511.18" r="3.5"/><circle cx="1302.89" cy="509.05" r="3.5"/><circle cx="1302.6" cy="511.43" r="3.5"/><circle cx="1305.68" cy="509.22" r="3.5"/><circle cx="1303.52" cy="520.41" r="3.5"/><circle cx="1308.02" cy="521.15" r="3.5"/><circle cx="1307.56" cy="523.61" r="3.5"/><circle cx="1307.46" cy="521.95" r="3.5"/><circle cx="1306.11" cy="519.87" r="3.5"/><circle cx="1306.28" cy="519.59" r="3.5"/><circle cx="1304.89" cy="522.91" r="3.5"/><circle cx="1306.08" cy="522.39" r="3.5"/><circle cx="1305.62" cy="520.16" r="3.5"/><circle cx="1305.79" cy="521.63" r="3.5"/><circle cx="1304.61" cy="522.99" r="3.5"/><circle cx="1307.94" cy="519.67" r="3.5"/><circle cx="1304.54" cy="529.77" r="3.5"/><circle cx="1309.04" cy="532.62" r="3.5"/><circle cx="1307.79" cy="529.68" r="3.5"/><circle cx="1307.18" cy="529.75" r="3.5"/><circle cx="1308.43" cy="531.5" r="3.5"/><circle cx="1306.84" cy="529.37" r="3.5"/><circle cx="1306.37" cy="530.92" r="3.5"/><circle cx="1306.17" cy="529.46" r="3.5"/><circle cx="1305.44" cy="532.06" r="3.5"/><circle cx="1308.71" cy="532.78" r="3.5"/><circle cx="1307.31" cy="532.52" r="3.5"/><circle cx="1305.15" cy="529.61" r="3.5"/><circle cx="1305.56" cy="541.88" r="3.5"/><circle cx="1310.06" cy="538.37" r="3.5"/><circle cx="1305.94" cy="542.25" r="3.5"/><circle cx="1306.45" cy="539.28" r="3.5"/><circle cx="1307.34" cy="542.54" r="3.5"/><circle cx="1305.61" cy="542.75" r="3.5"/><circle cx="1306.94" cy="541.22" r="3.5"/><circle cx="1307.69" cy="538.97" r="3.5"/><circle cx="1309.88" cy="539.24" r="3.5"/><circle cx="1309.19" cy="542.75" r="3.5"/><circle cx="1307.61" cy="543.16" r="3.5"/><circle cx="1305.85" cy="539.1" r="3.5"/><circle cx="1306.59" cy="550.58" r="3.5"/><circle cx="1311.09" cy="548.53" r="3.5"/><circle cx="1310.22" cy="550.79" r="3.5"/><circle cx="1310.18" cy="549.59" r="3.5"/><circle cx="1306.71" cy="552.61" r="3.5"/><circle cx="1307.52" cy="550.24" r="3.5"/><circle cx="1307.15" cy="551.09" r="3.5"/><circle cx="1308.67" cy="549.15" r="3.5"/><circle cx="1306.76" cy="549.85" r="3.5"/><circle cx="1310.11" cy="548.93" r="3.5"/><circle cx="1307.61" cy="551.25" r="3.5"/><circle cx="1309.44" cy="552.18" r="3.5"/><circle cx="1307.62" cy="561.19" r="3.5"/><circle cx="1312.12" cy="562.21" r="3.5"/><circle cx="1308.32" cy="562.57" r="3.5"/><circle cx="1307.75" cy="558.55" r="3.5"/><circle cx="1308.09" cy="561.84" r="3.5"/><circle cx="1309.89" cy="562.57" r="3.5"/><circle cx="1312.01" cy="562.72" r="3.5"/><circle cx="1310.38" cy="559.72" r="3.5"/><circle cx="1311.93" cy="561.62" r="3.5"/><circle cx="1308.5" cy="560.73" r="3.5"/><circle cx="1307.71" cy="558.05" r="3.5"/><circle cx="1310.49" cy="561.56" r="3.5"/><circle cx="1308.67" cy="572.07" r="3.5"/><circle cx="1313.17" cy="571.53" r="3.5"/><circle cx="1309.29" cy="571.45" r="3.5"/><circle cx="1313.09" cy="571.14" r="3.5"/><circle cx="1310.83" cy="569.23" r="3.5"/><circle cx="1308.96" cy="570.89" r="3.5"/><circle cx="1313" cy="568.33" r="3.5"/><circle cx="1312.37" cy="572.25" r="3.5"/><circle cx="1310.26" cy="571.99" r="3.5"/><circle cx="1309.37" cy="569.26" r="3.5"/><circle cx="1311.22" cy="572.16" r="3.5"/><circle cx="1311.08" cy="568.21" r="3.5"/><circle cx="1309.73" cy="582.21" r="3.5"/><circle cx="1314.23" cy="580.42" r="3.5"/><circle cx="1313.24" cy="578.71" r="3.5"/><circle cx="1311.24" cy="578.01" r="3.5"/><circle cx="1310.57" cy="579.75" r="3.5"/><circle cx="1311.58" cy="580.84" r="3.5"/><circle cx="1313.48" cy="579.23" r="3.5"/><circle cx="1313.9" cy="580.83" r="3.5"/><circle cx="1311.28" cy="578.48" r="3.5"/><circle cx="1314.03" cy="580.84" r="3.5"/><circle cx="1309.93" cy="580.98" r="3.5"/><circle cx="1311.43" cy="579.67" r="3.5"/><circle cx="1310.79" cy="591.19" r="3.5"/><circle cx="1315.29" cy="588.48" r="3.5"/><circle cx="1312" cy="590.06" r="3.5"/><circle cx="1314.86" cy="587.79" r="3.5"/><circle cx="1314.55" cy="590.96" r="3.5"/><circle cx="1311.59" cy="590.67" r="3.5"/><circle cx="1313.59" cy="590.91" r="3.5"/><circle cx="1313.21" cy="588.93" r="3.5"/><circle cx="1313.05" cy="588.55" r="3.5"/><circle cx="1312.84" cy="589.39" r="3.5"/><circle cx="1311.27" cy="588.52" r="3.5"/><circle cx="1312.34" cy="589.33" r="3.5"/><circle cx="1311.86" cy="599.98" r="3.5"/><circle cx="1316.36" cy="600.89" r="3.5"/><circle cx="1313.03" cy="599.93" r="3.5"/><circle cx="1313.38" cy="598.29" r="3.5"/><circle cx="1312.49" cy="601.96" r="3.5"/><circle cx="1316.06" cy="601.31" r="3.5"/><circle cx="1312.63" cy="597.92" r="3.5"/><circle cx="1312.33" cy="598.66" r="3.5"/><circle cx="1313.78" cy="597.2" r="3.5"/><circle cx="1313.76" cy="600.61" r="3.5"/><circle cx="1315.62" cy="598.11" r="3.5"/><circle cx="1311.87" cy="601.13" r="3.5"/><circle cx="1312.99" cy="608.86" r="3.5"/><circle cx="1317.49" cy="608.53" r="3.5"/><circle cx="1313.69" cy="608.3" r="3.5"/><circle cx="1314.19" cy="608.24" r="3.5"/><circle cx="1314.04" cy="609.55" r="3.5"/><circle cx="1316.65" cy="608.5" r="3.5"/><circle cx="1314.87" cy="609.38" r="3.5"/><circle cx="1316.78" cy="610.79" r="3.5"/><circle cx="1317.43" cy="607.83" r="3.5"/><circle cx="1316.62" cy="608.43" r="3.5"/><circle cx="1315.59" cy="609.6" r="3.5"/><circle cx="1315.58" cy="608.57" r="3.5"/><circle cx="1314.22" cy="617.12" r="3.5"/><circle cx="1318.72" cy="616.8" r="3.5"/><circle cx="1318.39" cy="621.19" r="3.5"/><circle cx="1316.29" cy="617.21" r="3.5"/><circle cx="1317.99" cy="619.27" r="3.5"/><circle cx="1316.34" cy="619.95" r="3.5"/><circle cx="1314.93" cy="617.85" r="3.5"/><circle cx="1317.89" cy="620.43" r="3.5"/><circle cx="1318.65" cy="618.93" r="3.5"/><circle cx="1318.59" cy="621.21" r="3.5"/><circle cx="1316.5" cy="621.22" r="3.5"/><circle cx="1314.95" cy="617.11" r="3.5"/><circle cx="1315.5" cy="630.63" r="3.5"/><circle cx="1320" cy="627.27" r="3.5"/><circle cx="1317.82" cy="630.24" r="3.5"/><circle cx="1318.55" cy="627.66" r="3.5"/><circle cx="1319.04" cy="626.77" r="3.5"/><circle cx="1318.02" cy="631.05" r="3.5"/><circle cx="1317.95" cy="628.07" r="3.5"/><circle cx="1319.98" cy="630.19" r="3.5"/><circle cx="1319.06" cy="631.04" r="3.5"/><circle cx="1319.7" cy="629.43" r="3.5"/><circle cx="1319.21" cy="629.07" r="3.5"/><circle cx="1316.64" cy="627.95" r="3.5"/><circle cx="1316.83" cy="637.67" r="3.5"/><circle cx="1321.33" cy="636.49" r="3.5"/><circle cx="1319.62" cy="638.36" r="3.5"/><circle cx="1320.92" cy="636.62" r="3.5"/><circle cx="1320.35" cy="637.33" r="3.5"/><circle cx="1318.28" cy="637.82" r="3.5"/><circle cx="1321.13" cy="639.59" r="3.5"/><circle cx="1318.93" cy="637.28" r="3.5"/><circle cx="1317.04" cy="638.2" r="3.5"/><circle cx="1321.21" cy="638.58" r="3.5"/><circle cx="1319.87" cy="640.76" r="3.5"/><circle cx="1317.04" cy="637.96" r="3.5"/><circle cx="1318.22" cy="648.25" r="3.5"/><circle cx="1322.72" cy="647.29" r="3.5"/><circle cx="1319.94" cy="649.57" r="3.5"/><circle cx="1318.83" cy="649.63" r="3.5"/><circle cx="1319.56" cy="649.45" r="3.5"/><circle cx="1319" cy="650.11" r="3.5"/><circle cx="1320.11" cy="650.32" r="3.5"/><circle cx="1322.57" cy="649.07" r="3.5"/><circle cx="1318.32" cy="647.99" r="3.5"/><circle cx="1322.61" cy="649.42" r="3.5"/><circle cx="1321.63" cy="648.54" r="3.5"/><circle cx="1322.45" cy="650.69" r="3.5"/><circle cx="1319.53" cy="659.02" r="3.5"/><circle cx="1324.03" cy="658.91" r="3.5"/><circle cx="1320" cy="656" r="3.5"/><circle cx="1320.46" cy="659.56" r="3.5"/><circle cx="1323.35" cy="659.81" r="3.5"/><circle cx="1323.53" cy="656.11" r="3.5"/><circle cx="1319.66" cy="657.24" r="3.5"/><circle cx="1319.62" cy="658.89" r="3.5"/><circle cx="1323.72" cy="660.45" r="3.5"/><circle cx="1320.01" cy="659.28" r="3.5"/><circle cx="1322.55" cy="659.25" r="3.5"/><circle cx="1321.39" cy="657.14" r="3.5"/><circle cx="1320.67" cy="670.19" r="3.5"/><circle cx="1325.17" cy="670.28" r="3.5"/><circle cx="1323.9" cy="668.48" r="3.5"/><circle cx="1320.82" cy="667.14" r="3.5"/><circle cx="1321.75" cy="666.97" r="3.5"/><circle cx="1321.64" cy="669.1" r="3.5"/><circle cx="1323.73" cy="666.64" r="3.5"/><circle cx="1324.73" cy="665.76" r="3.5"/><circle cx="1324.97" cy="668.68" r="3.5"/><circle cx="1323.58" cy="667.17" r="3.5"/><circle cx="1323.78" cy="670.14" r="3.5"/><circle cx="1321.6" cy="666.42" r="3.5"/><circle cx="1321.73" cy="679.5" r="3.5"/><circle cx="1326.23" cy="676.81" r="3.5"/><circle cx="1322.21" cy="678.02" r="3.5"/><circle cx="1322.57" cy="676.63" r="3.5"/><circle cx="1323.01" cy="675.98" r="3.5"/><circle cx="1325.42" cy="678.39" r="3.5"/><circle cx="1324.67" cy="677.02" r="3.5"/><circle cx="1325.22" cy="680.37" r="3.5"/><circle cx="1326.23" cy="675.77" r="3.5"/><circle cx="1323.13" cy="676.01" r="3.5"/><circle cx="1323.87" cy="678.85" r="3.5"/><circle cx="1324.47" cy="677.33" r="3.5"/><circle cx="1322.79" cy="690.18" r="3.5"/><circle cx="1327.29" cy="688.48" r="3.5"/><circle cx="1327.28" cy="687.49" r="3.5"/><circle cx="1325.69" cy="685.86" r="3.5"/><circle cx="1325.2" cy="688.59" r="3.5"/><circle cx="1323.84" cy="688.48" r="3.5"/><circle cx="1323.39" cy="687.67" r="3.5"/><circle cx="1325.52" cy="687.76" r="3.5"/><circle cx="1323.47" cy="686.31" r="3.5"/><circle cx="1324.48" cy="688.62" r="3.5"/><circle cx="1324.74" cy="686.36" r="3.5"/><circle cx="1324.31" cy="686.9" r="3.5"/><circle cx="1323.85" cy="695.85" r="3.5"/><circle cx="1328.35" cy="698.11" r="3.5"/><circle cx="1325.97" cy="696.79" r="3.5"/><circle cx="1323.85" cy="699.73" r="3.5"/><circle cx="1324.05" cy="695.74" r="3.5"/><circle cx="1325.17" cy="699.11" r="3.5"/><circle cx="1328.06" cy="698.96" r="3.5"/><circle cx="1324.78" cy="699.36" r="3.5"/><circle cx="1323.99" cy="695.72" r="3.5"/><circle cx="1324.35" cy="697.98" r="3.5"/><circle cx="1326.52" cy="698.29" r="3.5"/><circle cx="1328.11" cy="698.92" r="3.5"/><circle cx="1324.87" cy="708.68" r="3.5"/><circle cx="1329.37" cy="705.82" r="3.5"/><circle cx="1328.97" cy="709.55" r="3.5"/><circle cx="1328.6" cy="705.36" r="3.5"/><circle cx="1328.08" cy="707.56" r="3.5"/><circle cx="1327.29" cy="706.3" r="3.5"/><circle cx="1328.35" cy="708.99" r="3.5"/><circle cx="1328.34" cy="706.47" r="3.5"/><circle cx="1328.19" cy="705.39" r="3.5"/><circle cx="1327.93" cy="705.11" r="3.5"/><circle cx="1324.9" cy="705.48" r="3.5"/><circle cx="1327.81" cy="709.88" r="3.5"/><circle cx="1325.85" cy="717.1" r="3.5"/><circle cx="1330.35" cy="717.98" r="3.5"/><circle cx="1328.49" cy="718.97" r="3.5"/><circle cx="1330.22" cy="718.85" r="3.5"/><circle cx="1327.34" cy="715.12" r="3.5"/><circle cx="1329.87" cy="716.15" r="3.5"/><circle cx="1329.27" cy="719.09" r="3.5"/><circle cx="1326.61" cy="715.73" r="3.5"/><circle cx="1327.75" cy="718.98" r="3.5"/><circle cx="1329.69" cy="719.72" r="3.5"/><circle cx="1327.08" cy="717.87" r="3.5"/><circle cx="1329.78" cy="716.64" r="3.5"/><circle cx="1326.81" cy="727.49" r="3.5"/><circle cx="1331.31" cy="725.68" r="3.5"/><circle cx="1330.67" cy="726.77" r="3.5"/><circle cx="1329" cy="727.84" r="3.5"/><circle cx="1328.25" cy="728.62" r="3.5"/><circle cx="1328.88" cy="726.71" r="3.5"/><circle cx="1330.08" cy="727.89" r="3.5"/><circle cx="1330.01" cy="728.93" r="3.5"/><circle cx="1330.45" cy="726.6" r="3.5"/><circle cx="1329.71" cy="728.88" r="3.5"/><circle cx="1327.06" cy="727.86" r="3.5"/><circle cx="1329.19" cy="726.58" r="3.5"/><circle cx="1327.77" cy="734.96" r="3.5"/><circle cx="1332.27" cy="735.8" r="3.5"/><circle cx="1331.15" cy="738.78" r="3.5"/><circle cx="1332.21" cy="738.13" r="3.5"/><circle cx="1331.73" cy="738.49" r="3.5"/><circle cx="1328.51" cy="737.81" r="3.5"/><circle cx="1331.68" cy="738.12" r="3.5"/><circle cx="1329.02" cy="737.86" r="3.5"/><circle cx="1329.53" cy="736.52" r="3.5"/><circle cx="1331.06" cy="737.74" r="3.5"/><circle cx="1328.38" cy="737.56" r="3.5"/><circle cx="1328.04" cy="735.39" r="3.5"/><circle cx="1328.73" cy="748.28" r="3.5"/><circle cx="1333.23" cy="748.72" r="3.5"/><circle cx="1329.87" cy="747.98" r="3.5"/><circle cx="1329.55" cy="746.65" r="3.5"/><circle cx="1330.3" cy="744.58" r="3.5"/><circle cx="1330.68" cy="746.92" r="3.5"/><circle cx="1332.56" cy="744.67" r="3.5"/><circle cx="1330.02" cy="744.18" r="3.5"/><circle cx="1329.67" cy="745.49" r="3.5"/><circle cx="1332.42" cy="748.85" r="3.5"/><circle cx="1329.7" cy="746.57" r="3.5"/><circle cx="1331.09" cy="746.61" r="3.5"/><circle cx="1329.68" cy="758.76" r="3.5"/><circle cx="1334.18" cy="758.71" r="3.5"/><circle cx="1329.85" cy="756" r="3.5"/><circle cx="1332.06" cy="757.21" r="3.5"/><circle cx="1332.07" cy="758.06" r="3.5"/><circle cx="1330.12" cy="756.27" r="3.5"/><circle cx="1333.42" cy="754.81" r="3.5"/><circle cx="1330.46" cy="757.04" r="3.5"/><circle cx="1330.33" cy="756.69" r="3.5"/><circle cx="1330.24" cy="754.89" r="3.5"/><circle cx="1331.18" cy="757.88" r="3.5"/><circle cx="1332.43" cy="757" r="3.5"/><circle cx="1330.61" cy="766.9" r="3.5"/><circle cx="1335.11" cy="765.74" r="3.5"/><circle cx="1335.01" cy="766.74" r="3.5"/><circle cx="1333.44" cy="764.1" r="3.5"/><circle cx="1331.74" cy="766.69" r="3.5"/><circle cx="1334.92" cy="767.28" r="3.5"/><circle cx="1330.86" cy="767.8" r="3.5"/><circle cx="1331.57" cy="766.74" r="3.5"/><circle cx="1331.47" cy="764.07" r="3.5"/><circle cx="1334.09" cy="766.19" r="3.5"/><circle cx="1333.34" cy="767.28" r="3.5"/><circle cx="1333.29" cy="765.84" r="3.5"/><circle cx="1331.54" cy="775.17" r="3.5"/><circle cx="1336.04" cy="776.21" r="3.5"/><circle cx="1332.65" cy="774.87" r="3.5"/><circle cx="1335.19" cy="775.27" r="3.5"/><circle cx="1334.79" cy="776.96" r="3.5"/><circle cx="1333.64" cy="777.49" r="3.5"/><circle cx="1333.03" cy="773.58" r="3.5"/><circle cx="1335.36" cy="777.31" r="3.5"/><circle cx="1334.87" cy="778.16" r="3.5"/><circle cx="1333.38" cy="775.69" r="3.5"/><circle cx="1334.3" cy="777.92" r="3.5"/><circle cx="1332.81" cy="777.35" r="3.5"/><circle cx="1332.47" cy="788.15" r="3.5"/><circle cx="1336.97" cy="784.63" r="3.5"/><circle cx="1332.55" cy="784.17" r="3.5"/><circle cx="1335.38" cy="784.44" r="3.5"/><circle cx="1336.74" cy="783.82" r="3.5"/><circle cx="1336.5" cy="785.13" r="3.5"/><circle cx="1336.61" cy="785.05" r="3.5"/><circle cx="1332.97" cy="786.74" r="3.5"/><circle cx="1333.82" cy="788.06" r="3.5"/><circle cx="1336.17" cy="784.64" r="3.5"/><circle cx="1334.68" cy="786.11" r="3.5"/><circle cx="1335.95" cy="784.68" r="3.5"/><circle cx="1333.4" cy="795.99" r="3.5"/><circle cx="1337.9" cy="795.75" r="3.5"/><circle cx="1336.05" cy="795.94" r="3.5"/><circle cx="1335.35" cy="795.1" r="3.5"/><circle cx="1335.18" cy="798.13" r="3.5"/><circle cx="1335.75" cy="793.69" r="3.5"/><circle cx="1335.17" cy="796.99" r="3.5"/><circle cx="1336.47" cy="793.56" r="3.5"/><circle cx="1335.26" cy="795.42" r="3.5"/><circle cx="1337.2" cy="794.5" r="3.5"/><circle cx="1337.52" cy="797.23" r="3.5"/><circle cx="1333.49" cy="795.65" r="3.5"/><circle cx="1114.6" cy="27.13" r="3.5"/><circle cx="1092.12" cy="38.91" r="3.5"/><circle cx="1097.47" cy="42.66" r="3.5"/><circle cx="1104.97" cy="49.61" r="3.5"/><circle cx="1108.18" cy="52.29" r="3.5"/><circle cx="1113.53" cy="54.97" r="3.5"/><circle cx="1119.96" cy="58.72" r="3.5"/><circle cx="1126.38" cy="66.75" r="3.5"/><circle cx="1134.95" cy="44.8" r="3.5"/><circle cx="1138.69" cy="52.83" r="3.5"/><circle cx="1142.44" cy="61.39" r="3.5"/><circle cx="1167.6" cy="89.23" r="3.5"/><circle cx="1172.42" cy="95.65" r="3.5"/><circle cx="1176.7" cy="101.01" r="3.5"/><circle cx="1182.06" cy="104.75" r="3.5"/><circle cx="1184.2" cy="107.97" r="3.5"/><circle cx="1145.65" cy="92.44" r="3.5"/><circle cx="1152.08" cy="101.01" r="3.5"/><circle cx="1157.43" cy="107.43" r="3.5"/><circle cx="1160.69" cy="115.7" r="3.5"/><circle cx="1171.39" cy="123.19" r="3.5"/><circle cx="1176.75" cy="129.61" r="3.5"/><circle cx="1184.24" cy="137.11" r="3.5"/><circle cx="1192.38" cy="113.55" r="3.5"/><circle cx="1183.17" cy="106.06" r="3.5"/><circle cx="1172.46" cy="96.42" r="3.5"/></g>
<path d="M1120 19.5 L1120.5 23.42 L1121 27.34 L1121.5 31.26 L1122.3 35.18 L1123 39.1 L1124 43.02 L1126.5 48.9 L1134.3 58.7 L1141.3 68.5 L1149.8 78.3 L1157.5 88.1 L1163 97.9 L1170 107.7 L1178 117.5 L1193.5 137.1 L1207.5 156.7 L1218.5 176.3 L1226.7 195.9 L1235.9 215.5 L1255.5 264.5 L1270.9 313.5 L1287.2 411.5 L1298.4 509.5 L1310.2 607.5 L1321.2 705.5 L1329.8 803.5" fill="none" stroke="#ff0000" stroke-width="2.5" stroke-linejoin="round"/>
<path d="M1120.5 19.5 L1121 23.42 L1121.5 27.34 L1122 31.26 L1122.8 35.18 L1123.5 39.1 L1124.5 43.02 L1127 48.9 L1134.8 58.7 L1141.8 68.5 L1150.3 78.3 L1158 88.1 L1163.5 97.9 L1170.5 107.7 L1178.5 117.5 L1194 137.1 L1208 156.7 L1219 176.3 L1227.2 195.9 L1236.4 215.5 L1256 264.5 L1271.4 313.5 L1287.5 411.5 L1298.7 509.5 L1310.5 607.5 L1321.5 705.5 L1330.1 803.5" fill="none" stroke="#ff0000" stroke-width="2.5" stroke-linejoin="round"/>
<path d="M1121 19.5 L1121.5 23.42 L1122 27.34 L1122.5 31.26 L1123.3 35.18 L1124 39.1 L1125 43.02 L1127.5 48.9 L1135.3 58.7 L1142.3 68.5 L1150.8 78.3 L1158.5 88.1 L1164 97.9 L1171 107.7 L1179 117.5 L1194.5 137.1 L1208.5 156.7 L1219.5 176.3 L1227.7 195.9 L1236.9 215.5 L1256.5 264.5 L1271.9 313.5 L1287.8 411.5 L1299 509.5 L1310.8 607.5 L1321.8 705.5 L1330.4 803.5" fill="none" stroke="#ff0000" stroke-width="2.5" stroke-linejoin="round"/>
<path d="M1121.5 19.5 L1122 23.42 L1122.5 27.34 L1123 31.26 L1123.8 35.18 L1124.5 39.1 L1125.5 43.02 L1128 48.9 L1135.8 58.7 L1142.8 68.5 L1151.3 78.3 L1159 88.1 L1164.5 97.9 L1171.5 107.7 L1179.5 117.5 L1195 137.1 L1209 156.7 L1220 176.3 L1228.2 195.9 L1237.4 215.5 L1257 264.5 L1272.4 313.5 L1288.1 411.5 L1299.3 509.5 L1311.1 607.5 L1322.1 705.5 L1330.7 803.5" fill="none" stroke="#ff0000" stroke-width="2.5" stroke-linejoin="round"/>
<path d="M1122 19.5 L1122.5 23.42 L1123 27.34 L1123.5 31.26 L1124.3 35.18 L1125 39.1 L1126 43.02 L1128.5 48.9 L1136.3 58.7 L1143.3 68.5 L1151.8 78.3 L1159.5 88.1 L1165 97.9 L1172 107.7 L1180 117.5 L1195.5 137.1 L1209.5 156.7 L1220.5 176.3 L1228.7 195.9 L1237.9 215.5 L1257.5 264.5 L1272.9 313.5 L1288.4 411.5 L1299.6 509.5 L1311.4 607.5 L1322.4 705.5 L1331 803.5" fill="none" stroke="#ff0000" stroke-width="2.5" stroke-linejoin="round"/>
<path d="M1122.5 19.5 L1123 23.42 L1123.5 27.34 L1124 31.26 L1124.8 35.18 L1125.5 39.1 L1126.5 43.02 L1129 48.9 L1136.8 58.7 L1143.8 68.5 L1152.3 78.3 L1160 88.1 L1165.5 97.9 L1172.5 107.7 L1180.5 117.5 L1196 137.1 L1210 156.7 L1221 176.3 L1229.2 195.9 L1238.4 215.5 L1258 264.5 L1273.4 313.5 L1288.7 411.5 L1299.9 509.5 L1311.7 607.5 L1322.7 705.5 L1331.3 803.5" fill="none" stroke="#ff0000" stroke-width="2.5" stroke-linejoin="round"/>
<path d="M1123 19.5 L1123.5 23.42 L1124 27.34 L1124.5 31.26 L1125.3 35.18 L1126 39.1 L1127 43.02 L1129.5 48.9 L1137.3 58.7 L1144.3 68.5 L1152.8 78.3 L1160.5 88.1 L1166 97.9 L1173 107.7 L1181 117.5 L1196.5 137.1 L1210.5 156.7 L1221.5 176.3 L1229.7 195.9 L1238.9 215.5 L1258.5 264.5 L1273.9 313.5 L1289 411.5 L1300.2 509.5 L1312 607.5 L1323 705.5 L1331.6 803.5" fill="none" stroke="#ff0000" stroke-width="2.5" stroke-linejoin="round"/>
<path d="M1123.5 19.5 L1124 23.42 L1124.5 27.34 L1125 31.26 L1125.8 35.18 L1126.5 39.1 L1127.5 43.02 L1130 48.9 L1137.8 58.7 L1144.8 68.5 L1153.3 78.3 L1161 88.1 L1166.5 97.9 L1173.5 107.7 L1181.5 117.5 L1197 137.1 L1211 156.7 L1222 176.3 L1230.2 195.9 L1239.4 215.5 L1259 264.5 L1274.4 313.5 L1289.3 411.5 L1300.5 509.5 L1312.3 607.5 L1323.3 705.5 L1331.9 803.5" fill="none" stroke="#ff0000" stroke-width="2.5" stroke-linejoin="round"/>
<path d="M1124 19.5 L1124.5 23.42 L1125 27.34 L1125.5 31.26 L1126.3 35.18 L1127 39.1 L1128 43.02 L1130.5 48.9 L1138.3 58.7 L1145.3 68.5 L1153.8 78.3 L1161.5 88.1 L1167 97.9 L1174 107.7 L1182 117.5 L1197.5 137.1 L1211.5 156.7 L1222.5 176.3 L1230.7 195.9 L1239.9 215.5 L1259.5 264.5 L1274.9 313.5 L1289.6 411.5 L1300.8 509.5 L1312.6 607.5 L1323.6 705.5 L1332.2 803.5" fill="none" stroke="#ff0000" stroke-width="2.5" stroke-linejoin="round"/>
<path d="M1105.5 31.26 L1107 41.06 L1116.7 50.86 L1126.4 60.66 L1139 70.46 L1149 80.26 L1158 90.06 L1167 99.86 L1176 109.66 L1186.4 119.46 L1192.8 129.26 L1200.85 139.06 L1208.35 148.86 L1215.85 158.66 L1222.5 168.46 L1228.6 178.26 L1234.8 188.06 L1239.85 197.86 L1243.75 207.66 L1247.3 217.46 L1250.88 227.26 L1254.62 237.06 L1258.1 246.86 L1261.5 256.66 L1264.92 266.46 L1267.7 276.26 L1269.92 286.06 L1272.08 295.86 L1274.23 305.66 L1276.25 315.46 L1278.06 325.26 L1279.78 335.06 L1281.5 344.86 L1283.21 354.66 L1284.86 364.46 L1286.4 374.26 L1287.9 384.06 L1289.4 393.86 L1290.89 403.66 L1292.29 413.46 L1293.56 423.26 L1294.77 433.06 L1295.99 442.86 L1297.21 452.66 L1298.44 462.46 L1299.66 472.26 L1300.88 482.06 L1302.1 491.86 L1303.31 501.66 L1304.46 511.46 L1305.52 521.26 L1306.54 531.06 L1307.56 540.86 L1308.59 550.66 L1309.62 560.46 L1310.67 570.26 L1311.73 580.06 L1312.79 589.86 L1313.86 599.66 L1314.99 609.46 L1316.22 619.26 L1317.5 629.06 L1318.83 638.86 L1320.22 648.66 L1321.53 658.46 L1322.67 668.26 L1323.73 678.06 L1324.79 687.86 L1325.85 697.66 L1326.87 707.46 L1327.85 717.26 L1328.81 727.06 L1329.77 736.86 L1330.73 746.66 L1331.68 756.46 L1332.61 766.26 L1333.54 776.06 L1334.47 785.86 L1335.4 795.66" fill="none" stroke="#0000ff" stroke-width="2.5" stroke-linejoin="round"/>
<g fill="#0000ff"><circle cx="1105.5" cy="31.26" r="5.85"/><circle cx="1107" cy="41.06" r="5.85"/><circle cx="1116.7" cy="50.86" r="5.85"/><circle cx="1126.4" cy="60.66" r="5.85"/><circle cx="1139" cy="70.46" r="5.85"/><circle cx="1149" cy="80.26" r="5.85"/><circle cx="1158" cy="90.06" r="5.85"/><circle cx="1167" cy="99.86" r="5.85"/><circle cx="1176" cy="109.66" r="5.85"/><circle cx="1186.4" cy="119.46" r="5.85"/><circle cx="1192.8" cy="129.26" r="5.85"/><circle cx="1200.85" cy="139.06" r="5.85"/><circle cx="1208.35" cy="148.86" r="5.85"/><circle cx="1215.85" cy="158.66" r="5.85"/><circle cx="1222.5" cy="168.46" r="5.85"/><circle cx="1228.6" cy="178.26" r="5.85"/><circle cx="1234.8" cy="188.06" r="5.85"/><circle cx="1239.85" cy="197.86" r="5.85"/><circle cx="1243.75" cy="207.66" r="5.85"/><circle cx="1247.3" cy="217.46" r="5.85"/><circle cx="1250.88" cy="227.26" r="5.85"/><circle cx="1254.62" cy="237.06" r="5.85"/><circle cx="1258.1" cy="246.86" r="5.85"/><circle cx="1261.5" cy="256.66" r="5.85"/><circle cx="1264.92" cy="266.46" r="5.85"/><circle cx="1267.7" cy="276.26" r="5.85"/><circle cx="1269.92" cy="286.06" r="5.85"/><circle cx="1272.08" cy="295.86" r="5.85"/><circle cx="1274.23" cy="305.66" r="5.85"/><circle cx="1276.25" cy="315.46" r="5.85"/><circle cx="1278.06" cy="325.26" r="5.85"/><circle cx="1279.78" cy="335.06" r="5.85"/><circle cx="1281.5" cy="344.86" r="5.85"/><circle cx="1283.21" cy="354.66" r="5.85"/><circle cx="1284.86" cy="364.46" r="5.85"/><circle cx="1286.4" cy="374.26" r="5.85"/><circle cx="1287.9" cy="384.06" r="5.85"/><circle cx="1289.4" cy="393.86" r="5.85"/><circle cx="1290.89" cy="403.66" r="5.85"/><circle cx="1292.29" cy="413.46" r="5.85"/><circle cx="1293.56" cy="423.26" r="5.85"/><circle cx="1294.77" cy="433.06" r="5.85"/><circle cx="1295.99" cy="442.86" r="5.85"/><circle cx="1297.21" cy="452.66" r="5.85"/><circle cx="1298.44" cy="462.46" r="5.85"/><circle cx="1299.66" cy="472.26" r="5.85"/><circle cx="1300.88" cy="482.06" r="5.85"/><circle cx="1302.1" cy="491.86" r="5.85"/><circle cx="1303.31" cy="501.66" r="5.85"/><circle cx="1304.46" cy="511.46" r="5.85"/><circle cx="1305.52" cy="521.26" r="5.85"/><circle cx="1306.54" cy="531.06" r="5.85"/><circle cx="1307.56" cy="540.86" r="5.85"/><circle cx="1308.59" cy="550.66" r="5.85"/><circle cx="1309.62" cy="560.46" r="5.85"/><circle cx="1310.67" cy="570.26" r="5.85"/><circle cx="1311.73" cy="580.06" r="5.85"/><circle cx="1312.79" cy="589.86" r="5.85"/><circle cx="1313.86" cy="599.66" r="5.85"/><circle cx="1314.99" cy="609.46" r="5.85"/><circle cx="1316.22" cy="619.26" r="5.85"/><circle cx="1317.5" cy="629.06" r="5.85"/><circle cx="1318.83" cy="638.86" r="5.85"/><circle cx="1320.22" cy="648.66" r="5.85"/><circle cx="1321.53" cy="658.46" r="5.85"/><circle cx="1322.67" cy="668.26" r="5.85"/><circle cx="1323.73" cy="678.06" r="5.85"/><circle cx="1324.79" cy="687.86" r="5.85"/><circle cx="1325.85" cy="697.66" r="5.85"/><circle cx="1326.87" cy="707.46" r="5.85"/><circle cx="1327.85" cy="717.26" r="5.85"/><circle cx="1328.81" cy="727.06" r="5.85"/><circle cx="1329.77" cy="736.86" r="5.85"/><circle cx="1330.73" cy="746.66" r="5.85"/><circle cx="1331.68" cy="756.46" r="5.85"/><circle cx="1332.61" cy="766.26" r="5.85"/><circle cx="1333.54" cy="776.06" r="5.85"/><circle cx="1334.47" cy="785.86" r="5.85"/><circle cx="1335.4" cy="795.66" r="5.85"/></g>
<path d="M1122 19.5 L1122.5 23.42 L1123 27.34 L1123.5 31.26 L1124.3 35.18 L1125 39.1 L1126 43.02 L1128.5 48.9 L1136.3 58.7 L1143.3 68.5 L1151.8 78.3 L1159.5 88.1 L1165 97.9 L1172 107.7 L1180 117.5 L1196 137.1 L1210 156.7 L1221 176.3 L1229.2 195.9 L1238.4 215.5 L1258 264.5 L1273.4 313.5 L1288.4 411.5 L1299.6 509.5 L1311.4 607.5 L1322.4 705.5 L1331 803.5" fill="none" stroke="#ff0000" stroke-width="2.5" stroke-linejoin="round"/>
<g fill="#ff0000"><circle cx="1122" cy="19.5" r="5.85"/><circle cx="1122.5" cy="23.42" r="5.85"/><circle cx="1123" cy="27.34" r="5.85"/><circle cx="1123.5" cy="31.26" r="5.85"/><circle cx="1124.3" cy="35.18" r="5.85"/><circle cx="1125" cy="39.1" r="5.85"/><circle cx="1126" cy="43.02" r="5.85"/><circle cx="1128.5" cy="48.9" r="5.85"/><circle cx="1136.3" cy="58.7" r="5.85"/><circle cx="1143.3" cy="68.5" r="5.85"/><circle cx="1151.8" cy="78.3" r="5.85"/><circle cx="1159.5" cy="88.1" r="5.85"/><circle cx="1165" cy="97.9" r="5.85"/><circle cx="1172" cy="107.7" r="5.85"/><circle cx="1180" cy="117.5" r="5.85"/><circle cx="1196" cy="137.1" r="5.85"/><circle cx="1210" cy="156.7" r="5.85"/><circle cx="1221" cy="176.3" r="5.85"/><circle cx="1229.2" cy="195.9" r="5.85"/><circle cx="1238.4" cy="215.5" r="5.85"/><circle cx="1258" cy="264.5" r="5.85"/><circle cx="1273.4" cy="313.5" r="5.85"/><circle cx="1288.4" cy="411.5" r="5.85"/><circle cx="1299.6" cy="509.5" r="5.85"/><circle cx="1311.4" cy="607.5" r="5.85"/><circle cx="1322.4" cy="705.5" r="5.85"/><circle cx="1331" cy="803.5" r="5.85"/></g>
<path d="M1123.2 19.5 L1123.6 23.42 L1124 27.34 L1124.6 31.26 L1125.3 35.18 L1126 39.1 L1126.8 43.02 L1127.8 48.9 L1129 58.7 L1131.7 68.5 L1139.2 78.3 L1145.7 88.1 L1153.5 97.9 L1161.5 107.7 L1172.5 117.5 L1192.8 137.1 L1208.9 156.7 L1225.6 176.3 L1240.3 195.9 L1253.8 215.5 L1276.6 264.5 L1285.7 313.5 L1295.3 411.5 L1304.9 509.5 L1314.2 607.5 L1325.2 705.5 L1335.3 803.5" fill="none" stroke="#008000" stroke-width="2.5" stroke-linejoin="round"/>
<g fill="#008000"><circle cx="1123.2" cy="19.5" r="5.85"/><circle cx="1123.6" cy="23.42" r="5.85"/><circle cx="1124" cy="27.34" r="5.85"/><circle cx="1124.6" cy="31.26" r="5.85"/><circle cx="1125.3" cy="35.18" r="5.85"/><circle cx="1126" cy="39.1" r="5.85"/><circle cx="1126.8" cy="43.02" r="5.85"/><circle cx="1127.8" cy="48.9" r="5.85"/><circle cx="1129" cy="58.7" r="5.85"/><circle cx="1131.7" cy="68.5" r="5.85"/><circle cx="1139.2" cy="78.3" r="5.85"/><circle cx="1145.7" cy="88.1" r="5.85"/><circle cx="1153.5" cy="97.9" r="5.85"/><circle cx="1161.5" cy="107.7" r="5.85"/><circle cx="1172.5" cy="117.5" r="5.85"/><circle cx="1192.8" cy="137.1" r="5.85"/><circle cx="1208.9" cy="156.7" r="5.85"/><circle cx="1225.6" cy="176.3" r="5.85"/><circle cx="1240.3" cy="195.9" r="5.85"/><circle cx="1253.8" cy="215.5" r="5.85"/><circle cx="1276.6" cy="264.5" r="5.85"/><circle cx="1285.7" cy="313.5" r="5.85"/><circle cx="1295.3" cy="411.5" r="5.85"/><circle cx="1304.9" cy="509.5" r="5.85"/><circle cx="1314.2" cy="607.5" r="5.85"/><circle cx="1325.2" cy="705.5" r="5.85"/><circle cx="1335.3" cy="803.5" r="5.85"/></g>
<path d="M1087.5 20.47 L1087.5 22.52 L1087.5 24.69 L1087.5 26.99 L1087.7 29.45 L1090.7 32.12 L1099.3 35.04 L1106.8 38.26 L1113.2 41.85 L1119.7 45.9 L1125 50.49 L1130.4 55.75 L1134.6 61.83 L1138.9 68.91 L1144 77.21 L1151.2 86.99 L1159.2 98.57 L1169.2 112.35 L1182.2 128.8 L1195.7 148.48 L1212.2 172.09 L1228.3 200.46 L1243.3 234.57 L1257.3 275.61 L1269.9 324.97 L1282.1 384.31 L1293.1 455.55 L1306.1 540.94 L1318.4 643.03 L1330.1 764.72 L1341.7 909.22" fill="none" stroke="#ff00ff" stroke-width="2.5" stroke-linejoin="round"/>
<path d="M1088.1 20.47 L1088.1 22.52 L1088.1 24.69 L1088.1 26.99 L1088.3 29.45 L1091.3 32.12 L1099.9 35.04 L1107.4 38.26 L1113.8 41.85 L1120.3 45.9 L1125.6 50.49 L1131 55.75 L1135.2 61.83 L1139.5 68.91 L1144.6 77.21 L1151.8 86.99 L1159.8 98.57 L1169.8 112.35 L1182.8 128.8 L1196.3 148.48 L1212.8 172.09 L1228.9 200.46 L1243.9 234.57 L1257.9 275.61 L1270.5 324.97 L1282.7 384.31 L1293.7 455.55 L1306.7 540.94 L1319 643.03 L1330.7 764.72 L1342.3 909.22" fill="none" stroke="#ff00ff" stroke-width="2.5" stroke-linejoin="round"/>
<path d="M1087.8 20.47 L1087.8 22.52 L1087.8 24.69 L1087.8 26.99 L1088 29.45 L1091 32.12 L1099.6 35.04 L1107.1 38.26 L1113.5 41.85 L1120 45.9 L1125.3 50.49 L1130.7 55.75 L1134.9 61.83 L1139.2 68.91 L1144.3 77.21 L1151.5 86.99 L1159.5 98.57 L1169.5 112.35 L1182.5 128.8 L1196 148.48 L1212.5 172.09 L1228.6 200.46 L1243.6 234.57 L1257.6 275.61 L1270.2 324.97 L1282.4 384.31 L1293.4 455.55 L1306.4 540.94 L1318.7 643.03 L1330.4 764.72 L1342 909.22" fill="none" stroke="#ff00ff" stroke-width="2.5" stroke-linejoin="round"/>
<g fill="#ff00ff"><circle cx="1087.65" cy="20.47" r="5.85"/><circle cx="1087.65" cy="22.52" r="5.85"/><circle cx="1087.65" cy="24.69" r="5.85"/><circle cx="1087.65" cy="26.99" r="5.85"/><circle cx="1087.85" cy="29.45" r="5.85"/><circle cx="1090.85" cy="32.12" r="5.85"/><circle cx="1099.45" cy="35.04" r="5.85"/><circle cx="1106.95" cy="38.26" r="5.85"/><circle cx="1113.35" cy="41.85" r="5.85"/><circle cx="1119.85" cy="45.9" r="5.85"/><circle cx="1125.15" cy="50.49" r="5.85"/><circle cx="1130.55" cy="55.75" r="5.85"/><circle cx="1134.75" cy="61.83" r="5.85"/><circle cx="1139.05" cy="68.91" r="5.85"/><circle cx="1144.15" cy="77.21" r="5.85"/><circle cx="1151.35" cy="86.99" r="5.85"/><circle cx="1159.35" cy="98.57" r="5.85"/><circle cx="1169.35" cy="112.35" r="5.85"/><circle cx="1182.35" cy="128.8" r="5.85"/><circle cx="1195.85" cy="148.48" r="5.85"/><circle cx="1212.35" cy="172.09" r="5.85"/><circle cx="1228.45" cy="200.46" r="5.85"/><circle cx="1243.45" cy="234.57" r="5.85"/><circle cx="1257.45" cy="275.61" r="5.85"/><circle cx="1270.05" cy="324.97" r="5.85"/><circle cx="1282.25" cy="384.31" r="5.85"/><circle cx="1293.25" cy="455.55" r="5.85"/><circle cx="1306.25" cy="540.94" r="5.85"/><circle cx="1318.55" cy="643.03" r="5.85"/><circle cx="1330.25" cy="764.72" r="5.85"/><circle cx="1341.85" cy="909.22" r="5.85"/></g>
<g fill="#ff00ff"><circle cx="1087.95" cy="20.47" r="5.85"/><circle cx="1087.95" cy="22.52" r="5.85"/><circle cx="1087.95" cy="24.69" r="5.85"/><circle cx="1087.95" cy="26.99" r="5.85"/><circle cx="1088.15" cy="29.45" r="5.85"/><circle cx="1091.15" cy="32.12" r="5.85"/><circle cx="1099.75" cy="35.04" r="5.85"/><circle cx="1107.25" cy="38.26" r="5.85"/><circle cx="1113.65" cy="41.85" r="5.85"/><circle cx="1120.15" cy="45.9" r="5.85"/><circle cx="1125.45" cy="50.49" r="5.85"/><circle cx="1130.85" cy="55.75" r="5.85"/><circle cx="1135.05" cy="61.83" r="5.85"/><circle cx="1139.35" cy="68.91" r="5.85"/><circle cx="1144.45" cy="77.21" r="5.85"/><circle cx="1151.65" cy="86.99" r="5.85"/><circle cx="1159.65" cy="98.57" r="5.85"/><circle cx="1169.65" cy="112.35" r="5.85"/><circle cx="1182.65" cy="128.8" r="5.85"/><circle cx="1196.15" cy="148.48" r="5.85"/><circle cx="1212.65" cy="172.09" r="5.85"/><circle cx="1228.75" cy="200.46" r="5.85"/><circle cx="1243.75" cy="234.57" r="5.85"/><circle cx="1257.75" cy="275.61" r="5.85"/><circle cx="1270.35" cy="324.97" r="5.85"/><circle cx="1282.55" cy="384.31" r="5.85"/><circle cx="1293.55" cy="455.55" r="5.85"/><circle cx="1306.55" cy="540.94" r="5.85"/><circle cx="1318.85" cy="643.03" r="5.85"/><circle cx="1330.55" cy="764.72" r="5.85"/><circle cx="1342.15" cy="909.22" r="5.85"/></g>
</g>
<path d="M1118.5 803.5v6.2M1180.5 803.5v6.2M1242.5 803.5v6.2M1304.5 803.5v6.2M1367.5 803.5v6.2M1429.5 803.5v6.2M1072.5 19.5h-6.2M1072.5 68.5h-6.2M1072.5 117.5h-6.2M1072.5 166.5h-6.2M1072.5 215.5h-6.2M1072.5 264.5h-6.2M1072.5 313.5h-6.2M1072.5 362.5h-6.2M1072.5 411.5h-6.2M1072.5 460.5h-6.2M1072.5 509.5h-6.2M1072.5 558.5h-6.2M1072.5 607.5h-6.2M1072.5 656.5h-6.2M1072.5 705.5h-6.2M1072.5 754.5h-6.2" stroke="#000" stroke-width="1.33" fill="none"/>
<rect class="sp" x="1072.5" y="19.5" width="381" height="784" stroke-linejoin="miter"/>
<text transform="translate(74.8,27.2) scale(1,1.08)" font-size="16.67px" text-anchor="end">0</text>
<text transform="translate(74.8,76.2) scale(1,1.08)" font-size="16.67px" text-anchor="end">25</text>
<text transform="translate(74.8,125.2) scale(1,1.08)" font-size="16.67px" text-anchor="end">50</text>
<text transform="translate(74.8,174.2) scale(1,1.08)" font-size="16.67px" text-anchor="end">75</text>
<text transform="translate(74.8,223.2) scale(1,1.08)" font-size="16.67px" text-anchor="end">100</text>
<text transform="translate(74.8,272.2) scale(1,1.08)" font-size="16.67px" text-anchor="end">125</text>
<text transform="translate(74.8,321.2) scale(1,1.08)" font-size="16.67px" text-anchor="end">150</text>
<text transform="translate(74.8,370.2) scale(1,1.08)" font-size="16.67px" text-anchor="end">175</text>
<text transform="translate(74.8,419.2) scale(1,1.08)" font-size="16.67px" text-anchor="end">200</text>
<text transform="translate(74.8,468.2) scale(1,1.08)" font-size="16.67px" text-anchor="end">225</text>
<text transform="translate(74.8,517.2) scale(1,1.08)" font-size="16.67px" text-anchor="end">250</text>
<text transform="translate(74.8,566.2) scale(1,1.08)" font-size="16.67px" text-anchor="end">275</text>
<text transform="translate(74.8,615.2) scale(1,1.08)" font-size="16.67px" text-anchor="end">300</text>
<text transform="translate(74.8,664.2) scale(1,1.08)" font-size="16.67px" text-anchor="end">325</text>
<text transform="translate(74.8,713.2) scale(1,1.08)" font-size="16.67px" text-anchor="end">350</text>
<text transform="translate(74.8,762.2) scale(1,1.08)" font-size="16.67px" text-anchor="end">375</text>
<text transform="translate(97.9,830.2) scale(1,1.08)" font-size="16.67px" text-anchor="middle">5</text>
<text transform="translate(165.9,830.2) scale(1,1.08)" font-size="16.67px" text-anchor="middle">10</text>
<text transform="translate(234.9,830.2) scale(1,1.08)" font-size="16.67px" text-anchor="middle">15</text>
<text transform="translate(303.9,830.2) scale(1,1.08)" font-size="16.67px" text-anchor="middle">20</text>
<text transform="translate(371.9,830.2) scale(1,1.08)" font-size="16.67px" text-anchor="middle">25</text>
<text transform="translate(440.9,830.2) scale(1,1.08)" font-size="16.67px" text-anchor="middle">30</text>
<text transform="translate(592.9,830.2) scale(1,1.08)" font-size="16.67px" text-anchor="middle">34.0</text>
<text transform="translate(653.9,830.2) scale(1,1.08)" font-size="16.67px" text-anchor="middle">34.5</text>
<text transform="translate(714.9,830.2) scale(1,1.08)" font-size="16.67px" text-anchor="middle">35.0</text>
<text transform="translate(775.9,830.2) scale(1,1.08)" font-size="16.67px" text-anchor="middle">35.5</text>
<text transform="translate(835.9,830.2) scale(1,1.08)" font-size="16.67px" text-anchor="middle">36.0</text>
<text transform="translate(896.9,830.2) scale(1,1.08)" font-size="16.67px" text-anchor="middle">36.5</text>
<text transform="translate(957.9,830.2) scale(1,1.08)" font-size="16.67px" text-anchor="middle">37.0</text>
<text transform="translate(1117.6,838.8) rotate(-45)" font-size="16.67px" text-anchor="middle" dominant-baseline="central">1022</text>
<text transform="translate(1179.6,838.8) rotate(-45)" font-size="16.67px" text-anchor="middle" dominant-baseline="central">1024</text>
<text transform="translate(1241.6,838.8) rotate(-45)" font-size="16.67px" text-anchor="middle" dominant-baseline="central">1026</text>
<text transform="translate(1303.6,838.8) rotate(-45)" font-size="16.67px" text-anchor="middle" dominant-baseline="central">1028</text>
<text transform="translate(1366.6,838.8) rotate(-45)" font-size="16.67px" text-anchor="middle" dominant-baseline="central">1030</text>
<text transform="translate(1428.6,838.8) rotate(-45)" font-size="16.67px" text-anchor="middle" dominant-baseline="central">1032</text>
<text transform="translate(29.5,412.5) rotate(-90)" font-size="22.5px" font-weight="bold" text-anchor="middle">Depth (m)</text>
<text transform="translate(279,859.6)" font-size="23.0px" font-weight="bold" text-anchor="middle">Temperature (<tspan font-weight="normal" font-style="italic" font-size="16.1px" dy="-8.5">o</tspan><tspan font-weight="normal" font-style="italic" dy="8.5">C</tspan>)</text>
<text transform="translate(771.2,858.5)" font-size="22.5px" font-weight="bold" text-anchor="middle">Salinity</text>
<text transform="translate(1262.4,884.5)" font-size="22.5px" font-weight="bold" text-anchor="middle">Density (kg m-3)</text>
<text transform="translate(343,917.6)" font-size="17.33px" font-style="italic" xml:space="preserve">Ocean Heat Content (kJ/cm^2) - Glider: 71.8426,  RTOFS: 73.7200,  ESPC: 80.1977,  CMEMS: 80.1307,  </text>
<text transform="translate(1525.6,36.6)" font-size="22.55px" font-weight="bold">Comparison Date: 2025-08-31</text>
<text transform="translate(1525.6,89.66)" font-size="22.55px" font-weight="bold">Glider: unit_1148</text>
<text transform="translate(1525.6,116.19)" font-size="22.55px" font-weight="bold">Profiles: 12</text>
<text transform="translate(1525.6,142.72)" font-size="22.55px" font-weight="bold">First: 2025-08-31 00:37:21</text>
<text transform="translate(1525.6,169.25)" font-size="22.55px" font-weight="bold">Last: 2025-08-31 17:41:08</text>
<text transform="translate(1525.6,195.78)" font-size="22.55px" font-weight="bold">Method: Nearest-Neighbor</text>
<g clip-path="url(#cm)">
<rect x="1564.0" y="259.8" width="381.6" height="301.6" fill="#97b6e1"/>
<path d="M1917.8 259.6 L1911.4 265 L1907.1 268.7 L1901.7 271.4 L1898.5 275.2 L1894.8 279.4 L1891.6 283.2 L1888.9 287.5 L1886.7 292.8 L1884.6 298.2 L1883.5 303.5 L1882.5 308.4 L1883.5 314.2 L1885.1 320.7 L1886.2 327.1 L1888.9 333.5 L1892.1 339.9 L1895.3 346.4 L1896.9 350 L1893.2 345 L1895.3 352.5 L1897.4 358.9 L1899.6 365.3 L1902.3 371.8 L1904.9 378.2 L1907.1 383.5 L1908.1 390 L1908.1 398.5 L1907.1 407.1 L1906 413.5 L1903.9 418.9 L1899.6 423.2 L1894.2 424.8 L1889.9 422.1 L1887.8 418.9 L1887.8 414.6 L1884.6 411.4 L1880.3 409.2 L1877.1 406 L1875.5 401.7 L1873.4 397.5 L1869.6 395.3 L1867.5 391 L1865.3 385.7 L1863.2 381.4 L1860 377.1 L1857.8 372.8 L1856.2 367.5 L1856.8 361.1 L1858.9 356.8 L1860 351.4 L1859.4 345 L1861 350 L1860 344.2 L1857.8 341 L1853.5 339.9 L1851.4 336.7 L1848.2 332.4 L1845 329.2 L1841.8 324.9 L1838.6 322.3 L1835.3 320.7 L1831.1 321.2 L1827.8 323.9 L1823.6 327.1 L1819.3 330.3 L1815 331.4 L1815 330.3 L1812.4 329.2 L1811.3 323.9 L1808.1 319.6 L1803.8 317.5 L1799.6 315.3 L1795.3 313.2 L1789.9 313.7 L1785.6 315.3 L1781.4 312.6 L1776 313.7 L1771.7 314.8 L1767.4 316.4 L1763.2 316.9 L1759.9 316.4 L1756.2 315.3 L1753.5 315.8 L1747.1 314.8 L1741.7 315.3 L1737.5 317.5 L1734.3 321.2 L1731 322.8 L1732.1 324.9 L1735.3 327.1 L1734.3 330.3 L1736.4 333.5 L1739.6 335.7 L1741.7 337.3 L1745.5 338.9 L1745 341.5 L1740.7 344.2 L1737.5 345.3 L1738.5 341 L1735.3 337.8 L1732.1 335.7 L1727.8 333.5 L1723.5 332.4 L1725.7 334.6 L1730 336.7 L1727.8 338.9 L1724.6 341 L1720.3 342.1 L1715 343.1 L1709.6 342.1 L1705.3 338.9 L1704.3 335.7 L1701.1 332.4 L1696.8 329.2 L1692.5 327.1 L1688.2 329.8 L1685 332.4 L1679.2 331.9 L1674.9 329.8 L1670.6 327.6 L1666.3 327.3 L1661 328.2 L1656.7 329.2 L1652.4 329.8 L1648.1 331.4 L1643.9 333 L1640.7 335.1 L1637.4 337.8 L1634.2 340.5 L1632.1 343.1 L1629.9 346.4 L1624.6 348.5 L1619.2 350 L1632.1 345 L1628.9 347.1 L1623.5 349.8 L1618.2 352.5 L1612.8 355.7 L1607.5 359.5 L1602.1 364.3 L1597.8 369.6 L1595.1 376 L1594.1 382.5 L1594.6 387.8 L1596.2 394.3 L1597.8 400.7 L1598.4 406 L1597.3 411.4 L1594.6 416.7 L1591.9 422.1 L1589.8 428.5 L1588.7 434.9 L1588.2 441.4 L1587.7 445 L1586.3 440 L1585.9 448.4 L1585.9 458.1 L1584.9 467.8 L1584.2 473.4 L1585.6 479.7 L1587 485.9 L1589.1 490.8 L1591.9 495.7 L1593.3 501.2 L1596.1 508.2 L1599.5 513.8 L1603.7 518.6 L1607.9 523.5 L1611.4 529.1 L1612.1 534.6 L1616.2 538.8 L1619 543.7 L1621.8 547.9 L1630.2 547.9 L1635.7 550 L1639.9 551.3 L1643.4 556.2 L1646.2 559.4 L1652.4 557.6 L1659.4 554.8 L1665 553.4 L1670.5 554.1 L1676.1 551.3 L1680.3 549.3 L1687.2 547.9 L1694.2 547.2 L1700 545.8 L1690 547.9 L1695.6 546.5 L1701.1 543.7 L1708.1 539.5 L1713 536 L1715.1 527.7 L1717.8 523.5 L1718.5 515.2 L1719.9 506.8 L1723.4 501.9 L1730.4 498.5 L1738.7 497.1 L1748.5 495.7 L1752.6 493.6 L1761 492.2 L1767.9 492.9 L1774.9 493.6 L1780.5 492.2 L1785.3 494.3 L1786.7 499.8 L1784.6 505.4 L1780.5 511 L1776.3 516.5 L1773.5 522.1 L1772.8 529.1 L1772.1 537.4 L1770 544.4 L1767.9 552.7 L1765.9 560.8 L1765.9 570.8 L1540 580 L1540 240 L1918 240Z" fill="#d2b48c" stroke="#000" stroke-width="1.25" stroke-linejoin="round"/>
<path d="M1818.5 486.6 L1823.4 485.2 L1827.5 483.1 L1828.2 477.6 L1831.7 473.4 L1837.3 469.9 L1844.2 466.4 L1852.6 464.4 L1860.9 463 L1867.9 460.9 L1874.8 461.2 L1881.8 463 L1887.4 463.9 L1892.9 464.8 L1901.3 466.4 L1909.6 469.2 L1915.2 472.7 L1920.8 476.5 L1926.3 477.9 L1933.3 479 L1940.3 481.1 L1945.4 483.4 L1955.6 484.5 L1955.6 508.2 L1945.4 507.5 L1940.3 504 L1937.5 499.8 L1934.7 494.3 L1930.5 491.5 L1923.6 492.9 L1916.6 491.5 L1909.6 488.7 L1904.1 485.9 L1899.9 482.4 L1892.9 481.8 L1887.4 481.1 L1880.4 481.8 L1873.5 480.4 L1870.7 476.9 L1876.2 476.9 L1879 474.1 L1876.2 472 L1867.9 471.3 L1860.9 470.6 L1856.8 472 L1851.2 476.2 L1845.6 480.4 L1838.7 481.1 L1835.9 484.5 L1827.5 488 L1818.5 487.3Z" fill="#d2b48c" stroke="#000" stroke-width="1.25" stroke-linejoin="round"/>
<path d="M1853.3 488 L1856.8 486.6 L1860.2 488 L1861.6 491.5 L1859.5 494.3 L1855.4 495 L1851.9 493.6 L1851.5 490.1Z" fill="#d2b48c" stroke="#000" stroke-width="1.25" stroke-linejoin="round"/>
<path d="M1954.2 551.3 L1945.4 552 L1941 553 L1938.6 555.2 L1940.3 557.6 L1945.4 558.6 L1954.2 559.7Z" fill="#d2b48c" stroke="#000" stroke-width="1.25" stroke-linejoin="round"/>
<path d="M1781.2 515.9 L1782.6 512.4 L1786 511.7 L1786.5 513.8 L1784.6 517.2 L1782.1 517.9Z" fill="#d2b48c" stroke="#000" stroke-width="1.25" stroke-linejoin="round"/>
<path d="M1935.4 431.7 L1938.1 427.4 L1941.3 419.9 L1945.4 419.9 L1954.2 419.9 L1954.2 441.4 L1945.4 441.4 L1942.4 439.2 L1939.2 436Z" fill="#d2b48c" stroke="#000" stroke-width="1.25" stroke-linejoin="round"/>
<path d="M1690 547.4 L1695.6 547.4 L1702.5 545.8 L1704.2 548.6 L1700 552 L1694.2 552 L1690 550.2Z" fill="#97b6e1" stroke="#000" stroke-width="1.25" stroke-linejoin="round"/>
<path d="M1700 552.5 L1694.2 552 L1689.7 550.6 L1690.7 549.3 L1695.6 547.9 L1700 546.9Z" fill="#97b6e1" stroke="#000" stroke-width="1.25" stroke-linejoin="round"/>
<path d="M1719.3 319.6 L1722.5 315.3 L1727.8 316.9 L1731.6 319.6 L1727.8 321.7 L1722.5 322.3Z" fill="#97b6e1" stroke="#000" stroke-width="1.25" stroke-linejoin="round"/>
<path d="M1762.3 309.4 L1764.8 309.4 L1765.1 315.3 L1763.7 316.6 L1762.3 315.5Z" fill="#97b6e1" stroke="#000" stroke-width="1.25" stroke-linejoin="round"/>
<path d="M1637.4 334.6 L1634.8 332.4 L1635.8 329.8 L1639.6 328.7 L1641.7 327.3 L1642.8 329.2 L1641.2 332.4 L1639.6 334.6Z" fill="#97b6e1" stroke="#000" stroke-width="1.25" stroke-linejoin="round"/>
<path d="M1753.3 554.8 L1758.2 552 L1761.7 545.8 L1763.3 551.3 L1764.9 556.9 L1762.7 562.5 L1759.6 562.5 L1760.3 555.5 L1756.8 555.5Z" fill="#97b6e1" stroke="#000" stroke-width="1.25" stroke-linejoin="round"/>
<path d="M1889.4 386.2 L1894.2 381.4 L1897.7 386.2 L1894.2 391.3Z" fill="#b4b4b4"/>
<path d="M1573.7 259.1 L1574.3 262.8 L1578 263.9 L1579.1 266.1 L1583.4 268.2 L1586 271.4 L1588.2 273 L1587.7 275.7 L1591.4 278.4 L1592.5 281 L1595.1 285.3 L1596.2 288 L1600 292.3 L1601 295 L1603.2 300.3 L1605.9 305.7 L1608.5 310 L1611.7 312.6 L1613.4 315.3 L1616 316.4 L1616.6 318 L1615.3 321.2 L1616.6 324.9 L1617.1 329.8 L1620.3 331.4 L1623.5 332.4 L1625.7 334.6 L1625.7 341 L1627.8 343.7 L1629.9 345.3" fill="none" stroke="#97b6e1" stroke-width="1.9" stroke-linejoin="round"/>
<path d="M1697.8 303 L1699.5 306.7 L1702.7 308.4 L1704.8 312.1 L1705.3 315.8 L1708 319.6 L1712.3 322.8 L1718.2 323.1 L1723.5 323.9 L1727.8 325.5 L1727.3 328.7 L1730 332.4 L1733.2 335.1 L1736.4 337.3 L1739.6 339.9 L1740.7 342.1" fill="none" stroke="#97b6e1" stroke-width="1.9" stroke-linejoin="round"/>
<path d="M1790.5 259.1 L1792.1 263.9 L1795.3 269.3 L1792.1 272.5 L1785.6 273 L1781.4 272.7 L1779.2 275.7 L1776 278.9 L1773.3 281 L1772.8 285.3 L1771.7 289.6 L1769.6 292.8 L1766.9 296 L1764.8 300.3 L1763.7 305.7 L1763.2 310 L1763.2 315.3" fill="none" stroke="#97b6e1" stroke-width="1.9" stroke-linejoin="round"/>
<path d="M1819.8 308.9 L1817.7 314.2 L1816.1 319.6 L1817.7 323.9 L1817.1 327.1" fill="none" stroke="#97b6e1" stroke-width="1.9" stroke-linejoin="round"/>
<path d="M1562.7 487.6 L1568.9 485.2 L1574.5 484.3 L1580.1 481.8 L1585.6 479.7" fill="none" stroke="#97b6e1" stroke-width="1.9" stroke-linejoin="round"/>
<path d="M1678.2 550 L1678.9 554.8 L1684.4 556.2 L1688.6 561.1" fill="none" stroke="#97b6e1" stroke-width="1.9" stroke-linejoin="round"/>
<path d="M1681.7 549.3 L1684.4 552.7 L1687.2 556.9 L1688.9 561.1" fill="none" stroke="#97b6e1" stroke-width="1.9" stroke-linejoin="round"/>
<path d="M1718.2 317.5 L1718.7 319.6" fill="none" stroke="#97b6e1" stroke-width="1.9" stroke-linejoin="round"/>
<path d="M1563 396.8 L1568.9 399.6 L1576.4 402.8 L1583.9 404.4 L1589.3 406 L1592.5 408.2 L1596.2 406" fill="none" stroke="#97b6e1" stroke-width="1.9"/>
<path d="M1563 396.8 L1568.9 399.6 L1576.4 402.8 L1583.9 404.4 L1589.3 406 L1592.5 408.2 L1596.2 406" fill="none" stroke="#000" stroke-width="1.4" stroke-dasharray="4.5 2.5"/>
<path d="M1589.3 416.2 L1587.7 422.1 L1587.1 428.5 L1585.5 436 L1586 445 L1584.2 440 L1585.3 448.4" fill="none" stroke="#2c3a50" stroke-width="2.3" stroke-linejoin="round" stroke-linecap="round"/>
<path d="M1654 259.1 L1654 281 L1657.8 285.3 L1658.9 290.7 L1661 295 L1662.6 298.2 L1663.1 301.9 L1662.1 305.7 L1660.5 310 L1659.4 313.2 L1659.4 316.4 L1659.9 320.7 L1658.9 323.9 L1656.7 327.1 L1656.2 329.8" fill="none" stroke="#000" stroke-width="1.3" stroke-linejoin="round"/>
<path d="M1706.9 259.1 L1706.4 263.9 L1707.5 268.2 L1708 271.4 L1710.5 275.2 L1708 278.4 L1704.8 282.1 L1702.1 285.3 L1700.5 288.5 L1699.5 292.8 L1697.8 296.6 L1697.6 300.3 L1698.4 302.5 L1731.6 302.5 L1731 305.7 L1730 308.4 L1730.8 311.6 L1733.2 314.2 L1733.7 318.5 L1734.3 320.7" fill="none" stroke="#000" stroke-width="1.3" stroke-linejoin="round"/>
<path d="M1756.9 259.1 L1756.2 271.4 L1754.8 283.2 L1755.7 298.2 L1756.2 314.2" fill="none" stroke="#000" stroke-width="1.3" stroke-linejoin="round"/>
<path d="M1774.4 314.2 L1774.4 312.1 L1773.9 308.4 L1771.2 305.1 L1770.7 302.5 L1815 302.5 L1815 302.5 L1817.1 302.5" fill="none" stroke="#000" stroke-width="1.3" stroke-linejoin="round"/>
<path d="M1815 259.1 L1816.6 263.9 L1818.2 270.3 L1819.3 275.2 L1817.1 278.9 L1816.1 285.3 L1816.6 292.8 L1817.1 298.2 L1818.7 303.5 L1820.4 308.4 L1868 311.6 L1868.5 314.8 L1870.7 315.3 L1871.7 313.2 L1871.5 308.4 L1873.4 306.2 L1877.1 306.7 L1881.9 308.4" fill="none" stroke="#000" stroke-width="1.3" stroke-linejoin="round"/>
<path d="M1880.8 259.1 L1882.5 265 L1885.7 270.3 L1888.3 275.7 L1889.9 278.9 L1893.2 280.5" fill="none" stroke="#000" stroke-width="1.3" stroke-linejoin="round"/>
<path d="M1915.4 262.2 L1914.5 263.5 L1912.5 263.1 L1912.3 265.4 L1910.3 265.1 L1909.4 266.4 L1908.6 268 L1906.5 267.6 L1905.9 269.7 L1904 269.4 L1903.1 271.3 L1901.7 272.1 L1899.8 272.1 L1897.8 272.6 L1898.3 275.2 L1896.4 275.7" fill="none" stroke="#000" stroke-width="1.5" stroke-linejoin="round" stroke-linecap="round"/>
<path d="M1915.1 261.8 L1909.2 266.1 L1903.9 269.3 L1899.6 271.9 L1896.4 275.7" fill="none" stroke="#000" stroke-width="1.6" stroke-linejoin="round" stroke-linecap="round"/>
<path d="M1894.1 281.3 L1891.6 281.4 L1889.5 281.7 L1889.6 284.1 L1889.7 285.8 L1886.6 286 L1889.8 289.2 L1885.8 288.9 L1887.4 291.5 L1887.3 293.2 L1886.7 294.6 L1885.4 295.5 L1882.7 295.7 L1884.9 298.1 L1882.6 298.6 L1882 300.2 L1882.8 302.1 L1881.9 303.5" fill="none" stroke="#000" stroke-width="1.5" stroke-linejoin="round" stroke-linecap="round"/>
<path d="M1893.2 280.5 L1889.9 284.3 L1887.3 289.6 L1885.1 293.9 L1883 298.7 L1881.9 303.5" fill="none" stroke="#000" stroke-width="2.6" stroke-linejoin="round" stroke-linecap="round"/>
<path d="M1894.6 351.5 L1896.6 352.2 L1897.1 353.4 L1897 354.8 L1896 356.6 L1897.2 357.6 L1898 358.7 L1897.6 360.3 L1898.5 361.4 L1899.4 362.4 L1898.3 364.3 L1899 365.4 L1900.9 366.1 L1900.4 367.8 L1901.1 369.1 L1900.5 370.9 L1901.5 372.1 L1903.5 372.8 L1901.8 375 L1905.1 375.4 L1904.7 377.1 L1904.1 378.9 L1906.6 379.6 L1906 381.4 L1907.8 382.4 L1906 384.1 L1906 385.4 L1906.9 386.6 L1907.4 387.8" fill="none" stroke="#000" stroke-width="1.5" stroke-linejoin="round" stroke-linecap="round"/>
<path d="M1894.8 351.4 L1897.4 358.9 L1900.1 366.4 L1903.3 374.4 L1906 381.4 L1907.4 387.8" fill="none" stroke="#000" stroke-width="1.9" stroke-linejoin="round" stroke-linecap="round"/>
<path d="M1906.6 390 L1908.1 391.3 L1907.1 392.6 L1907.4 394 L1907.4 395.3 L1907.7 396.7 L1906.7 398 L1906.5 399.3 L1907.7 400.7 L1907 402 L1908.4 403.5 L1906.6 404.6 L1906.5 406 L1905.5 407.2 L1905.7 408.6 L1906.9 410.1 L1906.5 411.5 L1905.3 412.5 L1906.4 414.4 L1904.9 415.3 L1905.1 416.8 L1903.9 417.8" fill="none" stroke="#000" stroke-width="1.5" stroke-linejoin="round" stroke-linecap="round"/>
<path d="M1907.6 390 L1907.6 400.7 L1906.2 411.4 L1903.9 417.8" fill="none" stroke="#000" stroke-width="1.4" stroke-linejoin="round" stroke-linecap="round"/>
<path d="M1890.6 420 L1891.9 420.3 L1891.9 423.7 L1894.2 421.7 L1894.5 422.6 L1896.3 422.9 L1898.3 424.6 L1898.3 421.3 L1900.4 421.5 L1901.6 420.9 L1903.6 421 L1903.3 418.9" fill="none" stroke="#000" stroke-width="1.5" stroke-linejoin="round" stroke-linecap="round"/>
<path d="M1889.9 421.6 L1894.8 423.7 L1899.6 422.6 L1903.3 418.9" fill="none" stroke="#000" stroke-width="2.5" stroke-linejoin="round" stroke-linecap="round"/>
<path d="M1903.1 419.4 L1902.1 420.6 L1902.7 422.9 L1901.5 423.9 L1900.8 425.3 L1899.1 425.4 L1897.7 425.9 L1897.4 428.6 L1896 429.2 L1894.4 429.8 L1893.1 430.1 L1891.7 429.7 L1890.3 429.8 L1889.3 431 L1887.8 430.7" fill="none" stroke="#000" stroke-width="1.5" stroke-linejoin="round" stroke-linecap="round"/>
<path d="M1903.9 419.9 L1899.6 426.4 L1894.2 429 L1887.8 430.7" fill="none" stroke="#000" stroke-width="1.6" stroke-linejoin="round" stroke-linecap="round"/>
<path d="M1887 432.9 L1885.4 431.2 L1884.1 431.5 L1882.7 430.8 L1880.7 429.2 L1879.8 430.8 L1878.7 432 L1877.2 432 L1875.9 432.2 L1874.8 435.2 L1872.9 431.5 L1871.5 432.2 L1870.1 433.7" fill="none" stroke="#000" stroke-width="1.5" stroke-linejoin="round" stroke-linecap="round"/>
<path d="M1886.7 430.7 L1881.4 431.2 L1876 433 L1870.1 433.7" fill="none" stroke="#000" stroke-width="2.6" stroke-linejoin="round" stroke-linecap="round"/>
<path d="M1857.8 347.1 L1857.9 348.5 L1859.1 349.9 L1859 351.3 L1859.8 352.7 L1858.1 354 L1859.7 355.5 L1859.6 357 L1859 358.3 L1858.8 359.7 L1858 360.9 L1857.3 362.1" fill="none" stroke="#000" stroke-width="1.5" stroke-linejoin="round" stroke-linecap="round"/>
<path d="M1858.9 347.1 L1858.4 356.8 L1857.3 362.1" fill="none" stroke="#000" stroke-width="1.6" stroke-linejoin="round" stroke-linecap="round"/>
<path d="M1859.5 361.7 L1861.3 362.5 L1863.4 365.8 L1864.1 367.2 L1862.7 369 L1864.8 372.5 L1858.9 370.9 L1860 373.9" fill="none" stroke="#000" stroke-width="1.5" stroke-linejoin="round" stroke-linecap="round"/>
<path d="M1857.8 364.3 L1861 366.4 L1862.1 370.7 L1860 373.9" fill="none" stroke="#000" stroke-width="4" stroke-linejoin="round" stroke-linecap="round"/>
<path d="M1858.1 374.1 L1860 374.5 L1860.4 375.8 L1860.9 377.1 L1861.6 378.3 L1862.9 379.1 L1861.8 381.4 L1862.1 382.8 L1864.2 383.2 L1864.9 384.4 L1866.7 384.9 L1866.4 386.8" fill="none" stroke="#000" stroke-width="1.5" stroke-linejoin="round" stroke-linecap="round"/>
<path d="M1858.4 373.9 L1862.6 380.9 L1866.4 386.8" fill="none" stroke="#000" stroke-width="1.6" stroke-linejoin="round" stroke-linecap="round"/>
<path d="M1870.8 385.6 L1870.1 387.7 L1871.3 388.9 L1868.6 391.3 L1873 392.2 L1874.1 393.5 L1871.2 395.3" fill="none" stroke="#000" stroke-width="1.5" stroke-linejoin="round" stroke-linecap="round"/>
<path d="M1868.5 386.8 L1870.7 391 L1871.2 395.3" fill="none" stroke="#000" stroke-width="3.7" stroke-linejoin="round" stroke-linecap="round"/>
<path d="M1872.1 389.7 L1874.3 390.6 L1875.5 392.1" fill="none" stroke="#000" stroke-width="1.5" stroke-linejoin="round" stroke-linecap="round"/>
<path d="M1873.4 388.9 L1875.5 392.1" fill="none" stroke="#000" stroke-width="1.9" stroke-linejoin="round" stroke-linecap="round"/>
<path d="M1876.1 400 L1875.5 402 L1877.9 402.3 L1877 404.5 L1876.3 406.5 L1877.4 407.6 L1878.9 408.8 L1881 408.2 L1882.1 409.3 L1883.7 409.4 L1883.9 412 L1885.6 412 L1885.5 413.6 L1887.5 414 L1888.5 415 L1888.3 416.7" fill="none" stroke="#000" stroke-width="1.5" stroke-linejoin="round" stroke-linecap="round"/>
<path d="M1875 400.7 L1879.2 408.2 L1885.7 411.9 L1888.3 416.7" fill="none" stroke="#000" stroke-width="2" stroke-linejoin="round" stroke-linecap="round"/>
<path d="M1856.8 341.5 L1856.9 343.1 L1858 344.3 L1858.8 345.5 L1859.4 346.5 L1859.9 348.3 L1861 350" fill="none" stroke="#000" stroke-width="1.5" stroke-linejoin="round" stroke-linecap="round"/>
<path d="M1857.8 341 L1860.5 346.4 L1861 350" fill="none" stroke="#000" stroke-width="2" stroke-linejoin="round" stroke-linecap="round"/>
<path d="M1816.7 330.2 L1818.5 330.1 L1819.6 328.9 L1820.5 327.3 L1821.8 326.5 L1823.5 326.3 L1824.7 325.5 L1826.6 325.8 L1828.3 325.7 L1828.8 323.8 L1831 324 L1832.5 323.3 L1833.1 322.5 L1834.8 321 L1836.9 320.9 L1838 321.8 L1839.1 322.5 L1840.1 323.4 L1840.5 325.1 L1841.1 326.6 L1842.1 327.1 L1843.7 327.6 L1844.2 329 L1844.8 330.3 L1847.2 330.1 L1846.8 332.2 L1847.1 333.8 L1848.3 334.7 L1849.2 335.8 L1850.7 336.5 L1852.3 337.2 L1852.2 339.6 L1854 339 L1854.8 340.7 L1856 341.7 L1857.8 341" fill="none" stroke="#000" stroke-width="1.5" stroke-linejoin="round" stroke-linecap="round"/>
<path d="M1817.1 330.8 L1822.5 327.6 L1828.9 323.9 L1833.2 321.2 L1836.4 321.5 L1842.8 326.6 L1847.1 331.9 L1852.5 338.9 L1857.8 341" fill="none" stroke="#000" stroke-width="1.5" stroke-linejoin="round" stroke-linecap="round"/>
<path d="M1813.1 329.4 L1812.6 328 L1814.1 325.9 L1812.7 324.9 L1810.3 324.7 L1809.3 323.7 L1808.6 322.6 L1810.2 319.7 L1808.8 318.6 L1805.9 319.9 L1806 316.7 L1804.6 315.1 L1802.7 315.8 L1800.9 316.4 L1799.9 315.1 L1798 316.2 L1796.4 316.1 L1796.3 311.9 L1794.2 312.6 L1792.8 313.1 L1791.3 311.6 L1789.9 313.4" fill="none" stroke="#000" stroke-width="1.5" stroke-linejoin="round" stroke-linecap="round"/>
<path d="M1813.5 329.2 L1811.3 323.9 L1808.1 319.6 L1803.8 316.9 L1798.5 314.8 L1794.2 313.2 L1789.9 313.4" fill="none" stroke="#000" stroke-width="2.2" stroke-linejoin="round" stroke-linecap="round"/>
<path d="M1787.7 314.5 L1786.9 312.5 L1785.5 312.3 L1783.6 314.4 L1782.4 313.9 L1781.4 313.5 L1780.1 313.8 L1778.6 312.6 L1777.4 314 L1776.1 313.5 L1775.1 315 L1772.9 312.4 L1772.2 314.9 L1770.7 314.9 L1769.2 314.9 L1767.5 314 L1766.7 316.3 L1765.4 314.7 L1764 316.3 L1762.6 316.1 L1761.3 316.1 L1759.8 318.1 L1758.3 316.2 L1756.6 317.1 L1754.9 317.7 L1753.7 314.3 L1751.7 316.6 L1750.3 315.1 L1748.8 313.9 L1747.1 314.3 L1745.6 315.4 L1743.9 314.8 L1742.3 314.7 L1740.1 314.1 L1739.8 317.4 L1737.5 316.9" fill="none" stroke="#000" stroke-width="1.5" stroke-linejoin="round" stroke-linecap="round"/>
<path d="M1787.8 314.2 L1781.4 312.6 L1776 313.2 L1770.7 314.8 L1765.3 316.4 L1759.9 316.2 L1753.5 315.5 L1747.1 314.6 L1740.7 315.1 L1737.5 316.9" fill="none" stroke="#000" stroke-width="2.2" stroke-linejoin="round" stroke-linecap="round"/>
<path d="M1778.2 311.8 L1779.7 310.6 L1781.4 311.2" fill="none" stroke="#000" stroke-width="1.5" stroke-linejoin="round" stroke-linecap="round"/>
<path d="M1778.1 311.6 L1781.4 311.2" fill="none" stroke="#000" stroke-width="1.9" stroke-linejoin="round" stroke-linecap="round"/>
<path d="M1763.7 310 L1763.7 314.2" fill="none" stroke="#000" stroke-width="1.8" stroke-linejoin="round" stroke-linecap="round"/>
<path d="M1736.3 320.3 L1733.3 319.8 L1733.7 321.7 L1732.6 322.6 L1730.8 324.4 L1730.6 326 L1733.2 326.6" fill="none" stroke="#000" stroke-width="1.5" stroke-linejoin="round" stroke-linecap="round"/>
<path d="M1735.3 319.6 L1732.1 323.9 L1733.2 326.6" fill="none" stroke="#000" stroke-width="3.1" stroke-linejoin="round" stroke-linecap="round"/>
<path d="M1738.8 322.6 L1739.1 324.3 L1740.6 324.9 L1739.9 326.3 L1738.2 327.3 L1738.7 329.5 L1736.8 330.1 L1735.4 331.4 L1732.5 332.5 L1734.8 334.6" fill="none" stroke="#000" stroke-width="1.5" stroke-linejoin="round" stroke-linecap="round"/>
<path d="M1738.5 322.8 L1740.7 324.9 L1738.5 329.2 L1735.3 331.4 L1734.8 334.6" fill="none" stroke="#000" stroke-width="3.4" stroke-linejoin="round" stroke-linecap="round"/>
<path d="M1742.8 319.6 L1739.6 323.9" fill="none" stroke="#000" stroke-width="2.0" stroke-linejoin="round" stroke-linecap="round"/>
<path d="M1747.6 322.9 L1747.3 324.6 L1747.7 325.2 L1748.4 327.5 L1746.8 328 L1745 328.4 L1744.2 329.8 L1744.7 332.4 L1743.3 334 L1741.3 333.9 L1739.6 334.6" fill="none" stroke="#000" stroke-width="1.5" stroke-linejoin="round" stroke-linecap="round"/>
<path d="M1748.2 322.8 L1748.7 326 L1746 329.2 L1742.8 333 L1739.6 334.6" fill="none" stroke="#000" stroke-width="1.6" stroke-linejoin="round" stroke-linecap="round"/>
<path d="M1737.4 334.9 L1737.8 336.3 L1739 337.1 L1738.4 339.2 L1738.8 339.8 L1738.1 341.3 L1739.9 343.4 L1738.5 344.8" fill="none" stroke="#000" stroke-width="1.5" stroke-linejoin="round" stroke-linecap="round"/>
<path d="M1736.4 335.7 L1739.6 339.9 L1738.5 344.8" fill="none" stroke="#000" stroke-width="1.6" stroke-linejoin="round" stroke-linecap="round"/>
<path d="M1742.3 343.8 L1743.4 342.6 L1743.3 339.9 L1745.5 339.9" fill="none" stroke="#000" stroke-width="1.5" stroke-linejoin="round" stroke-linecap="round"/>
<path d="M1741.7 343.1 L1745.5 339.9" fill="none" stroke="#000" stroke-width="2.2" stroke-linejoin="round" stroke-linecap="round"/>
<path d="M1722.3 334.5 L1723.4 335.4 L1726 332.9 L1726 336.4 L1728.2 334.7 L1729.3 335.6 L1729.7 338.2 L1731.2 338.1 L1733.6 335.9 L1734.3 337.8" fill="none" stroke="#000" stroke-width="1.5" stroke-linejoin="round" stroke-linecap="round"/>
<path d="M1723 333 L1726.8 334.6 L1730.5 336.2 L1734.3 337.8" fill="none" stroke="#000" stroke-width="2.5" stroke-linejoin="round" stroke-linecap="round"/>
<path d="M1728 339.8 L1726.5 339.9 L1725.5 341.4 L1724.5 342.7 L1722.2 342.6 L1721.5 339.9 L1719 343.5 L1718.5 340 L1717.4 340.2 L1718.3 343.1 L1714.9 343.6 L1713.6 341.7 L1712.1 342.2 L1710.7 342.1" fill="none" stroke="#000" stroke-width="1.5" stroke-linejoin="round" stroke-linecap="round"/>
<path d="M1727.8 339.4 L1722.5 341.5 L1717.1 339.9 L1715 342.6 L1710.7 342.1" fill="none" stroke="#000" stroke-width="3.4" stroke-linejoin="round" stroke-linecap="round"/>
<path d="M1705 341 L1706.9 336.7 L1705.2 336.5 L1703.2 336.7" fill="none" stroke="#000" stroke-width="1.5" stroke-linejoin="round" stroke-linecap="round"/>
<path d="M1706.4 339.4 L1703.2 336.7" fill="none" stroke="#000" stroke-width="2.8" stroke-linejoin="round" stroke-linecap="round"/>
<path d="M1687.8 332.5 L1688 327.1 L1689.7 327.7 L1692.3 326.1 L1692.5 330.8 L1695.1 328.5 L1696.8 328.3 L1697.7 330.4 L1698.1 333.6 L1699.7 333.7 L1702.3 331.1 L1703.2 333" fill="none" stroke="#000" stroke-width="1.5" stroke-linejoin="round" stroke-linecap="round"/>
<path d="M1687.1 329.8 L1691.4 328.7 L1694.6 329.8 L1698.9 331.4 L1703.2 333" fill="none" stroke="#000" stroke-width="3.4" stroke-linejoin="round" stroke-linecap="round"/>
<path d="M1690.2 326.3 L1692 329.1 L1693.2 327.5 L1694.6 327.1" fill="none" stroke="#000" stroke-width="1.5" stroke-linejoin="round" stroke-linecap="round"/>
<path d="M1690.4 327.6 L1694.6 327.1" fill="none" stroke="#000" stroke-width="2.2" stroke-linejoin="round" stroke-linecap="round"/>
<path d="M1682.4 332.7 L1677.1 331.4 L1672.8 329" fill="none" stroke="#000" stroke-width="1.8" stroke-linejoin="round" stroke-linecap="round"/>
<path d="M1656.9 329.9 L1655 327.9 L1655.3 325.8 L1658.1 325.2 L1658.3 323.3" fill="none" stroke="#000" stroke-width="1.5" stroke-linejoin="round" stroke-linecap="round"/>
<path d="M1656.2 329.8 L1656.7 326.6 L1658.3 323.3" fill="none" stroke="#000" stroke-width="2" stroke-linejoin="round" stroke-linecap="round"/>
<path d="M1643 334.8 L1642.8 336.8 L1639.5 335 L1639.3 336.8 L1637.8 337.1 L1638.4 340.2 L1635.5 338.5 L1636.6 341.6 L1633.3 340.6 L1633.7 342.7 L1632.6 343.7" fill="none" stroke="#000" stroke-width="1.5" stroke-linejoin="round" stroke-linecap="round"/>
<path d="M1642.8 334.6 L1639.6 337.3 L1635.3 340.5 L1632.6 343.7" fill="none" stroke="#000" stroke-width="2.2" stroke-linejoin="round" stroke-linecap="round"/>
<path d="M1635.1 330.9 L1637 330.7 L1639.2 331.1 L1639.8 328.3 L1641.7 328.2" fill="none" stroke="#000" stroke-width="1.5" stroke-linejoin="round" stroke-linecap="round"/>
<path d="M1635.3 331.4 L1638.5 329.8 L1641.7 328.2" fill="none" stroke="#000" stroke-width="1.9" stroke-linejoin="round" stroke-linecap="round"/>
<path d="M1632.8 345 L1631 345.1 L1630.4 346.6 L1629.3 347.9 L1627.9 348.3 L1626.7 349.2 L1625.2 349.3 L1623.5 349.6 L1622.1 349.6 L1620.7 348.3 L1619.2 349.6 L1617.8 349 L1616.4 350 L1615 349.5 L1613.6 350.5 L1612.1 349.9 L1610.8 350.7 L1609.2 348.7 L1607.8 349.3 L1606.4 349.6" fill="none" stroke="#000" stroke-width="1.5" stroke-linejoin="round" stroke-linecap="round"/>
<path d="M1632.1 344.2 L1628.9 346.9 L1623.5 349 L1615 349 L1606.4 349.6" fill="none" stroke="#000" stroke-width="1.6" stroke-linejoin="round" stroke-linecap="round"/>
<path d="M1630.4 347.6 L1628.7 347.3 L1626.7 346.5 L1626.7 349.8 L1624.3 348.1 L1623.6 350 L1622.2 350.5 L1620.4 350 L1619.8 352.1 L1618.4 352.4 L1616.8 352.5 L1614.9 352.3 L1614.7 355.1 L1612.5 354.4 L1611.3 355.6 L1610.4 356.6 L1609.8 358 L1608.8 358.9 L1608.4 360.6 L1607.3 361 L1606.4 362.1 L1603.7 361.3 L1603.8 363.5 L1602.9 364.7 L1602.3 365.7 L1599.3 365.2 L1598.4 366.2 L1598.3 367.7 L1598.7 369.5 L1597.3 370.2" fill="none" stroke="#000" stroke-width="1.5" stroke-linejoin="round" stroke-linecap="round"/>
<path d="M1629.9 346.6 L1623.5 349.8 L1617.1 353 L1611.7 356.2 L1606.4 360 L1601 364.8 L1597.3 370.2" fill="none" stroke="#000" stroke-width="2" stroke-linejoin="round" stroke-linecap="round"/>
<path d="M1607.5 349.2 L1608.9 349.4 L1610.3 350.2 L1611.4 348.9 L1613 349.9 L1614.4 349.8" fill="none" stroke="#000" stroke-width="1.5" stroke-linejoin="round" stroke-linecap="round"/>
<path d="M1607.5 350.4 L1611.7 350.4 L1614.4 349.8" fill="none" stroke="#000" stroke-width="2.5" stroke-linejoin="round" stroke-linecap="round"/>
<path d="M1604.5 355 L1603.3 358.2 L1605.9 357.8" fill="none" stroke="#000" stroke-width="1.5" stroke-linejoin="round" stroke-linecap="round"/>
<path d="M1603.7 355.7 L1605.9 357.8" fill="none" stroke="#000" stroke-width="2.5" stroke-linejoin="round" stroke-linecap="round"/>
<path d="M1597.2 365.4 L1598.4 362.7 L1601.3 362.8 L1596.8 362.3 L1599.5 365.5 L1597.8 366.4" fill="none" stroke="#000" stroke-width="1.5" stroke-linejoin="round" stroke-linecap="round"/>
<path d="M1596.8 362.7 L1600 362.1 L1597.8 366.4" fill="none" stroke="#000" stroke-width="3.4" stroke-linejoin="round" stroke-linecap="round"/>
<path d="M1591.2 366.9 L1593.2 366.3 L1593.6 368.5 L1594.7 369.6 L1594.4 371.1 L1595.6 372.6 L1594.1 373.9" fill="none" stroke="#000" stroke-width="1.5" stroke-linejoin="round" stroke-linecap="round"/>
<path d="M1590.9 367.5 L1594.6 369.6 L1594.1 373.9" fill="none" stroke="#000" stroke-width="2.5" stroke-linejoin="round" stroke-linecap="round"/>
<path d="M1587.1 378.2 L1588.5 375.5 L1590 376.9 L1593.5 377.5 L1592.5 379.6 L1592.5 381.4" fill="none" stroke="#000" stroke-width="1.5" stroke-linejoin="round" stroke-linecap="round"/>
<path d="M1587.1 378.2 L1591.4 378.2 L1592.5 381.4" fill="none" stroke="#000" stroke-width="3.1" stroke-linejoin="round" stroke-linecap="round"/>
<path d="M1593.1 385.3 L1593.4 386.6 L1592.2 388.1 L1592.8 389.3 L1591.3 390.9 L1591.8 392.2 L1591.2 393.8 L1592.1 394.9 L1592.2 396.3 L1591.9 397.8 L1594.6 398.3 L1595.4 399.6 L1592.9 402.1 L1597.3 401.9 L1596.2 403.9" fill="none" stroke="#000" stroke-width="1.5" stroke-linejoin="round" stroke-linecap="round"/>
<path d="M1590.9 385.7 L1591.9 392.1 L1594.1 398.5 L1596.2 403.9" fill="none" stroke="#000" stroke-width="2.8" stroke-linejoin="round" stroke-linecap="round"/>
<path d="M1595.6 405 L1596 406.4 L1597.9 407.6 L1596.8 409.2" fill="none" stroke="#000" stroke-width="1.5" stroke-linejoin="round" stroke-linecap="round"/>
<path d="M1596.2 405 L1596.8 409.2" fill="none" stroke="#000" stroke-width="1.6" stroke-linejoin="round" stroke-linecap="round"/>
<path d="M1585.9 441.4 L1585.9 456.7 L1584.9 470.6" fill="none" stroke="#000" stroke-width="1.8" stroke-linejoin="round" stroke-linecap="round"/>
<path d="M1586.8 488.1 L1587.3 489.4 L1589 490 L1589.3 491.5 L1589.6 492.8 L1593.1 492.9 L1592.1 495 L1592.9 496.4" fill="none" stroke="#000" stroke-width="1.5" stroke-linejoin="round" stroke-linecap="round"/>
<path d="M1588.1 487.3 L1590.9 492.2 L1592.9 496.4" fill="none" stroke="#000" stroke-width="2.6" stroke-linejoin="round" stroke-linecap="round"/>
<path d="M1614.8 538.1 L1615 539.9 L1616 541 L1617.6 541.6" fill="none" stroke="#000" stroke-width="1.5" stroke-linejoin="round" stroke-linecap="round"/>
<path d="M1614.8 538.1 L1617.6 541.6" fill="none" stroke="#000" stroke-width="1.5" stroke-linejoin="round" stroke-linecap="round"/>
<path d="M1621.1 548.1 L1622.7 547.5 L1624.3 548.5 L1626 547.4" fill="none" stroke="#000" stroke-width="1.5" stroke-linejoin="round" stroke-linecap="round"/>
<path d="M1621.1 547.2 L1626 547.4" fill="none" stroke="#000" stroke-width="1.5" stroke-linejoin="round" stroke-linecap="round"/>
<path d="M1643.8 558 L1645.2 559 L1646.9 559.4" fill="none" stroke="#000" stroke-width="1.5" stroke-linejoin="round" stroke-linecap="round"/>
<path d="M1644.1 557.6 L1646.9 559.4" fill="none" stroke="#000" stroke-width="1.5" stroke-linejoin="round" stroke-linecap="round"/>
<path d="M1774.7 493.1 L1775.9 492 L1777.4 492 L1779 492.5 L1781.1 491.4 L1781.4 494.5 L1783.3 494.4 L1784.5 495.1 L1784.9 496.7 L1785.2 498.4 L1786.3 499.8" fill="none" stroke="#000" stroke-width="1.5" stroke-linejoin="round" stroke-linecap="round"/>
<path d="M1774.9 494 L1780.5 492.6 L1784.9 495 L1786.3 499.8" fill="none" stroke="#000" stroke-width="2" stroke-linejoin="round" stroke-linecap="round"/>
<path d="M1769.6 530.4 L1774.3 530.2 L1771 532 L1771.4 533.4 L1772.6 534.6 L1772.7 535.9 L1771.3 536.1 L1770.4 537.4" fill="none" stroke="#000" stroke-width="1.5" stroke-linejoin="round" stroke-linecap="round"/>
<path d="M1769.6 530.5 L1772.1 530.5 L1772.8 536 L1770.4 537.4" fill="none" stroke="#000" stroke-width="2.5" stroke-linejoin="round" stroke-linecap="round"/>
<path d="M1716.9 526.5 L1714.9 527.6 L1715.9 529.2 L1716.1 530.7 L1714.8 531.9" fill="none" stroke="#000" stroke-width="1.5" stroke-linejoin="round" stroke-linecap="round"/>
<path d="M1715.7 526.3 L1714.8 531.9" fill="none" stroke="#000" stroke-width="1.4" stroke-linejoin="round" stroke-linecap="round"/>
<path d="M1818.4 486 L1820.2 487.5 L1821.6 485.3 L1823.7 487.1 L1825.4 487.3 L1826.1 485.1 L1827.5 484.5" fill="none" stroke="#000" stroke-width="1.5" stroke-linejoin="round" stroke-linecap="round"/>
<path d="M1818.5 486.9 L1823.4 486.2 L1827.5 484.5" fill="none" stroke="#000" stroke-width="2.1" stroke-linejoin="round" stroke-linecap="round"/>
<path d="M1828.2 485.6 L1829.7 485.6 L1831.4 486 L1832.9 486 L1834.4 485.4 L1835.9 484.8" fill="none" stroke="#000" stroke-width="1.5" stroke-linejoin="round" stroke-linecap="round"/>
<path d="M1828.2 485.9 L1835.9 484.8" fill="none" stroke="#000" stroke-width="1.6" stroke-linejoin="round" stroke-linecap="round"/>
<path d="M1884.7 462.4 L1885.8 459 L1887.2 459.3 L1888.6 459.8 L1890.3 462.5 L1891.5 459.8 L1892.9 461.3 L1894.9 458.3 L1896.2 458.9 L1897.4 460.4 L1898.3 463 L1899.7 463.4 L1900.9 463.5 L1903.1 461.9 L1904 463.7 L1905.5 464 L1906.9 464.5 L1909.1 463.1 L1908.4 467.7 L1911.7 464.9 L1910.4 469.5 L1911.6 470 L1915.6 466.1 L1915.4 469 L1915.2 471.6 L1915.8 473.1 L1918.7 471.5 L1920.5 471.5 L1921.2 471.7 L1921.5 476.3 L1924 472.4 L1924.8 474.9 L1926.7 472.7 L1927.7 475.2 L1928.7 477.9 L1930.9 473.3 L1931.6 477.6 L1933.3 476 L1934.1 478.5 L1935.8 477.8 L1937.9 475.6 L1938.2 479.7 L1940.3 477.8 L1942.8 476 L1944.1 476.5 L1944.1 479.7 L1945.4 480.4" fill="none" stroke="#000" stroke-width="1.5" stroke-linejoin="round" stroke-linecap="round"/>
<path d="M1884.6 461.6 L1892.9 460.9 L1901.3 462.5 L1909.6 465.7 L1915.2 469.2 L1920.8 473.4 L1926.3 474.8 L1933.3 475.9 L1940.3 477.9 L1945.4 480.4" fill="none" stroke="#000" stroke-width="3.4" stroke-linejoin="round" stroke-linecap="round"/>
<path d="M1920.8 472.5 L1922.2 471.9 L1923.7 471.3 L1925 472.3 L1926.3 473.1" fill="none" stroke="#000" stroke-width="1.5" stroke-linejoin="round" stroke-linecap="round"/>
<path d="M1920.8 472.7 L1926.3 473.1" fill="none" stroke="#000" stroke-width="2.5" stroke-linejoin="round" stroke-linecap="round"/>
<path d="M1842.9 484.3 L1844.1 486 L1845.8 483.6 L1846.9 486 L1848.4 485.4" fill="none" stroke="#000" stroke-width="1.5" stroke-linejoin="round" stroke-linecap="round"/>
<path d="M1842.8 484.8 L1848.4 485.4" fill="none" stroke="#000" stroke-width="1.6" stroke-linejoin="round" stroke-linecap="round"/>
<path d="M1871.5 479.7 L1874.1 477.3 L1874.2 481.1 L1875.9 480.8 L1877 482.1 L1879 480.1 L1880.4 480.5 L1881.8 480.6 L1883.2 483.3 L1884.6 481.5 L1886 480.4 L1887.4 481.1" fill="none" stroke="#000" stroke-width="1.5" stroke-linejoin="round" stroke-linecap="round"/>
<path d="M1872.1 478.3 L1879 481.1 L1887.4 481.1" fill="none" stroke="#000" stroke-width="2.5" stroke-linejoin="round" stroke-linecap="round"/>
<path d="M1859.5 472.5 L1860.9 472 L1862.2 471.2 L1863.6 471.2 L1865.2 472.9 L1866.4 471.3 L1867.8 472.9 L1869.3 471.2 L1870.7 471.3 L1872.1 472 L1873.5 471.3 L1874.9 471.9 L1876.2 472.3" fill="none" stroke="#000" stroke-width="1.5" stroke-linejoin="round" stroke-linecap="round"/>
<path d="M1859.5 472.7 L1867.9 471.7 L1876.2 472.3" fill="none" stroke="#000" stroke-width="1.4" stroke-linejoin="round" stroke-linecap="round"/>
<path d="M1850.5 493.7 L1852 494.1 L1853.5 494.4 L1855.2 494.4 L1857.2 496 L1858.7 495.6 L1859.6 493.8 L1861.2 493.8 L1862.1 491 L1863.9 493.2 L1865.1 492 L1866.6 492.8 L1868 492.2 L1869.2 490.7 L1870.8 489.6 L1871.9 492.9 L1873.6 490.1 L1874.9 491.5 L1876.3 491.1 L1877.5 491.1 L1879.4 492.3 L1881.1 492.8 L1882.1 489.9 L1883.9 490.4" fill="none" stroke="#000" stroke-width="1.5" stroke-linejoin="round" stroke-linecap="round"/>
<path d="M1851.2 492.2 L1856.8 494.6 L1862.3 492.6 L1870.7 491.2 L1877.6 491.8 L1883.9 490.4" fill="none" stroke="#000" stroke-width="2" stroke-linejoin="round" stroke-linecap="round"/>
<path d="M1856.4 482.1 L1858.2 482.4 L1858.7 484 L1860.1 484.7 L1860.9 485.9" fill="none" stroke="#000" stroke-width="1.5" stroke-linejoin="round" stroke-linecap="round"/>
<path d="M1856.8 481.8 L1860.9 485.9" fill="none" stroke="#000" stroke-width="1.6" stroke-linejoin="round" stroke-linecap="round"/>
<path d="M1919.3 499.7 L1920.5 500.5 L1921.7 501.4 L1921.7 504.1 L1923.7 503.9 L1925.4 503.9 L1925.4 506.5 L1926.5 507.5 L1928.5 506.7 L1930.2 506.5 L1931.3 507.4 L1932.4 507.7 L1933.5 509 L1935.2 508.8 L1936.4 509.9 L1937.8 510.5 L1938.8 512 L1940.3 512.4" fill="none" stroke="#000" stroke-width="1.5" stroke-linejoin="round" stroke-linecap="round"/>
<path d="M1918.7 500.5 L1925 504.7 L1931.9 508.9 L1940.3 512.4" fill="none" stroke="#000" stroke-width="1.7" stroke-linejoin="round" stroke-linecap="round"/>
<path d="M1928.1 493.7 L1929.3 494.5 L1931 494.9 L1931.9 496.1 L1932.4 497.4 L1933.7 498.2 L1934.5 499.3 L1936 500 L1936 501.5 L1934.7 503.9 L1937.9 503.6 L1937.5 505.4 L1938.4 506.7 L1939 508.2 L1941.6 507.4 L1942.6 508.5 L1943.8 509.4 L1944.4 511" fill="none" stroke="#000" stroke-width="1.5" stroke-linejoin="round" stroke-linecap="round"/>
<path d="M1929.1 492.9 L1933.3 498.5 L1937.5 505.4 L1944.4 511" fill="none" stroke="#000" stroke-width="1.9" stroke-linejoin="round" stroke-linecap="round"/>
<path d="M1904.2 486.4 L1905.3 487 L1905.9 488.9 L1907.3 489.1 L1908.4 489.7 L1910.6 488.1 L1911.8 488.7 L1912.3 490.9 L1913.5 491.8 L1915.2 491.1 L1916.5 491.7 L1918.4 490.5 L1919.5 491.9 L1920.8 492.6" fill="none" stroke="#000" stroke-width="1.5" stroke-linejoin="round" stroke-linecap="round"/>
<path d="M1904.1 486.6 L1912.4 490.4 L1920.8 492.6" fill="none" stroke="#000" stroke-width="1.5" stroke-linejoin="round" stroke-linecap="round"/>
<path d="M1882.6 537.4 L1884 537.1 L1885.3 537.3 L1886.6 537.9 L1888.2 535.2 L1889.5 536.3" fill="none" stroke="#000" stroke-width="1.5" stroke-linejoin="round" stroke-linecap="round"/>
<path d="M1882.8 535.8 L1889.5 536.3" fill="none" stroke="#000" stroke-width="2.1" stroke-linejoin="round" stroke-linecap="round"/>
<path d="M1906.7 528.2 L1908.1 528.1 L1909.7 528.9 L1911.1 529.1 L1912.7 529.7 L1913.8 528.1" fill="none" stroke="#000" stroke-width="1.5" stroke-linejoin="round" stroke-linecap="round"/>
<path d="M1906.9 529.4 L1913.8 528.1" fill="none" stroke="#000" stroke-width="1.6" stroke-linejoin="round" stroke-linecap="round"/>
<path d="M1899.9 446.3 L1905.5 444.5" fill="none" stroke="#000" stroke-width="1.6" stroke-linejoin="round" stroke-linecap="round"/>
<path d="M1925.9 391.1 L1927.1 391.7 L1928 392.8 L1929.6 392.8 L1930.5 393.8 L1931.3 392.9 L1933.3 395.1 L1934.2 392.9 L1936.1 394.9 L1937.2 393.7 L1938.3 392.2 L1939.6 391.3 L1941 391.4 L1942.7 392.3 L1944.2 392.2 L1945.4 391.3" fill="none" stroke="#000" stroke-width="1.5" stroke-linejoin="round" stroke-linecap="round"/>
<path d="M1926.3 390.5 L1931.7 394.5 L1937.1 393.2 L1945.4 391.3" fill="none" stroke="#000" stroke-width="1.9" stroke-linejoin="round" stroke-linecap="round"/>
<path d="M1934.3 386.6 L1935.7 387.6 L1936 390" fill="none" stroke="#000" stroke-width="1.5" stroke-linejoin="round" stroke-linecap="round"/>
<path d="M1933.3 387.8 L1936 390" fill="none" stroke="#000" stroke-width="2.2" stroke-linejoin="round" stroke-linecap="round"/>
<path d="M1937 379.3 L1938.2 380.1 L1939.6 380.3 L1941 380.6 L1941.7 382.2 L1943.7 381.6 L1944.5 382.9 L1945.4 384.1" fill="none" stroke="#000" stroke-width="1.5" stroke-linejoin="round" stroke-linecap="round"/>
<path d="M1937.1 379.3 L1941.9 381.9 L1945.4 384.1" fill="none" stroke="#000" stroke-width="1.4" stroke-linejoin="round" stroke-linecap="round"/>
<path d="M1940.9 385 L1941.9 385.7" fill="none" stroke="#000" stroke-width="1.5" stroke-linejoin="round" stroke-linecap="round"/>
<path d="M1940.8 385.1 L1941.9 385.7" fill="none" stroke="#000" stroke-width="1.9" stroke-linejoin="round" stroke-linecap="round"/>
<path d="M1920 410 L1921.3 411.7 L1922.1 413.5" fill="none" stroke="#000" stroke-width="1.5" stroke-linejoin="round" stroke-linecap="round"/>
<path d="M1921.5 409.8 L1922.1 413.5" fill="none" stroke="#000" stroke-width="1.9" stroke-linejoin="round" stroke-linecap="round"/>
<path d="M1935.2 433.5 L1937.5 433.1 L1939.4 433.2 L1941 434.2 L1940.1 437.3 L1941.8 437.6 L1944 437.6 L1944.6 439.2" fill="none" stroke="#000" stroke-width="1.5" stroke-linejoin="round" stroke-linecap="round"/>
<path d="M1936 432.3 L1940.3 434.9 L1944.6 439.2" fill="none" stroke="#000" stroke-width="2.2" stroke-linejoin="round" stroke-linecap="round"/>
<path d="M1943.7 419.6 L1942.1 421.6 L1942.4 423.2" fill="none" stroke="#000" stroke-width="1.5" stroke-linejoin="round" stroke-linecap="round"/>
<path d="M1941.9 419.9 L1942.4 423.2" fill="none" stroke="#000" stroke-width="2.2" stroke-linejoin="round" stroke-linecap="round"/>
<path d="M1818.9 487.6 L1820.3 486.3 L1821.8 485.3 L1823.6 485.7" fill="none" stroke="#000" stroke-width="1.5" stroke-linejoin="round" stroke-linecap="round"/>
<path d="M1818.7 487 L1823.6 485.7" fill="none" stroke="#000" stroke-width="1.9" stroke-linejoin="round" stroke-linecap="round"/>
<circle cx="1856.2" cy="432.8" r="1.4" fill="#555"/>
<circle cx="1731.1" cy="473.1" r="1.1" fill="#445"/>
<circle cx="1732.9" cy="476.6" r="1.1" fill="#667"/>
<circle cx="1701.8" cy="481.8" r="1.0" fill="#667"/>
<circle cx="1691.1" cy="519.1" r="1.0" fill="#778"/>
<circle cx="1775.6" cy="550" r="1.2" fill="#445"/>
<circle cx="1775.6" cy="546.9" r="0.8" fill="#778"/>
<circle cx="1685.8" cy="504.7" r="1.4" fill="#667"/>
<circle cx="1691.1" cy="518.9" r="1.2" fill="#556"/>
<circle cx="1596.1" cy="493.6" r="0.9" fill="#778"/>
<circle cx="1925.3" cy="404.6" r="1.3" fill="#556"/>
<circle cx="1923.7" cy="418.3" r="1.3" fill="#445"/>
<circle cx="1929.6" cy="406" r="0.9" fill="#778"/>
<circle cx="1901.3" cy="450.7" r="1.0" fill="#334"/>
<circle cx="1912.4" cy="446.3" r="0.9" fill="#334"/>
<circle cx="1914.5" cy="450.4" r="0.9" fill="#334"/>
<circle cx="1917.3" cy="454.2" r="1.1" fill="#223"/>
<circle cx="1887.4" cy="491.5" r="1.2" fill="#556"/>
<circle cx="1874.8" cy="486.6" r="0.9" fill="#667"/>
<circle cx="1916.6" cy="494.6" r="0.9" fill="#667"/>
<circle cx="1907.1" cy="444" r="1.0" fill="#445"/>
<circle cx="1791.5" cy="423.2" r="4.4" fill="#f00" stroke="#000" stroke-width="1.7"/>
<circle cx="1791.6" cy="424.3" r="4.4" fill="#f00" stroke="#000" stroke-width="1.7"/>
</g>
<path d="M1564.0 561.4H1945.6V259.8H1916.5" fill="none" stroke="#000" stroke-width="1.1"/>
<path d="M1564.5 561.4v9.2M1564.5 259.8v-9.2M1618.5 561.4v9.2M1618.5 259.8v-9.2M1673.5 561.4v9.2M1673.5 259.8v-9.2M1727.5 561.4v9.2M1727.5 259.8v-9.2M1782.5 561.4v9.2M1782.5 259.8v-9.2M1836.5 561.4v9.2M1836.5 259.8v-9.2M1891.5 561.4v9.2M1891.5 259.8v-9.2M1945.5 561.4v9.2M1945.5 259.8v-9.2M1564.0 561.5h-9.2M1945.6 561.5h9.2M1564.0 503.5h-9.2M1945.6 503.5h9.2M1564.0 445.5h-9.2M1945.6 445.5h9.2M1564.0 385.5h-9.2M1945.6 385.5h9.2M1564.0 323.5h-9.2M1945.6 323.5h9.2M1564.0 260.5h-9.2M1945.6 260.5h9.2" stroke="#000" stroke-width="3.05" fill="none"/>
<path d="M1582.5 561.4v2.8M1582.5 259.8v-2.8M1600.5 561.4v2.8M1600.5 259.8v-2.8M1636.5 561.4v2.8M1636.5 259.8v-2.8M1654.5 561.4v2.8M1654.5 259.8v-2.8M1691.5 561.4v2.8M1691.5 259.8v-2.8M1709.5 561.4v2.8M1709.5 259.8v-2.8M1745.5 561.4v2.8M1745.5 259.8v-2.8M1763.5 561.4v2.8M1763.5 259.8v-2.8M1800.5 561.4v2.8M1800.5 259.8v-2.8M1818.5 561.4v2.8M1818.5 259.8v-2.8M1854.5 561.4v2.8M1854.5 259.8v-2.8M1872.5 561.4v2.8M1872.5 259.8v-2.8M1909.5 561.4v2.8M1909.5 259.8v-2.8M1927.5 561.4v2.8M1927.5 259.8v-2.8M1564.0 542.5h-2.8M1945.6 542.5h2.8M1564.0 523.5h-2.8M1945.6 523.5h2.8M1564.0 484.5h-2.8M1945.6 484.5h2.8M1564.0 464.5h-2.8M1945.6 464.5h2.8M1564.0 425.5h-2.8M1945.6 425.5h2.8M1564.0 405.5h-2.8M1945.6 405.5h2.8M1564.0 365.5h-2.8M1945.6 365.5h2.8M1564.0 344.5h-2.8M1945.6 344.5h2.8M1564.0 302.5h-2.8M1945.6 302.5h2.8M1564.0 281.5h-2.8M1945.6 281.5h2.8" stroke="#000" stroke-width="1.55" fill="none"/>
<text x="1548.8" y="570.6" font-size="22.4px" text-anchor="end">18°N</text>
<text x="1548.8" y="512.9" font-size="22.4px" text-anchor="end">21°N</text>
<text x="1548.8" y="454.9" font-size="22.4px" text-anchor="end">24°N</text>
<text x="1548.8" y="394.9" font-size="22.4px" text-anchor="end">27°N</text>
<text x="1548.8" y="332.9" font-size="22.4px" text-anchor="end">30°N</text>
<text x="1548.8" y="269.9" font-size="22.4px" text-anchor="end">33°N</text>
<text transform="translate(1563,607.3) rotate(-45)" font-size="22.4px" text-anchor="middle" dominant-baseline="central">99°W</text>
<text transform="translate(1617,607.3) rotate(-45)" font-size="22.4px" text-anchor="middle" dominant-baseline="central">96°W</text>
<text transform="translate(1672,607.3) rotate(-45)" font-size="22.4px" text-anchor="middle" dominant-baseline="central">93°W</text>
<text transform="translate(1726,607.3) rotate(-45)" font-size="22.4px" text-anchor="middle" dominant-baseline="central">90°W</text>
<text transform="translate(1781,607.3) rotate(-45)" font-size="22.4px" text-anchor="middle" dominant-baseline="central">87°W</text>
<text transform="translate(1835,607.3) rotate(-45)" font-size="22.4px" text-anchor="middle" dominant-baseline="central">84°W</text>
<text transform="translate(1890,607.3) rotate(-45)" font-size="22.4px" text-anchor="middle" dominant-baseline="central">81°W</text>
<text transform="translate(1944,607.3) rotate(-45)" font-size="22.4px" text-anchor="middle" dominant-baseline="central">78°W</text>
<rect x="1658.2" y="646" width="193" height="143.8" rx="4.4" ry="4.4" fill="#fff" fill-opacity="0.8" stroke="#ccc" stroke-width="1.6"/>
<path d="M1667.6 665.5H1712.6" stroke="#0000ff" stroke-width="2.5" stroke-linecap="square" fill="none"/>
<circle cx="1689.6" cy="665.5" r="5.85" fill="#0000ff"/>
<text transform="translate(1730.3,673.7)" font-size="22.5px">unit_1148</text>
<path d="M1667.6 699.8H1712.6" stroke="#ff0000" stroke-width="2.5" stroke-linecap="square" fill="none"/>
<circle cx="1689.6" cy="699.8" r="5.85" fill="#ff0000"/>
<text transform="translate(1730.3,708)" font-size="22.5px">RTOFS</text>
<path d="M1667.6 734.1H1712.6" stroke="#008000" stroke-width="2.5" stroke-linecap="square" fill="none"/>
<circle cx="1689.6" cy="734.1" r="5.85" fill="#008000"/>
<text transform="translate(1730.3,742.3)" font-size="22.5px">ESPC</text>
<path d="M1667.6 768.4H1712.6" stroke="#ff00ff" stroke-width="2.5" stroke-linecap="square" fill="none"/>
<circle cx="1689.6" cy="768.4" r="5.85" fill="#ff00ff"/>
<text transform="translate(1730.3,776.6)" font-size="22.5px">CMEMS</text>
</svg></body></html>
